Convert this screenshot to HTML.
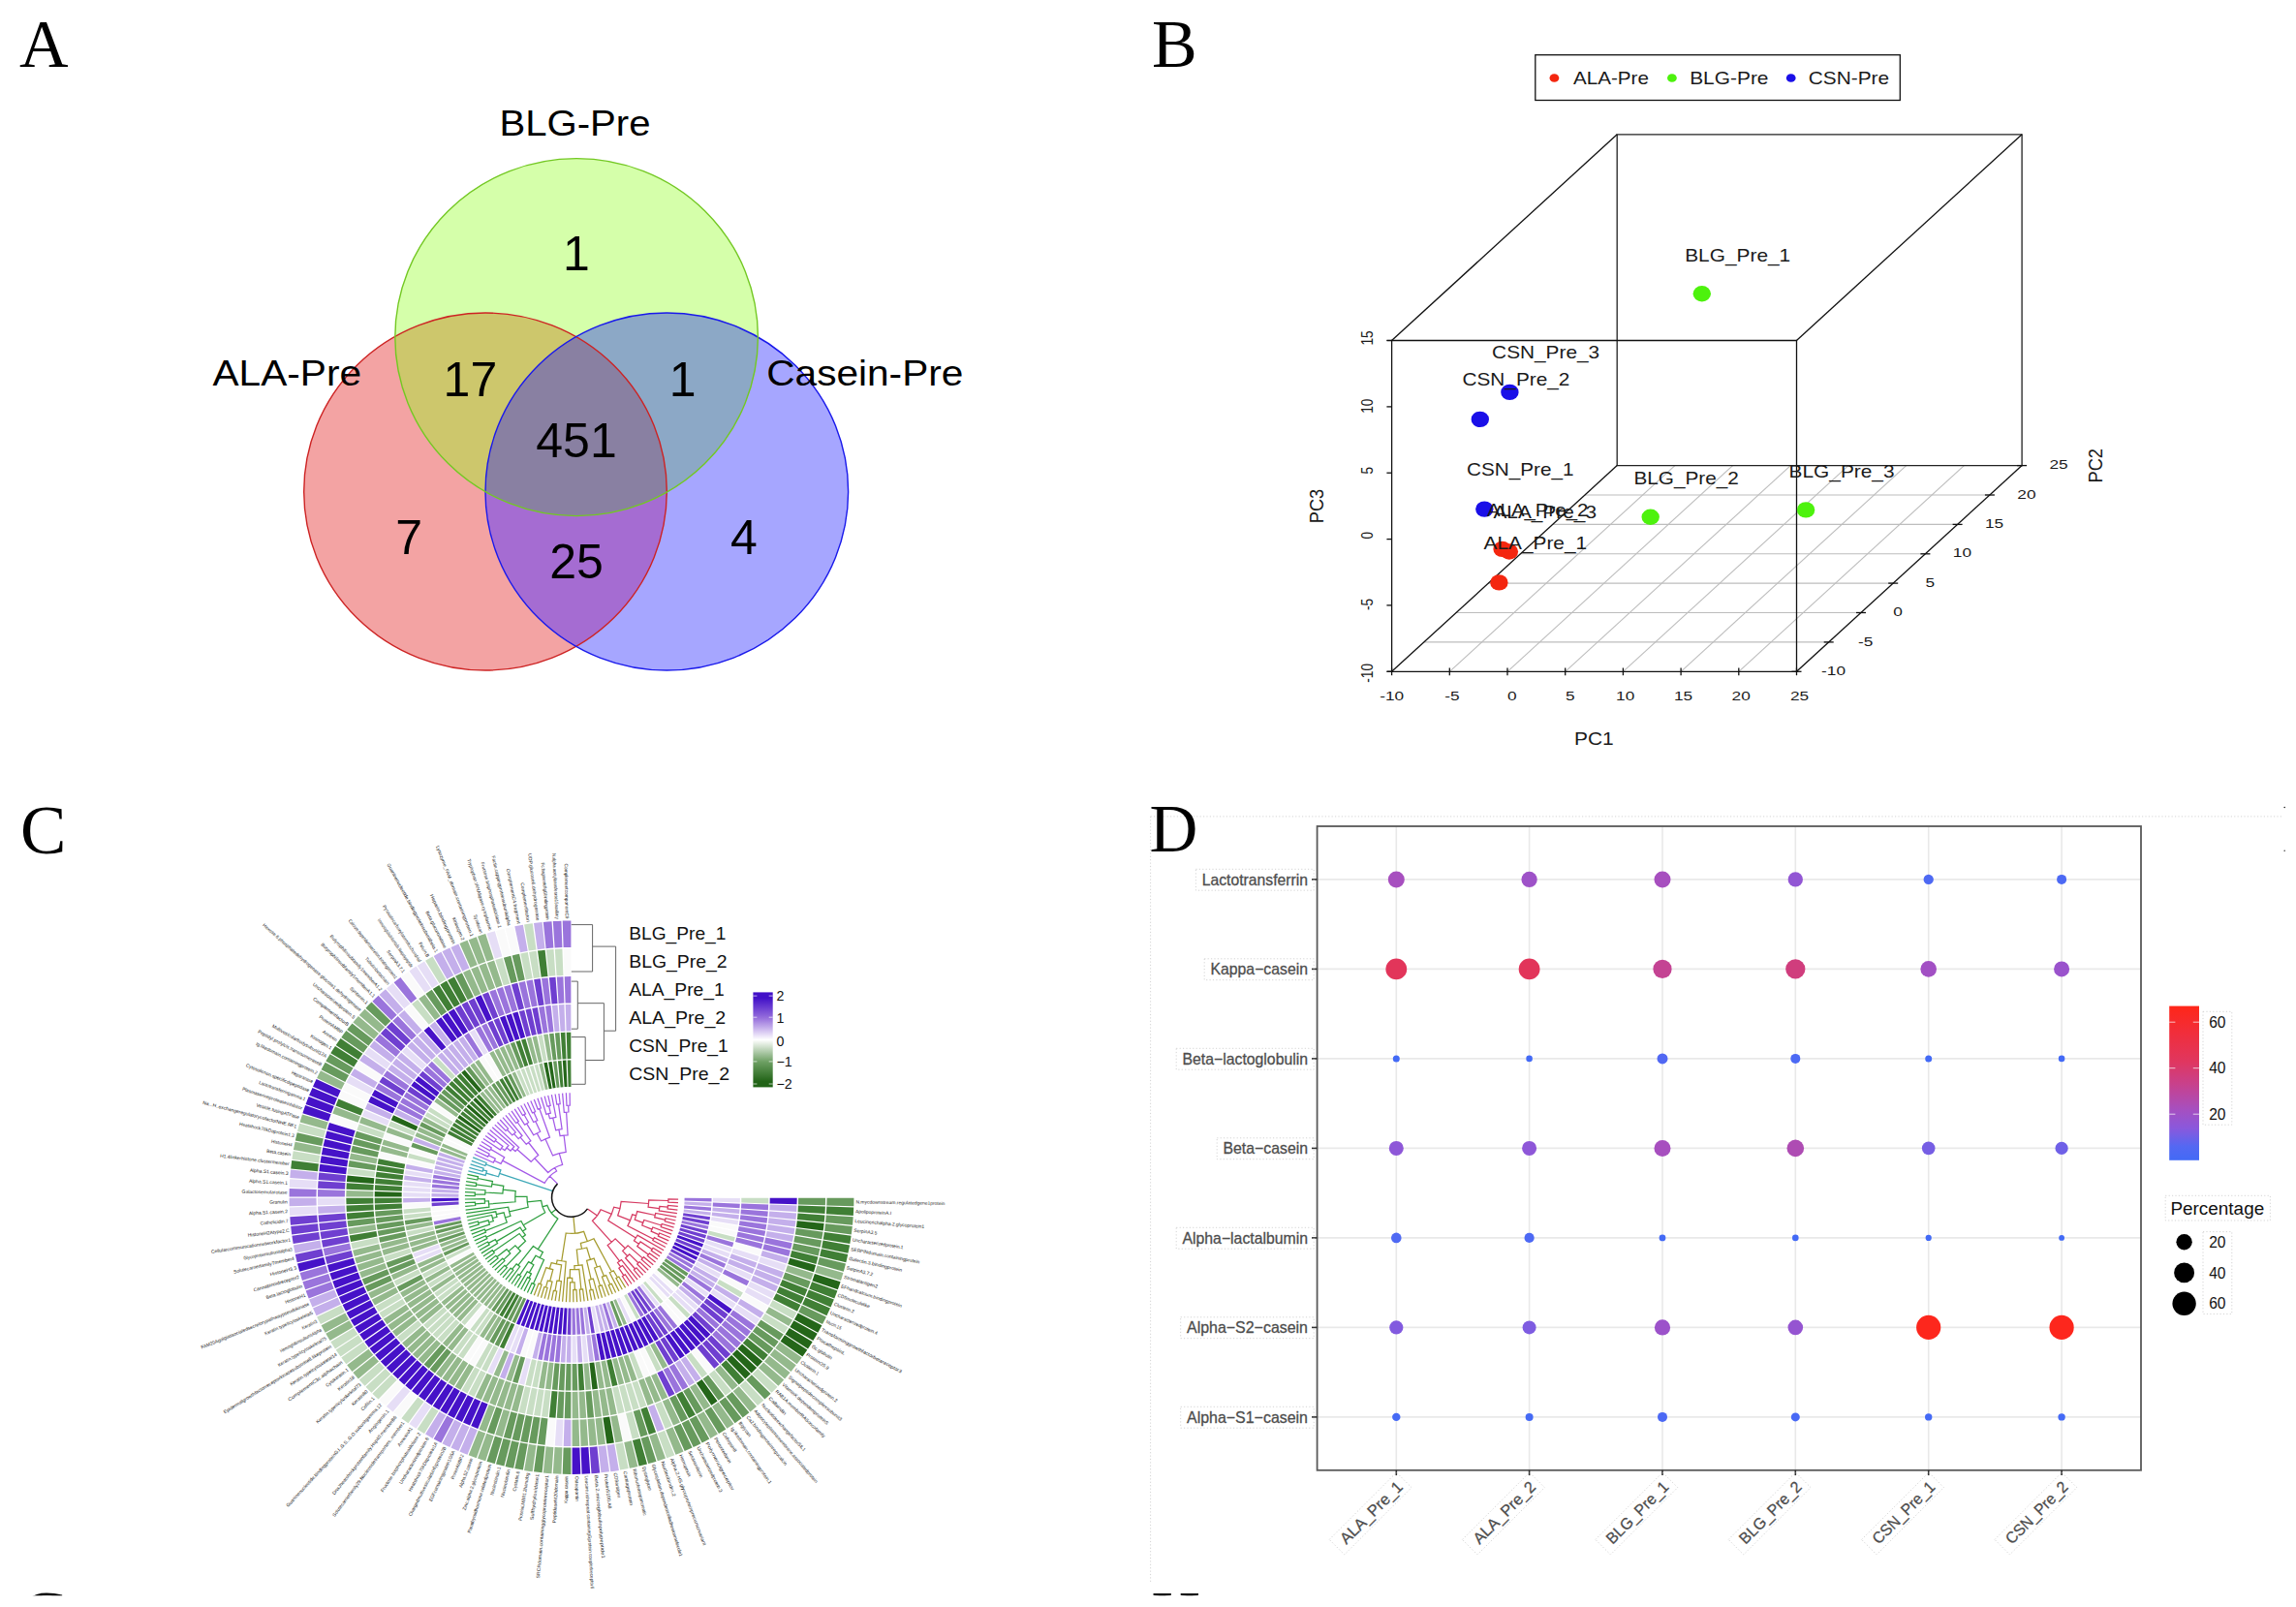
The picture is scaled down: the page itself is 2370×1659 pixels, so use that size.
<!DOCTYPE html>
<html><head><meta charset="utf-8"><title>Figure</title>
<style>html,body{margin:0;padding:0;background:#fff;}svg{display:block;}</style></head>
<body><svg width="2370" height="1659" viewBox="0 0 2370 1659">
<rect width="2370" height="1659" fill="#fff"/>
<g id="panelA">
<defs>
<clipPath id="cG"><ellipse cx="595.1" cy="348.1" rx="187.3" ry="184.5" /></clipPath>
<clipPath id="cR"><ellipse cx="501.0" cy="507.5" rx="187.3" ry="184.5" /></clipPath>
<clipPath id="cB"><ellipse cx="688.3" cy="507.5" rx="187.3" ry="184.5" /></clipPath>
</defs>
<ellipse cx="501.0" cy="507.5" rx="187.3" ry="184.5" fill="rgb(243,163,163)"/>
<ellipse cx="595.1" cy="348.1" rx="187.3" ry="184.5" fill="rgb(213,255,170)"/>
<ellipse cx="688.3" cy="507.5" rx="187.3" ry="184.5" fill="rgb(166,166,255)"/>
<g clip-path="url(#cG)"><ellipse cx="501.0" cy="507.5" rx="187.3" ry="184.5" fill="rgb(205,199,108)"/></g>
<g clip-path="url(#cG)"><ellipse cx="688.3" cy="507.5" rx="187.3" ry="184.5" fill="rgb(140,168,198)"/></g>
<g clip-path="url(#cR)"><ellipse cx="688.3" cy="507.5" rx="187.3" ry="184.5" fill="rgb(165,108,210)"/></g>
<g clip-path="url(#cG)"><g clip-path="url(#cR)"><ellipse cx="688.3" cy="507.5" rx="187.3" ry="184.5" fill="rgb(137,128,162)"/></g></g>
<ellipse cx="501.0" cy="507.5" rx="187.3" ry="184.5" fill="none" stroke="rgb(205,35,35)" stroke-width="1.4"/>
<ellipse cx="688.3" cy="507.5" rx="187.3" ry="184.5" fill="none" stroke="rgb(25,25,235)" stroke-width="1.4"/>
<ellipse cx="595.1" cy="348.1" rx="187.3" ry="184.5" fill="none" stroke="rgb(115,200,35)" stroke-width="1.4"/>
<text x="595.0" y="279.0" font-family='"Liberation Sans", sans-serif' font-size="50" text-anchor="middle" fill="#000">1</text>
<text x="485.4" y="408.9" font-family='"Liberation Sans", sans-serif' font-size="50" text-anchor="middle" fill="#000">17</text>
<text x="704.6" y="408.9" font-family='"Liberation Sans", sans-serif' font-size="50" text-anchor="middle" fill="#000">1</text>
<text x="595.0" y="471.6" font-family='"Liberation Sans", sans-serif' font-size="50" text-anchor="middle" fill="#000">451</text>
<text x="422.2" y="571.8" font-family='"Liberation Sans", sans-serif' font-size="50" text-anchor="middle" fill="#000">7</text>
<text x="767.8" y="571.8" font-family='"Liberation Sans", sans-serif' font-size="50" text-anchor="middle" fill="#000">4</text>
<text x="595.0" y="596.6" font-family='"Liberation Sans", sans-serif' font-size="50" text-anchor="middle" fill="#000">25</text>
<text x="515.5" y="139.5" font-family='"Liberation Sans", sans-serif' font-size="37.6" fill="#000" textLength="156.0" lengthAdjust="spacingAndGlyphs">BLG-Pre</text>
<text x="219.5" y="397.7" font-family='"Liberation Sans", sans-serif' font-size="37.6" fill="#000" textLength="153.5" lengthAdjust="spacingAndGlyphs">ALA-Pre</text>
<text x="791.3" y="397.7" font-family='"Liberation Sans", sans-serif' font-size="37.6" fill="#000" textLength="203.0" lengthAdjust="spacingAndGlyphs">Casein-Pre</text>
<text x="20.0" y="68.5" font-family='"Liberation Serif", serif' font-size="70" fill="#000">A</text>
</g>
<g id="panelB">
<line x1="1469.8" y1="662.9" x2="1887.7" y2="662.9" stroke="#bdbdbd" stroke-width="1.1"/>
<line x1="1503.1" y1="632.5" x2="1921.0" y2="632.5" stroke="#bdbdbd" stroke-width="1.1"/>
<line x1="1536.3" y1="602.1" x2="1954.2" y2="602.1" stroke="#bdbdbd" stroke-width="1.1"/>
<line x1="1569.5" y1="571.8" x2="1987.4" y2="571.8" stroke="#bdbdbd" stroke-width="1.1"/>
<line x1="1602.7" y1="541.4" x2="2020.6" y2="541.4" stroke="#bdbdbd" stroke-width="1.1"/>
<line x1="1636.0" y1="511.0" x2="2053.9" y2="511.0" stroke="#bdbdbd" stroke-width="1.1"/>
<line x1="1496.3" y1="693.3" x2="1728.9" y2="480.6" stroke="#bdbdbd" stroke-width="1.1"/>
<line x1="1556.0" y1="693.3" x2="1788.6" y2="480.6" stroke="#bdbdbd" stroke-width="1.1"/>
<line x1="1615.7" y1="693.3" x2="1848.3" y2="480.6" stroke="#bdbdbd" stroke-width="1.1"/>
<line x1="1675.4" y1="693.3" x2="1908.0" y2="480.6" stroke="#bdbdbd" stroke-width="1.1"/>
<line x1="1735.1" y1="693.3" x2="1967.7" y2="480.6" stroke="#bdbdbd" stroke-width="1.1"/>
<line x1="1794.8" y1="693.3" x2="2027.4" y2="480.6" stroke="#bdbdbd" stroke-width="1.1"/>
<path d="M1669.2 480.6 L1669.2 138.8 L2087.1 138.8 L2087.1 480.6 Z" fill="none" stroke="#222" stroke-width="1.3"/>
<line x1="1436.6" y1="351.5" x2="1669.2" y2="138.8" stroke="#111" stroke-width="1.3"/>
<line x1="1854.5" y1="351.5" x2="2087.1" y2="138.8" stroke="#111" stroke-width="1.3"/>
<line x1="1436.6" y1="693.3" x2="1669.2" y2="480.6" stroke="#111" stroke-width="1.3"/>
<line x1="1854.5" y1="693.3" x2="2087.1" y2="480.6" stroke="#111" stroke-width="1.3"/>
<path d="M1436.6 693.3 L1436.6 351.5 L1854.5 351.5 L1854.5 693.3 Z" fill="none" stroke="#111" stroke-width="1.3"/>
<line x1="1431.6" y1="693.3" x2="1436.6" y2="693.3" stroke="#111" stroke-width="1.3"/>
<line x1="1431.6" y1="351.5" x2="1436.6" y2="351.5" stroke="#111" stroke-width="1.3"/>
<line x1="1436.6" y1="689.5" x2="1436.6" y2="697.2" stroke="#111" stroke-width="1.3"/>
<text transform="translate(1436.6,722.7) scale(1.26,1)" font-family='"Liberation Sans", sans-serif' font-size="13.7" text-anchor="middle" fill="#1a1a1a">-10</text>
<line x1="1496.3" y1="689.5" x2="1496.3" y2="697.2" stroke="#111" stroke-width="1.3"/>
<text transform="translate(1498.9,722.7) scale(1.26,1)" font-family='"Liberation Sans", sans-serif' font-size="13.7" text-anchor="middle" fill="#1a1a1a">-5</text>
<line x1="1556.0" y1="689.5" x2="1556.0" y2="697.2" stroke="#111" stroke-width="1.3"/>
<text transform="translate(1560.7,722.7) scale(1.26,1)" font-family='"Liberation Sans", sans-serif' font-size="13.7" text-anchor="middle" fill="#1a1a1a">0</text>
<line x1="1615.7" y1="689.5" x2="1615.7" y2="697.2" stroke="#111" stroke-width="1.3"/>
<text transform="translate(1620.7,722.7) scale(1.26,1)" font-family='"Liberation Sans", sans-serif' font-size="13.7" text-anchor="middle" fill="#1a1a1a">5</text>
<line x1="1675.4" y1="689.5" x2="1675.4" y2="697.2" stroke="#111" stroke-width="1.3"/>
<text transform="translate(1677.7,722.7) scale(1.26,1)" font-family='"Liberation Sans", sans-serif' font-size="13.7" text-anchor="middle" fill="#1a1a1a">10</text>
<line x1="1735.1" y1="689.5" x2="1735.1" y2="697.2" stroke="#111" stroke-width="1.3"/>
<text transform="translate(1737.6,722.7) scale(1.26,1)" font-family='"Liberation Sans", sans-serif' font-size="13.7" text-anchor="middle" fill="#1a1a1a">15</text>
<line x1="1794.8" y1="689.5" x2="1794.8" y2="697.2" stroke="#111" stroke-width="1.3"/>
<text transform="translate(1797.2,722.7) scale(1.26,1)" font-family='"Liberation Sans", sans-serif' font-size="13.7" text-anchor="middle" fill="#1a1a1a">20</text>
<line x1="1854.5" y1="689.5" x2="1854.5" y2="697.2" stroke="#111" stroke-width="1.3"/>
<text transform="translate(1857.5,722.7) scale(1.26,1)" font-family='"Liberation Sans", sans-serif' font-size="13.7" text-anchor="middle" fill="#1a1a1a">25</text>
<line x1="1431.4" y1="693.3" x2="1436.6" y2="693.3" stroke="#111" stroke-width="1.3"/>
<text transform="translate(1417.0,694.8) scale(1.26,1) rotate(-90)" font-family='"Liberation Sans", sans-serif' font-size="13.7" text-anchor="middle" fill="#1a1a1a">-10</text>
<line x1="1431.4" y1="624.9" x2="1436.6" y2="624.9" stroke="#111" stroke-width="1.3"/>
<text transform="translate(1417.0,623.9) scale(1.26,1) rotate(-90)" font-family='"Liberation Sans", sans-serif' font-size="13.7" text-anchor="middle" fill="#1a1a1a">-5</text>
<line x1="1431.4" y1="556.6" x2="1436.6" y2="556.6" stroke="#111" stroke-width="1.3"/>
<text transform="translate(1417.0,552.6) scale(1.26,1) rotate(-90)" font-family='"Liberation Sans", sans-serif' font-size="13.7" text-anchor="middle" fill="#1a1a1a">0</text>
<line x1="1431.4" y1="488.2" x2="1436.6" y2="488.2" stroke="#111" stroke-width="1.3"/>
<text transform="translate(1417.0,485.7) scale(1.26,1) rotate(-90)" font-family='"Liberation Sans", sans-serif' font-size="13.7" text-anchor="middle" fill="#1a1a1a">5</text>
<line x1="1431.4" y1="419.9" x2="1436.6" y2="419.9" stroke="#111" stroke-width="1.3"/>
<text transform="translate(1417.0,419.2) scale(1.26,1) rotate(-90)" font-family='"Liberation Sans", sans-serif' font-size="13.7" text-anchor="middle" fill="#1a1a1a">10</text>
<line x1="1431.4" y1="351.5" x2="1436.6" y2="351.5" stroke="#111" stroke-width="1.3"/>
<text transform="translate(1417.0,349.0) scale(1.26,1) rotate(-90)" font-family='"Liberation Sans", sans-serif' font-size="13.7" text-anchor="middle" fill="#1a1a1a">15</text>
<line x1="1849.5" y1="693.3" x2="1859.5" y2="693.3" stroke="#111" stroke-width="1.3"/>
<text transform="translate(1892.5,696.9) scale(1.26,1)" font-family='"Liberation Sans", sans-serif' font-size="13.7" text-anchor="middle" fill="#1a1a1a">-10</text>
<line x1="1882.7" y1="662.9" x2="1892.7" y2="662.9" stroke="#111" stroke-width="1.3"/>
<text transform="translate(1925.7,666.5) scale(1.26,1)" font-family='"Liberation Sans", sans-serif' font-size="13.7" text-anchor="middle" fill="#1a1a1a">-5</text>
<line x1="1916.0" y1="632.5" x2="1926.0" y2="632.5" stroke="#111" stroke-width="1.3"/>
<text transform="translate(1959.0,636.1) scale(1.26,1)" font-family='"Liberation Sans", sans-serif' font-size="13.7" text-anchor="middle" fill="#1a1a1a">0</text>
<line x1="1949.2" y1="602.1" x2="1959.2" y2="602.1" stroke="#111" stroke-width="1.3"/>
<text transform="translate(1992.2,605.7) scale(1.26,1)" font-family='"Liberation Sans", sans-serif' font-size="13.7" text-anchor="middle" fill="#1a1a1a">5</text>
<line x1="1982.4" y1="571.8" x2="1992.4" y2="571.8" stroke="#111" stroke-width="1.3"/>
<text transform="translate(2025.4,575.4) scale(1.26,1)" font-family='"Liberation Sans", sans-serif' font-size="13.7" text-anchor="middle" fill="#1a1a1a">10</text>
<line x1="2015.6" y1="541.4" x2="2025.6" y2="541.4" stroke="#111" stroke-width="1.3"/>
<text transform="translate(2058.6,545.0) scale(1.26,1)" font-family='"Liberation Sans", sans-serif' font-size="13.7" text-anchor="middle" fill="#1a1a1a">15</text>
<line x1="2048.9" y1="511.0" x2="2058.9" y2="511.0" stroke="#111" stroke-width="1.3"/>
<text transform="translate(2091.9,514.6) scale(1.26,1)" font-family='"Liberation Sans", sans-serif' font-size="13.7" text-anchor="middle" fill="#1a1a1a">20</text>
<line x1="2082.1" y1="480.6" x2="2092.1" y2="480.6" stroke="#111" stroke-width="1.3"/>
<text transform="translate(2125.1,484.2) scale(1.26,1)" font-family='"Liberation Sans", sans-serif' font-size="13.7" text-anchor="middle" fill="#1a1a1a">25</text>
<text transform="translate(1645.3,769.1) scale(1.15,1)" font-family='"Liberation Sans", sans-serif' font-size="18.2" text-anchor="middle" fill="#1a1a1a">PC1</text>
<text transform="translate(2169.5,480.7) scale(1.15,1) rotate(-90)" font-family='"Liberation Sans", sans-serif' font-size="18.2" text-anchor="middle" fill="#1a1a1a">PC2</text>
<text transform="translate(1366.0,522.5) scale(1.15,1) rotate(-90)" font-family='"Liberation Sans", sans-serif' font-size="18.2" text-anchor="middle" fill="#1a1a1a">PC3</text>
<ellipse cx="1756.8" cy="303.2" rx="9.2" ry="8.2" fill="#4df20d"/>
<ellipse cx="1558.4" cy="404.9" rx="9.2" ry="8.2" fill="#1a0fe8"/>
<ellipse cx="1527.8" cy="432.9" rx="9.2" ry="8.2" fill="#1a0fe8"/>
<ellipse cx="1532.3" cy="525.6" rx="9.2" ry="8.2" fill="#1a0fe8"/>
<ellipse cx="1703.7" cy="533.7" rx="9.2" ry="8.2" fill="#4df20d"/>
<ellipse cx="1864.1" cy="526.4" rx="9.2" ry="8.2" fill="#4df20d"/>
<ellipse cx="1550.6" cy="566.9" rx="9.2" ry="8.2" fill="#f4260f"/>
<ellipse cx="1557.9" cy="569.5" rx="9.2" ry="8.2" fill="#f4260f"/>
<ellipse cx="1547.4" cy="601.4" rx="9.2" ry="8.2" fill="#f4260f"/>
<text x="1540.1" y="369.6" font-family='"Liberation Sans", sans-serif' font-size="18.2" fill="#1a1a1a" textLength="111.1" lengthAdjust="spacingAndGlyphs">CSN_Pre_3</text>
<text x="1509.5" y="397.9" font-family='"Liberation Sans", sans-serif' font-size="18.2" fill="#1a1a1a" textLength="110.8" lengthAdjust="spacingAndGlyphs">CSN_Pre_2</text>
<text x="1514.0" y="491.2" font-family='"Liberation Sans", sans-serif' font-size="18.2" fill="#1a1a1a" textLength="110.5" lengthAdjust="spacingAndGlyphs">CSN_Pre_1</text>
<text x="1534.9" y="533.0" font-family='"Liberation Sans", sans-serif' font-size="18.2" fill="#1a1a1a" textLength="104.5" lengthAdjust="spacingAndGlyphs">ALA_Pre_2</text>
<text x="1541.4" y="534.8" font-family='"Liberation Sans", sans-serif' font-size="18.2" fill="#1a1a1a" textLength="106.6" lengthAdjust="spacingAndGlyphs">ALA_Pre_3</text>
<text x="1531.5" y="566.9" font-family='"Liberation Sans", sans-serif' font-size="18.2" fill="#1a1a1a" textLength="106.6" lengthAdjust="spacingAndGlyphs">ALA_Pre_1</text>
<text x="1686.4" y="499.8" font-family='"Liberation Sans", sans-serif' font-size="18.2" fill="#1a1a1a" textLength="108.5" lengthAdjust="spacingAndGlyphs">BLG_Pre_2</text>
<text x="1846.6" y="492.5" font-family='"Liberation Sans", sans-serif' font-size="18.2" fill="#1a1a1a" textLength="108.9" lengthAdjust="spacingAndGlyphs">BLG_Pre_3</text>
<text x="1739.2" y="269.6" font-family='"Liberation Sans", sans-serif' font-size="18.2" fill="#1a1a1a" textLength="109.0" lengthAdjust="spacingAndGlyphs">BLG_Pre_1</text>
<rect x="1584.8" y="56.7" width="376.5" height="46.8" fill="none" stroke="#111" stroke-width="1.3"/>
<ellipse cx="1604.4" cy="80.5" rx="4.9" ry="4.3" fill="#f4260f"/>
<ellipse cx="1725.9" cy="80.5" rx="4.9" ry="4.3" fill="#4df20d"/>
<ellipse cx="1848.7" cy="80.5" rx="4.9" ry="4.3" fill="#1a0fe8"/>
<text x="1624.0" y="87.0" font-family='"Liberation Sans", sans-serif' font-size="18.2" fill="#1a1a1a" textLength="77.9" lengthAdjust="spacingAndGlyphs">ALA-Pre</text>
<text x="1744.2" y="87.0" font-family='"Liberation Sans", sans-serif' font-size="18.2" fill="#1a1a1a" textLength="81.3" lengthAdjust="spacingAndGlyphs">BLG-Pre</text>
<text x="1866.8" y="87.0" font-family='"Liberation Sans", sans-serif' font-size="18.2" fill="#1a1a1a" textLength="83.2" lengthAdjust="spacingAndGlyphs">CSN-Pre</text>
<text x="1189.0" y="68.5" font-family='"Liberation Serif", serif' font-size="70" fill="#000">B</text>
</g>
<g id="panelC">
<path fill="rgb(154, 116, 220)" d="M706.6 1236.7L734.5 1236.9A144.5 141.7 0 0 1 734.5 1240.4L706.5 1239.6A116.6 114.3 0 0 0 706.6 1236.7ZM706.3 1244.5L734.1 1246.5A144.5 141.7 0 0 1 733.8 1250.0L706.0 1247.4A116.6 114.3 0 0 0 706.3 1244.5ZM704.0 1260.0L731.4 1265.7A144.5 141.7 0 0 1 730.6 1269.1L703.4 1262.7A116.6 114.3 0 0 0 704.0 1260.0ZM691.4 1292.7L715.7 1306.2A144.5 141.7 0 0 1 713.8 1309.3L689.9 1295.1A116.6 114.3 0 0 0 691.4 1292.7ZM689.3 1296.0L713.1 1310.4A144.5 141.7 0 0 1 711.2 1313.4L687.8 1298.4A116.6 114.3 0 0 0 689.3 1296.0ZM660.0 1327.6L676.8 1349.5A144.5 141.7 0 0 1 673.9 1351.6L657.7 1329.3A116.6 114.3 0 0 0 660.0 1327.6ZM650.1 1334.1L664.5 1357.6A144.5 141.7 0 0 1 661.4 1359.4L647.6 1335.6A116.6 114.3 0 0 0 650.1 1334.1ZM624.7 1345.3L633.1 1371.5A144.5 141.7 0 0 1 629.6 1372.5L622.0 1346.1A116.6 114.3 0 0 0 624.7 1345.3ZM601.4 1350.0L604.1 1377.2A144.5 141.7 0 0 1 600.5 1377.5L598.5 1350.2A116.6 114.3 0 0 0 601.4 1350.0ZM597.4 1350.3L599.2 1377.6A144.5 141.7 0 0 1 595.6 1377.8L594.5 1350.4A116.6 114.3 0 0 0 597.4 1350.3ZM593.4 1350.5L594.3 1377.8A144.5 141.7 0 0 1 590.7 1377.9L590.5 1350.5A116.6 114.3 0 0 0 593.4 1350.5ZM475.7 1258.9L448.4 1264.4A144.5 141.7 0 0 1 447.7 1260.9L475.2 1256.1A116.6 114.3 0 0 0 475.7 1258.9ZM473.7 1227.9L445.9 1225.9A144.5 141.7 0 0 1 446.2 1222.4L474.0 1225.0A116.6 114.3 0 0 0 473.7 1227.9ZM474.1 1224.0L446.3 1221.0A144.5 141.7 0 0 1 446.7 1217.6L474.4 1221.2A116.6 114.3 0 0 0 474.1 1224.0ZM474.6 1220.1L446.9 1216.2A144.5 141.7 0 0 1 447.5 1212.8L475.0 1217.3A116.6 114.3 0 0 0 474.6 1220.1ZM735.9 1241.6L763.8 1242.7A173.9 170.5 0 0 1 763.5 1247.2L735.7 1245.4A146.0 143.1 0 0 0 735.9 1241.6ZM730.4 1275.3L757.3 1282.8A173.9 170.5 0 0 1 756.0 1287.2L729.3 1279.0A146.0 143.1 0 0 0 730.4 1275.3ZM723.7 1293.7L749.2 1304.7A173.9 170.5 0 0 1 747.3 1308.8L722.1 1297.2A146.0 143.1 0 0 0 723.7 1293.7ZM711.7 1315.1L735.1 1330.3A173.9 170.5 0 0 1 732.5 1334.0L709.6 1318.3A146.0 143.1 0 0 0 711.7 1315.1ZM706.0 1323.1L728.2 1339.7A173.9 170.5 0 0 1 725.3 1343.3L703.6 1326.1A146.0 143.1 0 0 0 706.0 1323.1ZM681.7 1347.5L699.2 1368.9A173.9 170.5 0 0 1 695.6 1371.7L678.6 1349.9A146.0 143.1 0 0 0 681.7 1347.5ZM677.7 1350.6L694.6 1372.4A173.9 170.5 0 0 1 690.8 1375.1L674.6 1352.8A146.0 143.1 0 0 0 677.7 1350.6ZM614.2 1377.3L618.9 1404.3A173.9 170.5 0 0 1 614.3 1405.0L610.4 1377.9A146.0 143.1 0 0 0 614.2 1377.3ZM579.5 1378.9L577.5 1406.3A173.9 170.5 0 0 1 572.9 1405.9L575.6 1378.6A146.0 143.1 0 0 0 579.5 1378.9ZM574.5 1378.5L571.6 1405.7A173.9 170.5 0 0 1 567.0 1405.2L570.7 1378.0A146.0 143.1 0 0 0 574.5 1378.5ZM569.6 1377.9L565.7 1405.0A173.9 170.5 0 0 1 561.1 1404.3L565.8 1377.3A146.0 143.1 0 0 0 569.6 1377.9ZM564.6 1377.1L559.8 1404.1A173.9 170.5 0 0 1 555.3 1403.3L560.9 1376.4A146.0 143.1 0 0 0 564.6 1377.1ZM765.2 1242.6L793.1 1243.6A203.3 199.3 0 0 1 792.9 1249.2L765.0 1247.4A175.3 171.9 0 0 0 765.2 1242.6ZM764.9 1248.5L792.8 1250.4A203.3 199.3 0 0 1 792.3 1255.9L764.5 1253.2A175.3 171.9 0 0 0 764.9 1248.5ZM764.4 1254.3L792.2 1257.2A203.3 199.3 0 0 1 791.5 1262.7L763.8 1259.1A175.3 171.9 0 0 0 764.4 1254.3ZM763.6 1260.2L791.3 1264.0A203.3 199.3 0 0 1 790.4 1269.4L762.9 1264.9A175.3 171.9 0 0 0 763.6 1260.2ZM762.7 1266.0L790.2 1270.7A203.3 199.3 0 0 1 789.2 1276.1L761.8 1270.6A175.3 171.9 0 0 0 762.7 1266.0ZM761.6 1271.7L788.9 1277.4A203.3 199.3 0 0 1 787.7 1282.8L760.5 1276.4A175.3 171.9 0 0 0 761.6 1271.7ZM760.2 1277.4L787.3 1284.0A203.3 199.3 0 0 1 785.9 1289.3L759.0 1282.0A175.3 171.9 0 0 0 760.2 1277.4ZM748.1 1310.5L773.3 1322.4A203.3 199.3 0 0 1 770.8 1327.3L745.9 1314.8A175.3 171.9 0 0 0 748.1 1310.5ZM721.8 1349.6L742.8 1367.7A203.3 199.3 0 0 1 739.0 1371.8L718.5 1353.1A175.3 171.9 0 0 0 721.8 1349.6ZM434.6 1156.6L409.8 1143.9A203.3 199.3 0 0 1 412.5 1139.1L436.9 1152.4A175.3 171.9 0 0 0 434.6 1156.6ZM437.4 1151.5L413.1 1138.0A203.3 199.3 0 0 1 416.0 1133.2L439.9 1147.4A175.3 171.9 0 0 0 437.4 1151.5ZM440.5 1146.4L416.7 1132.1A203.3 199.3 0 0 1 419.7 1127.4L443.1 1142.4A175.3 171.9 0 0 0 440.5 1146.4ZM458.2 1122.8L437.2 1104.7A203.3 199.3 0 0 1 441.0 1100.6L461.5 1119.3A175.3 171.9 0 0 0 458.2 1122.8ZM462.2 1118.5L441.9 1099.7A203.3 199.3 0 0 1 445.8 1095.7L465.6 1115.0A175.3 171.9 0 0 0 462.2 1118.5ZM494.3 1092.2L479.1 1069.2A203.3 199.3 0 0 1 483.8 1066.2L498.4 1089.6A175.3 171.9 0 0 0 494.3 1092.2ZM504.6 1086.1L490.9 1062.2A203.3 199.3 0 0 1 495.9 1059.5L508.8 1083.8A175.3 171.9 0 0 0 504.6 1086.1ZM509.8 1083.3L497.1 1058.9A203.3 199.3 0 0 1 502.1 1056.5L514.2 1081.2A175.3 171.9 0 0 0 509.8 1083.3ZM560.8 1066.7L556.1 1039.7A203.3 199.3 0 0 1 561.7 1038.8L565.6 1066.0A175.3 171.9 0 0 0 560.8 1066.7ZM566.7 1065.8L563.0 1038.7A203.3 199.3 0 0 1 568.6 1038.0L571.5 1065.3A175.3 171.9 0 0 0 566.7 1065.8ZM790.3 1277.6L817.7 1283.2A232.7 228.1 0 0 1 816.2 1289.6L789.0 1283.2A204.7 200.7 0 0 0 790.3 1277.6ZM788.8 1284.3L815.9 1290.8A232.7 228.1 0 0 1 814.2 1297.1L787.3 1289.8A204.7 200.7 0 0 0 788.8 1284.3ZM756.9 1352.4L779.7 1368.3A232.7 228.1 0 0 1 775.8 1373.5L753.5 1357.0A204.7 200.7 0 0 0 756.9 1352.4ZM752.8 1357.9L775.0 1374.5A232.7 228.1 0 0 1 770.9 1379.7L749.2 1362.4A204.7 200.7 0 0 0 752.8 1357.9ZM748.4 1363.3L770.1 1380.6A232.7 228.1 0 0 1 765.8 1385.6L744.7 1367.7A204.7 200.7 0 0 0 748.4 1363.3ZM743.9 1368.5L764.9 1386.6A232.7 228.1 0 0 1 760.5 1391.4L740.0 1372.8A204.7 200.7 0 0 0 743.9 1368.5ZM739.2 1373.6L759.6 1392.4A232.7 228.1 0 0 1 755.0 1397.0L735.2 1377.7A204.7 200.7 0 0 0 739.2 1373.6ZM695.9 1408.0L710.3 1431.4A232.7 228.1 0 0 1 704.6 1434.7L690.8 1410.9A204.7 200.7 0 0 0 695.9 1408.0ZM689.8 1411.4L703.5 1435.3A232.7 228.1 0 0 1 697.6 1438.4L684.7 1414.1A204.7 200.7 0 0 0 689.8 1411.4ZM411.8 1137.3L387.5 1123.8A232.7 228.1 0 0 1 390.9 1118.2L414.8 1132.4A204.7 200.7 0 0 0 411.8 1137.3ZM419.1 1125.7L395.8 1110.6A232.7 228.1 0 0 1 399.5 1105.2L422.4 1120.9A204.7 200.7 0 0 0 419.1 1125.7ZM515.4 1049.3L505.3 1023.8A232.7 228.1 0 0 1 511.5 1021.5L520.9 1047.3A204.7 200.7 0 0 0 515.4 1049.3ZM522.0 1046.9L512.7 1021.1A232.7 228.1 0 0 1 519.0 1019.0L527.5 1045.1A204.7 200.7 0 0 0 522.0 1046.9ZM528.6 1044.7L520.2 1018.6A232.7 228.1 0 0 1 526.6 1016.7L534.2 1043.1A204.7 200.7 0 0 0 528.6 1044.7ZM542.1 1041.1L535.5 1014.4A232.7 228.1 0 0 1 542.0 1013.0L547.8 1039.8A204.7 200.7 0 0 0 542.1 1041.1ZM548.9 1039.6L543.3 1012.7A232.7 228.1 0 0 1 549.8 1011.5L554.7 1038.5A204.7 200.7 0 0 0 548.9 1039.6ZM562.7 1037.3L559.0 1010.1A232.7 228.1 0 0 1 565.6 1009.4L568.5 1036.6A204.7 200.7 0 0 0 562.7 1037.3ZM576.6 1035.9L574.8 1008.6A232.7 228.1 0 0 1 581.4 1008.3L582.4 1035.6A204.7 200.7 0 0 0 576.6 1035.9ZM583.6 1035.6L582.7 1008.2A232.7 228.1 0 0 1 589.3 1008.1L589.4 1035.5A204.7 200.7 0 0 0 583.6 1035.6ZM362.4 1290.0L335.3 1296.4A262.0 256.9 0 0 1 333.6 1289.1L360.9 1283.4A234.1 229.5 0 0 0 362.4 1290.0ZM355.9 1235.6L328.0 1235.6A262.0 256.9 0 0 1 328.1 1228.1L356.0 1228.9A234.1 229.5 0 0 0 355.9 1235.6ZM408.8 1090.9L387.1 1073.6A262.0 256.9 0 0 1 392.1 1067.8L413.2 1085.8A234.1 229.5 0 0 0 408.8 1090.9ZM424.9 1073.5L405.2 1054.1A262.0 256.9 0 0 1 410.7 1048.9L429.8 1068.9A234.1 229.5 0 0 0 424.9 1073.5ZM468.3 1465.3L455.4 1489.6A291.4 285.7 0 0 1 447.7 1485.5L461.4 1461.6A263.5 258.3 0 0 0 468.3 1465.3ZM344.7 1330.4L318.7 1340.4A291.4 285.7 0 0 1 315.6 1332.5L341.9 1323.2A263.5 258.3 0 0 0 344.7 1330.4ZM341.6 1322.2L315.2 1331.3A291.4 285.7 0 0 1 312.4 1323.2L339.1 1314.9A263.5 258.3 0 0 0 341.6 1322.2ZM338.7 1313.8L312.0 1322.0A291.4 285.7 0 0 1 309.6 1313.9L336.5 1306.4A263.5 258.3 0 0 0 338.7 1313.8ZM326.5 1235.6L298.6 1235.6A291.4 285.7 0 0 1 298.7 1227.1L326.7 1228.0A263.5 258.3 0 0 0 326.5 1235.6ZM404.1 1053.2L384.4 1033.7A291.4 285.7 0 0 1 390.6 1027.8L409.7 1047.8A263.5 258.3 0 0 0 404.1 1053.2ZM424.2 1035.5L406.6 1014.2A291.4 285.7 0 0 1 413.4 1008.9L430.3 1030.7A263.5 258.3 0 0 0 424.2 1035.5ZM563.6 979.2L560.8 951.9A291.4 285.7 0 0 1 569.5 951.2L571.4 978.5A263.5 258.3 0 0 0 563.6 979.2ZM572.6 978.5L570.8 951.1A291.4 285.7 0 0 1 579.4 950.7L580.4 978.1A263.5 258.3 0 0 0 572.6 978.5ZM581.6 978.0L580.7 950.6A291.4 285.7 0 0 1 589.4 950.5L589.4 977.9A263.5 258.3 0 0 0 581.6 978.0Z"/>
<path fill="rgb(196, 175, 235)" d="M706.5 1240.6L734.4 1241.7A144.5 141.7 0 0 1 734.2 1245.2L706.4 1243.5A116.6 114.3 0 0 0 706.5 1240.6ZM705.9 1248.4L733.7 1251.4A144.5 141.7 0 0 1 733.3 1254.8L705.6 1251.2A116.6 114.3 0 0 0 705.9 1248.4ZM628.5 1344.1L637.8 1369.9A144.5 141.7 0 0 1 634.4 1371.1L625.8 1345.0A116.6 114.3 0 0 0 628.5 1344.1ZM620.9 1346.4L628.3 1372.8A144.5 141.7 0 0 1 624.9 1373.7L618.1 1347.1A116.6 114.3 0 0 0 620.9 1346.4ZM617.1 1347.4L623.6 1374.0A144.5 141.7 0 0 1 620.1 1374.8L614.3 1348.0A116.6 114.3 0 0 0 617.1 1347.4ZM605.3 1349.5L609.0 1376.7A144.5 141.7 0 0 1 605.5 1377.1L602.5 1349.8A116.6 114.3 0 0 0 605.3 1349.5ZM473.4 1235.7L445.5 1235.5A144.5 141.7 0 0 1 445.5 1232.0L473.5 1232.8A116.6 114.3 0 0 0 473.4 1235.7ZM473.5 1231.8L445.6 1230.7A144.5 141.7 0 0 1 445.8 1227.2L473.6 1228.9A116.6 114.3 0 0 0 473.5 1231.8ZM475.2 1216.3L447.7 1211.5A144.5 141.7 0 0 1 448.4 1208.0L475.7 1213.5A116.6 114.3 0 0 0 475.2 1216.3ZM476.0 1212.4L448.6 1206.7A144.5 141.7 0 0 1 449.4 1203.3L476.6 1209.7A116.6 114.3 0 0 0 476.0 1212.4ZM476.9 1208.6L449.7 1202.0A144.5 141.7 0 0 1 450.6 1198.6L477.6 1205.9A116.6 114.3 0 0 0 476.9 1208.6ZM477.9 1204.8L451.0 1197.3A144.5 141.7 0 0 1 452.0 1194.0L478.7 1202.1A116.6 114.3 0 0 0 477.9 1204.8ZM479.0 1201.1L452.4 1192.7A144.5 141.7 0 0 1 453.6 1189.4L480.0 1198.4A116.6 114.3 0 0 0 479.0 1201.1ZM735.6 1246.5L763.5 1248.5A173.9 170.5 0 0 1 763.1 1253.0L735.3 1250.3A146.0 143.1 0 0 0 735.6 1246.5ZM735.1 1251.4L762.9 1254.3A173.9 170.5 0 0 1 762.4 1258.8L734.7 1255.1A146.0 143.1 0 0 0 735.1 1251.4ZM725.6 1289.2L751.5 1299.4A173.9 170.5 0 0 1 749.8 1303.5L724.1 1292.7A146.0 143.1 0 0 0 725.6 1289.2ZM721.6 1298.2L746.8 1310.0A173.9 170.5 0 0 1 744.7 1314.1L719.9 1301.5A146.0 143.1 0 0 0 721.6 1298.2ZM717.0 1306.8L741.3 1320.3A173.9 170.5 0 0 1 738.9 1324.2L715.0 1310.1A146.0 143.1 0 0 0 717.0 1306.8ZM714.4 1311.0L738.2 1325.3A173.9 170.5 0 0 1 735.8 1329.2L712.4 1314.2A146.0 143.1 0 0 0 714.4 1311.0ZM702.9 1326.9L724.5 1344.3A173.9 170.5 0 0 1 721.5 1347.8L700.4 1329.8A146.0 143.1 0 0 0 702.9 1326.9ZM609.3 1378.0L613.0 1405.2A173.9 170.5 0 0 1 608.4 1405.7L605.5 1378.5A146.0 143.1 0 0 0 609.3 1378.0ZM599.4 1379.0L601.2 1406.3A173.9 170.5 0 0 1 596.6 1406.6L595.5 1379.2A146.0 143.1 0 0 0 599.4 1379.0ZM589.4 1379.3L589.3 1406.7A173.9 170.5 0 0 1 584.7 1406.6L585.6 1379.2A146.0 143.1 0 0 0 589.4 1379.3ZM584.5 1379.2L583.4 1406.6A173.9 170.5 0 0 1 578.8 1406.3L580.6 1379.0A146.0 143.1 0 0 0 584.5 1379.2ZM559.8 1376.2L554.0 1403.0A173.9 170.5 0 0 1 549.5 1402.0L556.0 1375.4A146.0 143.1 0 0 0 559.8 1376.2ZM545.3 1372.4L536.8 1398.5A173.9 170.5 0 0 1 532.4 1397.1L541.6 1371.2A146.0 143.1 0 0 0 545.3 1372.4ZM444.1 1240.5L416.2 1241.4A173.9 170.5 0 0 1 416.1 1236.9L444.0 1236.7A146.0 143.1 0 0 0 444.1 1240.5ZM444.9 1221.0L417.1 1218.1A173.9 170.5 0 0 1 417.6 1213.6L445.3 1217.3A146.0 143.1 0 0 0 444.9 1221.0ZM446.3 1211.3L418.7 1206.6A173.9 170.5 0 0 1 419.6 1202.1L447.0 1207.6A146.0 143.1 0 0 0 446.3 1211.3ZM452.7 1187.8L426.4 1178.5A173.9 170.5 0 0 1 428.0 1174.3L454.0 1184.2A146.0 143.1 0 0 0 452.7 1187.8ZM755.0 1294.3L781.3 1303.5A203.3 199.3 0 0 1 779.4 1308.7L753.3 1298.7A175.3 171.9 0 0 0 755.0 1294.3ZM752.9 1299.8L778.9 1309.9A203.3 199.3 0 0 1 776.7 1315.0L751.0 1304.2A175.3 171.9 0 0 0 752.9 1299.8ZM739.5 1326.0L763.3 1340.3A203.3 199.3 0 0 1 760.3 1345.0L736.9 1330.0A175.3 171.9 0 0 0 739.5 1326.0ZM530.7 1398.0L521.3 1423.8A203.3 199.3 0 0 1 516.0 1421.8L526.2 1396.3A175.3 171.9 0 0 0 530.7 1398.0ZM431.9 1161.9L406.7 1150.0A203.3 199.3 0 0 1 409.2 1145.1L434.1 1157.6A175.3 171.9 0 0 0 431.9 1161.9ZM470.7 1110.2L451.7 1090.1A203.3 199.3 0 0 1 455.9 1086.4L474.3 1107.0A175.3 171.9 0 0 0 470.7 1110.2ZM475.2 1106.3L456.9 1085.6A203.3 199.3 0 0 1 461.2 1082.0L478.9 1103.2A175.3 171.9 0 0 0 475.2 1106.3ZM479.8 1102.5L462.2 1081.2A203.3 199.3 0 0 1 466.6 1077.8L483.6 1099.6A175.3 171.9 0 0 0 479.8 1102.5ZM484.5 1098.9L467.7 1077.0A203.3 199.3 0 0 1 472.2 1073.8L488.4 1096.1A175.3 171.9 0 0 0 484.5 1098.9ZM489.3 1095.4L473.3 1073.0A203.3 199.3 0 0 1 478.0 1069.9L493.4 1092.8A175.3 171.9 0 0 0 489.3 1095.4ZM572.6 1065.1L569.9 1037.9A203.3 199.3 0 0 1 575.5 1037.4L577.5 1064.7A175.3 171.9 0 0 0 572.6 1065.1ZM578.6 1064.7L576.8 1037.3A203.3 199.3 0 0 1 582.4 1037.0L583.4 1064.4A175.3 171.9 0 0 0 578.6 1064.7ZM584.6 1064.4L583.7 1037.0A203.3 199.3 0 0 1 589.3 1036.9L589.4 1064.3A175.3 171.9 0 0 0 584.6 1064.4ZM794.6 1243.6L822.5 1244.6A232.7 228.1 0 0 1 822.2 1251.1L794.3 1249.3A204.7 200.7 0 0 0 794.6 1243.6ZM794.2 1250.5L822.1 1252.4A232.7 228.1 0 0 1 821.5 1258.9L793.7 1256.2A204.7 200.7 0 0 0 794.2 1250.5ZM793.6 1257.3L821.4 1260.2A232.7 228.1 0 0 1 820.6 1266.6L792.9 1263.0A204.7 200.7 0 0 0 793.6 1257.3ZM792.7 1264.1L820.4 1267.9A232.7 228.1 0 0 1 819.4 1274.3L791.8 1269.7A204.7 200.7 0 0 0 792.7 1264.1ZM791.6 1270.9L819.2 1275.6A232.7 228.1 0 0 1 817.9 1282.0L790.5 1276.5A204.7 200.7 0 0 0 791.6 1270.9ZM787.0 1290.9L813.9 1298.4A232.7 228.1 0 0 1 812.0 1304.6L785.3 1296.4A204.7 200.7 0 0 0 787.0 1290.9ZM782.7 1303.9L809.0 1313.2A232.7 228.1 0 0 1 806.7 1319.3L780.7 1309.3A204.7 200.7 0 0 0 782.7 1303.9ZM780.2 1310.3L806.2 1320.5A232.7 228.1 0 0 1 803.7 1326.5L778.0 1315.6A204.7 200.7 0 0 0 780.2 1310.3ZM777.5 1316.7L803.1 1327.7A232.7 228.1 0 0 1 800.4 1333.6L775.1 1321.9A204.7 200.7 0 0 0 777.5 1316.7ZM764.6 1341.0L788.5 1355.3A232.7 228.1 0 0 1 784.9 1360.8L761.5 1345.8A204.7 200.7 0 0 0 764.6 1341.0ZM707.6 1400.5L723.6 1422.9A232.7 228.1 0 0 1 718.1 1426.6L702.8 1403.7A204.7 200.7 0 0 0 707.6 1400.5ZM701.8 1404.3L717.1 1427.3A232.7 228.1 0 0 1 711.4 1430.8L696.9 1407.4A204.7 200.7 0 0 0 701.8 1404.3ZM402.5 1155.7L376.9 1144.7A232.7 228.1 0 0 1 379.6 1138.8L404.9 1150.5A204.7 200.7 0 0 0 402.5 1155.7ZM423.1 1120.0L400.3 1104.1A232.7 228.1 0 0 1 404.2 1098.9L426.5 1115.4A204.7 200.7 0 0 0 423.1 1120.0ZM427.2 1114.5L405.0 1097.9A232.7 228.1 0 0 1 409.1 1092.7L430.8 1110.0A204.7 200.7 0 0 0 427.2 1114.5ZM431.6 1109.1L409.9 1091.8A232.7 228.1 0 0 1 414.2 1086.8L435.3 1104.7A204.7 200.7 0 0 0 431.6 1109.1ZM440.8 1098.8L420.4 1080.0A232.7 228.1 0 0 1 425.0 1075.4L444.8 1094.7A204.7 200.7 0 0 0 440.8 1098.8ZM445.7 1093.9L425.9 1074.5A232.7 228.1 0 0 1 430.7 1069.9L449.9 1089.9A204.7 200.7 0 0 0 445.7 1093.9ZM450.7 1089.1L431.7 1069.1A232.7 228.1 0 0 1 436.6 1064.7L455.0 1085.3A204.7 200.7 0 0 0 450.7 1089.1ZM461.3 1080.2L443.7 1058.9A232.7 228.1 0 0 1 448.9 1054.8L465.8 1076.6A204.7 200.7 0 0 0 461.3 1080.2ZM675.3 1449.9L685.5 1475.4A262.0 256.9 0 0 1 678.4 1478.1L668.9 1452.3A234.1 229.5 0 0 0 675.3 1449.9ZM589.4 1465.7L589.4 1493.1A262.0 256.9 0 0 1 581.7 1493.0L582.6 1465.6A234.1 229.5 0 0 0 589.4 1465.7ZM356.4 1251.3L328.5 1253.1A262.0 256.9 0 0 1 328.1 1245.6L356.1 1244.6A234.1 229.5 0 0 0 356.4 1251.3ZM386.2 1123.2L361.9 1109.7A262.0 256.9 0 0 1 365.8 1103.3L389.7 1117.4A234.1 229.5 0 0 0 386.2 1123.2ZM394.6 1109.9L371.2 1094.8A262.0 256.9 0 0 1 375.6 1088.6L398.4 1104.3A234.1 229.5 0 0 0 394.6 1109.9ZM403.8 1097.1L381.6 1080.5A262.0 256.9 0 0 1 386.3 1074.6L408.0 1091.8A234.1 229.5 0 0 0 403.8 1097.1ZM430.6 1068.1L411.6 1048.0A262.0 256.9 0 0 1 417.3 1043.0L435.7 1063.6A234.1 229.5 0 0 0 430.6 1068.1ZM634.2 1490.8L638.9 1517.9A291.4 285.7 0 0 1 630.3 1519.2L626.5 1492.0A263.5 258.3 0 0 0 634.2 1490.8ZM625.3 1492.2L629.0 1519.3A291.4 285.7 0 0 1 620.4 1520.3L617.5 1493.1A263.5 258.3 0 0 0 625.3 1492.2ZM492.8 1476.3L482.5 1501.7A291.4 285.7 0 0 1 474.5 1498.5L485.6 1473.3A263.5 258.3 0 0 0 492.8 1476.3ZM484.5 1472.9L473.3 1498.0A291.4 285.7 0 0 1 465.4 1494.5L477.4 1469.7A263.5 258.3 0 0 0 484.5 1472.9ZM476.3 1469.2L464.3 1493.9A291.4 285.7 0 0 1 456.5 1490.2L469.3 1465.8A263.5 258.3 0 0 0 476.3 1469.2ZM460.4 1461.1L446.6 1484.9A291.4 285.7 0 0 1 439.1 1480.6L453.6 1457.2A263.5 258.3 0 0 0 460.4 1461.1ZM351.8 1346.6L326.6 1358.3A291.4 285.7 0 0 1 323.0 1350.6L348.6 1339.6A263.5 258.3 0 0 0 351.8 1346.6ZM348.1 1338.6L322.5 1349.4A291.4 285.7 0 0 1 319.1 1341.6L345.1 1331.5A263.5 258.3 0 0 0 348.1 1338.6ZM331.9 1288.2L304.6 1293.7A291.4 285.7 0 0 1 302.9 1285.4L330.5 1280.6A263.5 258.3 0 0 0 331.9 1288.2ZM326.7 1244.4L298.7 1245.3A291.4 285.7 0 0 1 298.6 1236.8L326.5 1236.8A263.5 258.3 0 0 0 326.7 1244.4ZM327.2 1218.0L299.3 1216.1A291.4 285.7 0 0 1 300.0 1207.6L327.9 1210.4A263.5 258.3 0 0 0 327.2 1218.0ZM410.6 1047.0L391.6 1027.0A291.4 285.7 0 0 1 398.0 1021.3L416.4 1041.9A263.5 258.3 0 0 0 410.6 1047.0ZM461.4 1010.8L447.7 986.9A291.4 285.7 0 0 1 455.4 982.8L468.3 1007.1A263.5 258.3 0 0 0 461.4 1010.8ZM469.3 1006.6L456.5 982.2A291.4 285.7 0 0 1 464.3 978.5L476.3 1003.2A263.5 258.3 0 0 0 469.3 1006.6ZM477.4 1002.7L465.4 977.9A291.4 285.7 0 0 1 473.3 974.4L484.5 999.5A263.5 258.3 0 0 0 477.4 1002.7ZM537.0 983.2L531.3 956.3A291.4 285.7 0 0 1 539.9 954.8L544.7 981.8A263.5 258.3 0 0 0 537.0 983.2ZM554.7 980.2L551.0 953.1A291.4 285.7 0 0 1 559.6 952.1L562.5 979.3A263.5 258.3 0 0 0 554.7 980.2Z"/>
<path fill="rgb(111, 63, 208)" d="M705.4 1252.3L733.1 1256.2A144.5 141.7 0 0 1 732.5 1259.6L705.0 1255.1A116.6 114.3 0 0 0 705.4 1252.3ZM704.8 1256.1L732.3 1260.9A144.5 141.7 0 0 1 731.6 1264.4L704.3 1258.9A116.6 114.3 0 0 0 704.8 1256.1ZM703.1 1263.8L730.3 1270.4A144.5 141.7 0 0 1 729.4 1273.8L702.4 1266.5A116.6 114.3 0 0 0 703.1 1263.8ZM702.1 1267.6L729.0 1275.1A144.5 141.7 0 0 1 728.0 1278.4L701.3 1270.3A116.6 114.3 0 0 0 702.1 1267.6ZM701.0 1271.3L727.6 1279.7A144.5 141.7 0 0 1 726.4 1283.0L700.0 1274.0A116.6 114.3 0 0 0 701.0 1271.3ZM698.3 1278.6L724.2 1288.8A144.5 141.7 0 0 1 722.8 1292.0L697.2 1281.2A116.6 114.3 0 0 0 698.3 1278.6ZM693.3 1289.3L718.0 1302.0A144.5 141.7 0 0 1 716.3 1305.1L691.9 1291.8A116.6 114.3 0 0 0 693.3 1289.3ZM656.8 1329.9L672.8 1352.3A144.5 141.7 0 0 1 669.8 1354.3L654.4 1331.5A116.6 114.3 0 0 0 656.8 1329.9ZM653.5 1332.1L668.7 1355.0A144.5 141.7 0 0 1 665.7 1356.9L651.0 1333.6A116.6 114.3 0 0 0 653.5 1332.1ZM609.3 1348.9L613.9 1376.0A144.5 141.7 0 0 1 610.4 1376.5L606.4 1349.4A116.6 114.3 0 0 0 609.3 1348.9ZM589.5 1350.5L589.3 1377.9A144.5 141.7 0 0 1 585.7 1377.8L586.6 1350.5A116.6 114.3 0 0 0 589.5 1350.5ZM473.6 1243.5L445.8 1245.2A144.5 141.7 0 0 1 445.6 1241.7L473.5 1240.6A116.6 114.3 0 0 0 473.6 1243.5ZM673.7 1353.4L689.7 1375.9A173.9 170.5 0 0 1 685.9 1378.4L670.5 1355.6A146.0 143.1 0 0 0 673.7 1353.4ZM669.6 1356.2L684.8 1379.1A173.9 170.5 0 0 1 680.9 1381.5L666.3 1358.2A146.0 143.1 0 0 0 669.6 1356.2ZM729.4 1340.5L751.6 1357.1A203.3 199.3 0 0 1 748.1 1361.5L726.4 1344.3A175.3 171.9 0 0 0 729.4 1340.5ZM725.7 1345.1L747.3 1362.5A203.3 199.3 0 0 1 743.7 1366.7L722.5 1348.8A175.3 171.9 0 0 0 725.7 1345.1ZM717.8 1353.9L738.1 1372.7A203.3 199.3 0 0 1 734.2 1376.7L714.4 1357.4A175.3 171.9 0 0 0 717.8 1353.9ZM685.7 1380.2L700.9 1403.2A203.3 199.3 0 0 1 696.2 1406.2L681.6 1382.8A175.3 171.9 0 0 0 685.7 1380.2ZM680.6 1383.4L695.1 1406.8A203.3 199.3 0 0 1 690.2 1409.6L676.4 1385.8A175.3 171.9 0 0 0 680.6 1383.4ZM443.7 1141.5L420.4 1126.4A203.3 199.3 0 0 1 423.5 1121.8L446.4 1137.5A175.3 171.9 0 0 0 443.7 1141.5ZM454.3 1127.3L432.7 1109.9A203.3 199.3 0 0 1 436.3 1105.7L457.5 1123.6A175.3 171.9 0 0 0 454.3 1127.3ZM515.2 1080.7L503.3 1055.9A203.3 199.3 0 0 1 508.4 1053.7L519.6 1078.8A175.3 171.9 0 0 0 515.2 1080.7ZM520.7 1078.3L509.6 1053.1A203.3 199.3 0 0 1 514.8 1051.0L525.1 1076.5A175.3 171.9 0 0 0 520.7 1078.3ZM543.2 1070.5L535.8 1044.1A203.3 199.3 0 0 1 541.2 1042.7L547.9 1069.3A175.3 171.9 0 0 0 543.2 1070.5ZM549.0 1069.1L542.5 1042.4A203.3 199.3 0 0 1 548.0 1041.2L553.8 1068.0A175.3 171.9 0 0 0 549.0 1069.1ZM554.9 1067.8L549.3 1040.9A203.3 199.3 0 0 1 554.8 1039.9L559.6 1066.9A175.3 171.9 0 0 0 554.9 1067.8ZM734.3 1378.5L754.1 1397.9A232.7 228.1 0 0 1 749.3 1402.5L730.1 1382.5A204.7 200.7 0 0 0 734.3 1378.5ZM729.3 1383.3L748.3 1403.3A232.7 228.1 0 0 1 743.4 1407.7L725.0 1387.1A204.7 200.7 0 0 0 729.3 1383.3ZM724.1 1387.8L742.4 1408.5A232.7 228.1 0 0 1 737.3 1412.7L719.6 1391.5A204.7 200.7 0 0 0 724.1 1387.8ZM683.7 1414.7L696.5 1439.0A232.7 228.1 0 0 1 690.5 1441.9L678.4 1417.2A204.7 200.7 0 0 0 683.7 1414.7ZM415.4 1131.4L391.5 1117.1A232.7 228.1 0 0 1 395.1 1111.6L418.5 1126.6A204.7 200.7 0 0 0 415.4 1131.4ZM484.1 1064.4L469.7 1041.0A232.7 228.1 0 0 1 475.4 1037.7L489.2 1061.5A204.7 200.7 0 0 0 484.1 1064.4ZM490.2 1061.0L476.5 1037.1A232.7 228.1 0 0 1 482.4 1034.0L495.3 1058.3A204.7 200.7 0 0 0 490.2 1061.0ZM496.3 1057.7L483.5 1033.4A232.7 228.1 0 0 1 489.5 1030.5L501.6 1055.2A204.7 200.7 0 0 0 496.3 1057.7ZM509.0 1051.9L497.9 1026.7A232.7 228.1 0 0 1 504.0 1024.2L514.4 1049.7A204.7 200.7 0 0 0 509.0 1051.9ZM535.3 1042.8L527.9 1016.4A232.7 228.1 0 0 1 534.3 1014.7L541.0 1041.3A204.7 200.7 0 0 0 535.3 1042.8ZM555.8 1038.3L551.1 1011.3A232.7 228.1 0 0 1 557.7 1010.3L561.6 1037.4A204.7 200.7 0 0 0 555.8 1038.3ZM569.6 1036.5L566.9 1009.2A232.7 228.1 0 0 1 573.5 1008.7L575.5 1036.0A204.7 200.7 0 0 0 569.6 1036.5ZM364.4 1297.6L337.5 1304.9A262.0 256.9 0 0 1 335.6 1297.6L362.7 1291.1A234.1 229.5 0 0 0 364.4 1297.6ZM360.7 1282.3L333.3 1287.8A262.0 256.9 0 0 1 331.9 1280.5L359.4 1275.8A234.1 229.5 0 0 0 360.7 1282.3ZM359.2 1274.6L331.7 1279.2A262.0 256.9 0 0 1 330.5 1271.8L358.2 1268.0A234.1 229.5 0 0 0 359.2 1274.6ZM358.0 1266.9L330.3 1270.6A262.0 256.9 0 0 1 329.4 1263.1L357.2 1260.2A234.1 229.5 0 0 0 358.0 1266.9ZM357.1 1259.1L329.3 1261.8A262.0 256.9 0 0 1 328.6 1254.4L356.5 1252.4A234.1 229.5 0 0 0 357.1 1259.1ZM356.1 1227.8L328.1 1226.8A262.0 256.9 0 0 1 328.5 1219.3L356.4 1221.1A234.1 229.5 0 0 0 356.1 1227.8ZM356.5 1220.0L328.6 1218.0A262.0 256.9 0 0 1 329.3 1210.6L357.1 1213.3A234.1 229.5 0 0 0 356.5 1220.0ZM413.9 1084.9L392.9 1066.9A262.0 256.9 0 0 1 398.1 1061.3L418.5 1080.0A234.1 229.5 0 0 0 413.9 1084.9ZM419.3 1079.1L398.9 1060.4A262.0 256.9 0 0 1 404.3 1055.0L424.1 1074.3A234.1 229.5 0 0 0 419.3 1079.1ZM616.4 1493.2L619.2 1520.5A291.4 285.7 0 0 1 610.5 1521.2L608.6 1493.9A263.5 258.3 0 0 0 616.4 1493.2ZM333.9 1296.8L306.7 1303.2A291.4 285.7 0 0 1 304.8 1294.9L332.2 1289.3A263.5 258.3 0 0 0 333.9 1296.8ZM330.3 1279.5L302.7 1284.1A291.4 285.7 0 0 1 301.4 1275.7L329.1 1271.9A263.5 258.3 0 0 0 330.3 1279.5ZM328.9 1270.8L301.2 1274.5A291.4 285.7 0 0 1 300.2 1266.0L328.0 1263.2A263.5 258.3 0 0 0 328.9 1270.8ZM327.9 1262.0L300.0 1264.8A291.4 285.7 0 0 1 299.3 1256.3L327.2 1254.4A263.5 258.3 0 0 0 327.9 1262.0Z"/>
<path fill="rgb(70, 18, 200)" d="M699.7 1275.0L726.0 1284.3A144.5 141.7 0 0 1 724.7 1287.6L698.7 1277.6A116.6 114.3 0 0 0 699.7 1275.0ZM696.7 1282.2L722.3 1293.3A144.5 141.7 0 0 1 720.8 1296.5L695.5 1284.8A116.6 114.3 0 0 0 696.7 1282.2ZM695.1 1285.8L720.2 1297.7A144.5 141.7 0 0 1 718.6 1300.8L693.8 1288.3A116.6 114.3 0 0 0 695.1 1285.8ZM585.5 1350.4L584.4 1377.8A144.5 141.7 0 0 1 580.8 1377.6L582.6 1350.3A116.6 114.3 0 0 0 585.5 1350.4ZM581.5 1350.2L579.5 1377.5A144.5 141.7 0 0 1 575.9 1377.2L578.6 1350.0A116.6 114.3 0 0 0 581.5 1350.2ZM577.5 1349.8L574.5 1377.1A144.5 141.7 0 0 1 571.0 1376.7L574.7 1349.5A116.6 114.3 0 0 0 577.5 1349.8ZM573.6 1349.4L569.6 1376.5A144.5 141.7 0 0 1 566.1 1376.0L570.7 1348.9A116.6 114.3 0 0 0 573.6 1349.4ZM569.7 1348.7L564.8 1375.7A144.5 141.7 0 0 1 561.3 1375.1L566.8 1348.2A116.6 114.3 0 0 0 569.7 1348.7ZM565.7 1348.0L559.9 1374.8A144.5 141.7 0 0 1 556.4 1374.0L562.9 1347.4A116.6 114.3 0 0 0 565.7 1348.0ZM561.9 1347.1L555.1 1373.7A144.5 141.7 0 0 1 551.7 1372.8L559.1 1346.4A116.6 114.3 0 0 0 561.9 1347.1ZM558.0 1346.1L550.4 1372.5A144.5 141.7 0 0 1 546.9 1371.5L555.3 1345.3A116.6 114.3 0 0 0 558.0 1346.1ZM554.2 1345.0L545.6 1371.1A144.5 141.7 0 0 1 542.2 1369.9L551.5 1344.1A116.6 114.3 0 0 0 554.2 1345.0ZM550.4 1343.7L541.0 1369.5A144.5 141.7 0 0 1 537.6 1368.3L547.7 1342.7A116.6 114.3 0 0 0 550.4 1343.7ZM546.7 1342.3L536.3 1367.8A144.5 141.7 0 0 1 533.0 1366.4L544.1 1341.2A116.6 114.3 0 0 0 546.7 1342.3ZM473.5 1239.6L445.5 1240.4A144.5 141.7 0 0 1 445.5 1236.9L473.4 1236.7A116.6 114.3 0 0 0 473.5 1239.6ZM665.4 1358.8L679.8 1382.2A173.9 170.5 0 0 1 675.8 1384.5L662.0 1360.7A146.0 143.1 0 0 0 665.4 1358.8ZM661.1 1361.2L674.7 1385.1A173.9 170.5 0 0 1 670.6 1387.3L657.6 1363.0A146.0 143.1 0 0 0 661.1 1361.2ZM656.7 1363.5L669.4 1387.9A173.9 170.5 0 0 1 665.3 1389.9L653.2 1365.2A146.0 143.1 0 0 0 656.7 1363.5ZM652.2 1365.7L664.1 1390.5A173.9 170.5 0 0 1 659.9 1392.3L648.7 1367.2A146.0 143.1 0 0 0 652.2 1365.7ZM647.6 1367.7L658.7 1392.8A173.9 170.5 0 0 1 654.4 1394.6L644.1 1369.1A146.0 143.1 0 0 0 647.6 1367.7ZM643.0 1369.5L653.2 1395.1A173.9 170.5 0 0 1 648.9 1396.6L639.4 1370.9A146.0 143.1 0 0 0 643.0 1369.5ZM638.4 1371.2L647.6 1397.1A173.9 170.5 0 0 1 643.2 1398.5L634.7 1372.4A146.0 143.1 0 0 0 638.4 1371.2ZM633.6 1372.8L642.0 1398.9A173.9 170.5 0 0 1 637.6 1400.2L629.9 1373.8A146.0 143.1 0 0 0 633.6 1372.8ZM628.8 1374.1L636.3 1400.6A173.9 170.5 0 0 1 631.8 1401.7L625.1 1375.1A146.0 143.1 0 0 0 628.8 1374.1ZM624.0 1375.4L630.5 1402.0A173.9 170.5 0 0 1 626.0 1403.0L620.2 1376.2A146.0 143.1 0 0 0 624.0 1375.4ZM619.1 1376.4L624.7 1403.3A173.9 170.5 0 0 1 620.2 1404.1L615.4 1377.1A146.0 143.1 0 0 0 619.1 1376.4ZM732.9 1335.8L755.7 1351.7A203.3 199.3 0 0 1 752.4 1356.1L730.1 1339.6A175.3 171.9 0 0 0 732.9 1335.8ZM713.6 1358.1L733.3 1377.6A203.3 199.3 0 0 1 729.2 1381.4L710.1 1361.5A175.3 171.9 0 0 0 713.6 1358.1ZM709.3 1362.2L728.3 1382.3A203.3 199.3 0 0 1 724.1 1386.0L705.7 1365.4A175.3 171.9 0 0 0 709.3 1362.2ZM704.8 1366.1L723.1 1386.8A203.3 199.3 0 0 1 718.8 1390.4L701.1 1369.2A175.3 171.9 0 0 0 704.8 1366.1ZM700.2 1369.9L717.8 1391.2A203.3 199.3 0 0 1 713.4 1394.6L696.4 1372.8A175.3 171.9 0 0 0 700.2 1369.9ZM695.5 1373.5L712.3 1395.4A203.3 199.3 0 0 1 707.8 1398.6L691.6 1376.3A175.3 171.9 0 0 0 695.5 1373.5ZM690.7 1377.0L706.7 1399.4A203.3 199.3 0 0 1 702.0 1402.5L686.6 1379.6A175.3 171.9 0 0 0 690.7 1377.0ZM447.1 1136.6L424.3 1120.7A203.3 199.3 0 0 1 427.6 1116.3L449.9 1132.8A175.3 171.9 0 0 0 447.1 1136.6ZM450.6 1131.9L428.4 1115.3A203.3 199.3 0 0 1 431.9 1110.9L453.6 1128.1A175.3 171.9 0 0 0 450.6 1131.9ZM526.2 1076.1L516.0 1050.6A203.3 199.3 0 0 1 521.3 1048.6L530.7 1074.4A175.3 171.9 0 0 0 526.2 1076.1ZM531.8 1074.0L522.5 1048.2A203.3 199.3 0 0 1 527.9 1046.4L536.4 1072.5A175.3 171.9 0 0 0 531.8 1074.0ZM537.5 1072.2L529.1 1046.0A203.3 199.3 0 0 1 534.5 1044.5L542.1 1070.8A175.3 171.9 0 0 0 537.5 1072.2ZM794.7 1236.8L822.7 1236.8A232.7 228.1 0 0 1 822.5 1243.3L794.6 1242.5A204.7 200.7 0 0 0 794.7 1236.8ZM405.4 1149.5L380.2 1137.7A232.7 228.1 0 0 1 383.1 1131.8L408.0 1144.4A204.7 200.7 0 0 0 405.4 1149.5ZM408.5 1143.4L383.7 1130.7A232.7 228.1 0 0 1 386.9 1125.0L411.3 1138.3A204.7 200.7 0 0 0 408.5 1143.4ZM455.9 1084.6L437.6 1063.9A232.7 228.1 0 0 1 442.7 1059.7L460.4 1080.9A204.7 200.7 0 0 0 455.9 1084.6ZM466.8 1075.9L449.9 1054.1A232.7 228.1 0 0 1 455.3 1050.2L471.5 1072.6A204.7 200.7 0 0 0 466.8 1075.9ZM472.4 1071.9L456.4 1049.5A232.7 228.1 0 0 1 461.9 1045.8L477.2 1068.7A204.7 200.7 0 0 0 472.4 1071.9ZM478.2 1068.1L462.9 1045.1A232.7 228.1 0 0 1 468.6 1041.6L483.1 1065.0A204.7 200.7 0 0 0 478.2 1068.1ZM502.6 1054.7L490.7 1029.9A232.7 228.1 0 0 1 496.7 1027.2L507.9 1052.3A204.7 200.7 0 0 0 502.6 1054.7ZM503.6 1449.5L493.3 1475.0A262.0 256.9 0 0 1 486.2 1472.1L497.3 1446.9A234.1 229.5 0 0 0 503.6 1449.5ZM496.2 1446.5L485.0 1471.6A262.0 256.9 0 0 1 478.0 1468.5L490.0 1443.7A234.1 229.5 0 0 0 496.2 1446.5ZM488.9 1443.2L476.9 1467.9A262.0 256.9 0 0 1 470.0 1464.6L482.8 1440.2A234.1 229.5 0 0 0 488.9 1443.2ZM481.8 1439.7L468.9 1464.0A262.0 256.9 0 0 1 462.1 1460.4L475.8 1436.5A234.1 229.5 0 0 0 481.8 1439.7ZM474.8 1436.0L461.0 1459.8A262.0 256.9 0 0 1 454.4 1456.0L468.9 1432.6A234.1 229.5 0 0 0 474.8 1436.0ZM467.9 1432.0L453.3 1455.4A262.0 256.9 0 0 1 446.8 1451.4L462.1 1428.4A234.1 229.5 0 0 0 467.9 1432.0ZM461.1 1427.8L445.7 1450.7A262.0 256.9 0 0 1 439.4 1446.4L455.5 1424.0A234.1 229.5 0 0 0 461.1 1427.8ZM454.5 1423.4L438.4 1445.7A262.0 256.9 0 0 1 432.2 1441.3L449.0 1419.4A234.1 229.5 0 0 0 454.5 1423.4ZM448.1 1418.7L431.2 1440.5A262.0 256.9 0 0 1 425.1 1435.9L442.7 1414.6A234.1 229.5 0 0 0 448.1 1418.7ZM441.8 1413.9L424.1 1435.1A262.0 256.9 0 0 1 418.3 1430.2L436.6 1409.5A234.1 229.5 0 0 0 441.8 1413.9ZM435.7 1408.8L417.3 1429.4A262.0 256.9 0 0 1 411.6 1424.4L430.6 1404.3A234.1 229.5 0 0 0 435.7 1408.8ZM429.8 1403.5L410.7 1423.5A262.0 256.9 0 0 1 405.2 1418.3L424.9 1398.9A234.1 229.5 0 0 0 429.8 1403.5ZM424.1 1398.1L404.3 1417.4A262.0 256.9 0 0 1 398.9 1412.0L419.3 1393.3A234.1 229.5 0 0 0 424.1 1398.1ZM418.5 1392.4L398.1 1411.1A262.0 256.9 0 0 1 392.9 1405.5L413.9 1387.5A234.1 229.5 0 0 0 418.5 1392.4ZM413.2 1386.6L392.1 1404.6A262.0 256.9 0 0 1 387.1 1398.8L408.8 1381.5A234.1 229.5 0 0 0 413.2 1386.6ZM408.0 1380.6L386.3 1397.8A262.0 256.9 0 0 1 381.6 1391.9L403.8 1375.3A234.1 229.5 0 0 0 408.0 1380.6ZM403.1 1374.4L380.8 1390.9A262.0 256.9 0 0 1 376.3 1384.9L399.1 1369.0A234.1 229.5 0 0 0 403.1 1374.4ZM398.4 1368.1L375.6 1383.8A262.0 256.9 0 0 1 371.2 1377.6L394.6 1362.5A234.1 229.5 0 0 0 398.4 1368.1ZM393.9 1361.6L370.5 1376.6A262.0 256.9 0 0 1 366.4 1370.2L390.3 1355.9A234.1 229.5 0 0 0 393.9 1361.6ZM389.7 1355.0L365.8 1369.1A262.0 256.9 0 0 1 361.9 1362.7L386.2 1349.2A234.1 229.5 0 0 0 389.7 1355.0ZM385.7 1348.2L361.3 1361.6A262.0 256.9 0 0 1 357.6 1355.0L382.4 1342.3A234.1 229.5 0 0 0 385.7 1348.2ZM381.9 1341.3L357.0 1353.8A262.0 256.9 0 0 1 353.6 1347.1L378.8 1335.3A234.1 229.5 0 0 0 381.9 1341.3ZM378.4 1334.3L353.1 1346.0A262.0 256.9 0 0 1 349.9 1339.1L375.5 1328.2A234.1 229.5 0 0 0 378.4 1334.3ZM375.1 1327.1L349.4 1338.0A262.0 256.9 0 0 1 346.5 1331.0L372.4 1320.9A234.1 229.5 0 0 0 375.1 1327.1ZM372.0 1319.9L346.0 1329.9A262.0 256.9 0 0 1 343.3 1322.8L369.6 1313.6A234.1 229.5 0 0 0 372.0 1319.9ZM369.2 1312.5L342.9 1321.6A262.0 256.9 0 0 1 340.4 1314.5L367.1 1306.2A234.1 229.5 0 0 0 369.2 1312.5ZM366.7 1305.1L340.0 1313.3A262.0 256.9 0 0 1 337.9 1306.1L364.7 1298.7A234.1 229.5 0 0 0 366.7 1305.1ZM357.2 1212.2L329.4 1209.3A262.0 256.9 0 0 1 330.3 1201.8L358.0 1205.5A234.1 229.5 0 0 0 357.2 1212.2ZM358.2 1204.4L330.5 1200.6A262.0 256.9 0 0 1 331.7 1193.2L359.2 1197.8A234.1 229.5 0 0 0 358.2 1204.4ZM359.4 1196.6L331.9 1191.9A262.0 256.9 0 0 1 333.3 1184.6L360.7 1190.1A234.1 229.5 0 0 0 359.4 1196.6ZM360.9 1189.0L333.6 1183.3A262.0 256.9 0 0 1 335.3 1176.0L362.4 1182.4A234.1 229.5 0 0 0 360.9 1189.0ZM362.7 1181.3L335.6 1174.8A262.0 256.9 0 0 1 337.5 1167.5L364.4 1174.8A234.1 229.5 0 0 0 362.7 1181.3ZM364.7 1173.7L337.9 1166.3A262.0 256.9 0 0 1 340.0 1159.1L366.7 1167.3A234.1 229.5 0 0 0 364.7 1173.7ZM607.4 1493.9L609.2 1521.3A291.4 285.7 0 0 1 600.6 1521.7L599.6 1494.3A263.5 258.3 0 0 0 607.4 1493.9ZM598.4 1494.4L599.3 1521.8A291.4 285.7 0 0 1 590.6 1521.9L590.6 1494.5A263.5 258.3 0 0 0 598.4 1494.4ZM336.1 1305.3L309.2 1312.7A291.4 285.7 0 0 1 307.0 1304.5L334.2 1297.9A263.5 258.3 0 0 0 336.1 1305.3ZM339.1 1157.5L312.4 1149.2A291.4 285.7 0 0 1 315.2 1141.1L341.6 1150.2A263.5 258.3 0 0 0 339.1 1157.5ZM341.9 1149.2L315.6 1139.9A291.4 285.7 0 0 1 318.7 1132.0L344.7 1142.0A263.5 258.3 0 0 0 341.9 1149.2ZM345.1 1140.9L319.1 1130.8A291.4 285.7 0 0 1 322.5 1123.0L348.1 1133.8A263.5 258.3 0 0 0 345.1 1140.9ZM348.6 1132.8L323.0 1121.8A291.4 285.7 0 0 1 326.6 1114.1L351.8 1125.8A263.5 258.3 0 0 0 348.6 1132.8Z"/>
<path fill="rgb(103, 154, 93)" d="M687.2 1299.3L710.5 1314.5A144.5 141.7 0 0 1 708.5 1317.4L685.6 1301.7A116.6 114.3 0 0 0 687.2 1299.3ZM684.9 1302.6L707.7 1318.5A144.5 141.7 0 0 1 705.6 1321.3L683.2 1304.8A116.6 114.3 0 0 0 684.9 1302.6ZM682.6 1305.7L704.8 1322.3A144.5 141.7 0 0 1 702.5 1325.1L680.8 1307.9A116.6 114.3 0 0 0 682.6 1305.7ZM632.3 1342.7L642.4 1368.3A144.5 141.7 0 0 1 639.0 1369.5L629.6 1343.7A116.6 114.3 0 0 0 632.3 1342.7ZM543.1 1340.8L531.8 1365.9A144.5 141.7 0 0 1 528.5 1364.4L540.4 1339.7A116.6 114.3 0 0 0 543.1 1340.8ZM539.4 1339.2L527.3 1363.9A144.5 141.7 0 0 1 524.1 1362.3L536.8 1337.9A116.6 114.3 0 0 0 539.4 1339.2ZM529.0 1333.6L514.3 1356.9A144.5 141.7 0 0 1 511.3 1355.0L526.5 1332.1A116.6 114.3 0 0 0 529.0 1333.6ZM525.6 1331.5L510.2 1354.3A144.5 141.7 0 0 1 507.2 1352.3L523.2 1329.9A116.6 114.3 0 0 0 525.6 1331.5ZM484.5 1284.8L459.2 1296.5A144.5 141.7 0 0 1 457.7 1293.3L483.3 1282.2A116.6 114.3 0 0 0 484.5 1284.8ZM480.0 1274.0L453.6 1283.0A144.5 141.7 0 0 1 452.4 1279.7L479.0 1271.3A116.6 114.3 0 0 0 480.0 1274.0ZM477.6 1266.5L450.6 1273.8A144.5 141.7 0 0 1 449.7 1270.4L476.9 1263.8A116.6 114.3 0 0 0 477.6 1266.5ZM476.6 1262.7L449.4 1269.1A144.5 141.7 0 0 1 448.6 1265.7L476.0 1260.0A116.6 114.3 0 0 0 476.6 1262.7ZM523.2 1142.5L507.2 1120.1A144.5 141.7 0 0 1 510.2 1118.1L525.6 1140.9A116.6 114.3 0 0 0 523.2 1142.5ZM526.5 1140.3L511.3 1117.4A144.5 141.7 0 0 1 514.3 1115.5L529.0 1138.8A116.6 114.3 0 0 0 526.5 1140.3ZM536.8 1134.5L524.1 1110.1A144.5 141.7 0 0 1 527.3 1108.5L539.4 1133.2A116.6 114.3 0 0 0 536.8 1134.5ZM574.7 1122.9L571.0 1095.7A144.5 141.7 0 0 1 574.5 1095.3L577.5 1122.6A116.6 114.3 0 0 0 574.7 1122.9ZM526.8 1365.2L514.7 1389.9A173.9 170.5 0 0 1 510.6 1387.9L523.3 1363.5A146.0 143.1 0 0 0 526.8 1365.2ZM522.4 1363.0L509.4 1387.3A173.9 170.5 0 0 1 505.3 1385.1L518.9 1361.2A146.0 143.1 0 0 0 522.4 1363.0ZM446.1 1260.0L418.5 1264.5A173.9 170.5 0 0 1 417.8 1260.1L445.5 1256.2A146.0 143.1 0 0 0 446.1 1260.0ZM451.0 1192.4L424.4 1184.0A173.9 170.5 0 0 1 425.9 1179.7L452.3 1188.8A146.0 143.1 0 0 0 451.0 1192.4ZM458.4 1174.2L433.2 1162.4A173.9 170.5 0 0 1 435.3 1158.3L460.1 1170.9A146.0 143.1 0 0 0 458.4 1174.2ZM474.0 1149.3L451.8 1132.7A173.9 170.5 0 0 1 454.7 1129.1L476.4 1146.3A146.0 143.1 0 0 0 474.0 1149.3ZM477.1 1145.5L455.5 1128.1A173.9 170.5 0 0 1 458.5 1124.6L479.6 1142.6A146.0 143.1 0 0 0 477.1 1145.5ZM498.3 1124.9L480.8 1103.5A173.9 170.5 0 0 1 484.4 1100.7L501.4 1122.5A146.0 143.1 0 0 0 498.3 1124.9ZM537.0 1102.9L526.8 1077.3A173.9 170.5 0 0 1 531.1 1075.8L540.6 1101.5A146.0 143.1 0 0 0 537.0 1102.9ZM570.7 1094.4L567.0 1067.2A173.9 170.5 0 0 1 571.6 1066.7L574.5 1093.9A146.0 143.1 0 0 0 570.7 1094.4ZM575.6 1093.8L572.9 1066.5A173.9 170.5 0 0 1 577.5 1066.1L579.5 1093.5A146.0 143.1 0 0 0 575.6 1093.8ZM595.4 1408.0L596.3 1435.4A203.3 199.3 0 0 1 590.7 1435.5L590.6 1408.1A175.3 171.9 0 0 0 595.4 1408.0ZM589.4 1408.1L589.3 1435.5A203.3 199.3 0 0 1 583.7 1435.4L584.6 1408.0A175.3 171.9 0 0 0 589.4 1408.1ZM583.4 1408.0L582.4 1435.4A203.3 199.3 0 0 1 576.8 1435.1L578.6 1407.7A175.3 171.9 0 0 0 583.4 1408.0ZM577.5 1407.7L575.5 1435.0A203.3 199.3 0 0 1 569.9 1434.5L572.6 1407.3A175.3 171.9 0 0 0 577.5 1407.7ZM542.1 1401.6L534.5 1427.9A203.3 199.3 0 0 1 529.1 1426.4L537.5 1400.2A175.3 171.9 0 0 0 542.1 1401.6ZM436.9 1320.0L412.5 1333.3A203.3 199.3 0 0 1 409.8 1328.5L434.6 1315.8A175.3 171.9 0 0 0 436.9 1320.0ZM429.0 1304.2L403.3 1315.0A203.3 199.3 0 0 1 401.1 1309.9L427.1 1299.8A175.3 171.9 0 0 0 429.0 1304.2ZM426.7 1298.7L400.6 1308.7A203.3 199.3 0 0 1 398.7 1303.5L425.0 1294.3A175.3 171.9 0 0 0 426.7 1298.7ZM419.5 1276.4L392.3 1282.8A203.3 199.3 0 0 1 391.1 1277.4L418.4 1271.7A175.3 171.9 0 0 0 419.5 1276.4ZM418.2 1270.6L390.8 1276.1A203.3 199.3 0 0 1 389.8 1270.7L417.3 1266.0A175.3 171.9 0 0 0 418.2 1270.6ZM417.1 1264.9L389.6 1269.4A203.3 199.3 0 0 1 388.7 1264.0L416.4 1260.2A175.3 171.9 0 0 0 417.1 1264.9ZM416.2 1259.1L388.5 1262.7A203.3 199.3 0 0 1 387.8 1257.2L415.6 1254.3A175.3 171.9 0 0 0 416.2 1259.1ZM415.5 1253.2L387.7 1255.9A203.3 199.3 0 0 1 387.2 1250.4L415.1 1248.5A175.3 171.9 0 0 0 415.5 1253.2ZM610.4 1435.9L613.1 1463.2A232.7 228.1 0 0 1 606.5 1463.7L604.5 1436.4A204.7 200.7 0 0 0 610.4 1435.9ZM589.4 1436.9L589.3 1464.3A232.7 228.1 0 0 1 582.7 1464.2L583.6 1436.8A204.7 200.7 0 0 0 589.4 1436.9ZM582.4 1436.8L581.4 1464.1A232.7 228.1 0 0 1 574.8 1463.8L576.6 1436.5A204.7 200.7 0 0 0 582.4 1436.8ZM465.8 1395.8L448.9 1417.6A232.7 228.1 0 0 1 443.7 1413.5L461.3 1392.2A204.7 200.7 0 0 0 465.8 1395.8ZM460.4 1391.5L442.7 1412.7A232.7 228.1 0 0 1 437.6 1408.5L455.9 1387.8A204.7 200.7 0 0 0 460.4 1391.5ZM404.9 1321.9L379.6 1333.6A232.7 228.1 0 0 1 376.9 1327.7L402.5 1316.7A204.7 200.7 0 0 0 404.9 1321.9ZM402.0 1315.6L376.3 1326.5A232.7 228.1 0 0 1 373.8 1320.5L399.8 1310.3A204.7 200.7 0 0 0 402.0 1315.6ZM387.1 1263.0L359.4 1266.6A232.7 228.1 0 0 1 358.6 1260.2L386.4 1257.3A204.7 200.7 0 0 0 387.1 1263.0ZM387.3 1208.3L359.6 1204.5A232.7 228.1 0 0 1 360.6 1198.1L388.2 1202.7A204.7 200.7 0 0 0 387.3 1208.3ZM389.7 1194.8L362.3 1189.2A232.7 228.1 0 0 1 363.8 1182.8L391.0 1189.2A204.7 200.7 0 0 0 389.7 1194.8ZM391.2 1188.1L364.1 1181.6A232.7 228.1 0 0 1 365.8 1175.3L392.7 1182.6A204.7 200.7 0 0 0 391.2 1188.1ZM393.0 1181.5L366.1 1174.0A232.7 228.1 0 0 1 368.0 1167.8L394.7 1176.0A204.7 200.7 0 0 0 393.0 1181.5ZM824.1 1236.8L852.0 1236.8A262.0 256.9 0 0 1 851.9 1244.3L824.0 1243.5A234.1 229.5 0 0 0 824.1 1236.8ZM821.8 1268.0L849.5 1271.8A262.0 256.9 0 0 1 848.3 1279.2L820.8 1274.6A234.1 229.5 0 0 0 821.8 1268.0ZM820.6 1275.8L848.1 1280.5A262.0 256.9 0 0 1 846.7 1287.8L819.3 1282.3A234.1 229.5 0 0 0 820.6 1275.8ZM819.1 1283.4L846.4 1289.1A262.0 256.9 0 0 1 844.7 1296.4L817.6 1290.0A234.1 229.5 0 0 0 819.1 1283.4ZM810.4 1313.6L836.7 1322.8A262.0 256.9 0 0 1 834.0 1329.9L808.0 1319.9A234.1 229.5 0 0 0 810.4 1313.6ZM785.4 1362.5L808.8 1377.6A262.0 256.9 0 0 1 804.4 1383.8L781.6 1368.1A234.1 229.5 0 0 0 785.4 1362.5ZM780.9 1369.0L803.7 1384.9A262.0 256.9 0 0 1 799.2 1390.9L776.9 1374.4A234.1 229.5 0 0 0 780.9 1369.0ZM776.2 1375.3L798.4 1391.9A262.0 256.9 0 0 1 793.7 1397.8L772.0 1380.6A234.1 229.5 0 0 0 776.2 1375.3ZM731.0 1419.4L747.8 1441.3A262.0 256.9 0 0 1 741.6 1445.7L725.5 1423.4A234.1 229.5 0 0 0 731.0 1419.4ZM711.1 1432.6L725.6 1456.0A262.0 256.9 0 0 1 719.0 1459.8L705.2 1436.0A234.1 229.5 0 0 0 711.1 1432.6ZM697.2 1440.2L710.0 1464.6A262.0 256.9 0 0 1 703.1 1467.9L691.1 1443.2A234.1 229.5 0 0 0 697.2 1440.2ZM660.3 1455.1L668.7 1481.3A262.0 256.9 0 0 1 661.3 1483.4L653.7 1457.0A234.1 229.5 0 0 0 660.3 1455.1ZM565.5 1464.4L562.6 1491.7A262.0 256.9 0 0 1 555.0 1490.8L558.7 1463.6A234.1 229.5 0 0 0 565.5 1464.4ZM557.6 1463.5L553.7 1490.6A262.0 256.9 0 0 1 546.1 1489.5L550.8 1462.5A234.1 229.5 0 0 0 557.6 1463.5ZM549.7 1462.3L544.8 1489.3A262.0 256.9 0 0 1 537.3 1487.9L542.9 1461.0A234.1 229.5 0 0 0 549.7 1462.3ZM541.8 1460.8L536.1 1487.6A262.0 256.9 0 0 1 528.6 1485.9L535.1 1459.3A234.1 229.5 0 0 0 541.8 1460.8ZM534.0 1459.0L527.3 1485.6A262.0 256.9 0 0 1 519.9 1483.7L527.4 1457.3A234.1 229.5 0 0 0 534.0 1459.0ZM518.6 1454.8L510.1 1480.9A262.0 256.9 0 0 1 502.9 1478.5L512.2 1452.6A234.1 229.5 0 0 0 518.6 1454.8ZM455.5 1048.4L439.4 1026.0A262.0 256.9 0 0 1 445.7 1021.7L461.1 1044.6A234.1 229.5 0 0 0 455.5 1048.4ZM482.8 1032.2L470.0 1007.8A262.0 256.9 0 0 1 476.9 1004.5L488.9 1029.2A234.1 229.5 0 0 0 482.8 1032.2ZM527.4 1015.1L519.9 988.7A262.0 256.9 0 0 1 527.3 986.8L534.0 1013.4A234.1 229.5 0 0 0 527.4 1015.1ZM535.1 1013.1L528.6 986.5A262.0 256.9 0 0 1 536.1 984.8L541.8 1011.6A234.1 229.5 0 0 0 535.1 1013.1ZM853.5 1236.8L881.4 1236.8A291.4 285.7 0 0 1 881.3 1245.3L853.3 1244.4A263.5 258.3 0 0 0 853.5 1236.8ZM852.8 1254.4L880.7 1256.3A291.4 285.7 0 0 1 880.0 1264.8L852.1 1262.0A263.5 258.3 0 0 0 852.8 1254.4ZM852.0 1263.2L879.8 1266.0A291.4 285.7 0 0 1 878.8 1274.5L851.1 1270.8A263.5 258.3 0 0 0 852.0 1263.2ZM845.8 1297.9L873.0 1304.5A291.4 285.7 0 0 1 870.8 1312.7L843.9 1305.3A263.5 258.3 0 0 0 845.8 1297.9ZM827.7 1347.6L852.9 1359.5A291.4 285.7 0 0 1 849.0 1367.1L824.2 1354.5A263.5 258.3 0 0 0 827.7 1347.6ZM775.9 1419.2L795.6 1438.7A291.4 285.7 0 0 1 789.4 1444.6L770.3 1424.6A263.5 258.3 0 0 0 775.9 1419.2ZM755.8 1436.9L773.4 1458.2A291.4 285.7 0 0 1 766.6 1463.5L749.7 1441.7A263.5 258.3 0 0 0 755.8 1436.9ZM748.7 1442.4L765.6 1464.2A291.4 285.7 0 0 1 758.6 1469.2L742.4 1446.9A263.5 258.3 0 0 0 748.7 1442.4ZM734.0 1452.5L749.3 1475.4A291.4 285.7 0 0 1 742.0 1480.0L727.4 1456.6A263.5 258.3 0 0 0 734.0 1452.5ZM718.6 1461.6L732.3 1485.5A291.4 285.7 0 0 1 724.6 1489.6L711.7 1465.3A263.5 258.3 0 0 0 718.6 1461.6ZM710.7 1465.8L723.5 1490.2A291.4 285.7 0 0 1 715.7 1493.9L703.7 1469.2A263.5 258.3 0 0 0 710.7 1465.8ZM702.6 1469.7L714.6 1494.5A291.4 285.7 0 0 1 706.7 1498.0L695.5 1472.9A263.5 258.3 0 0 0 702.6 1469.7ZM669.1 1482.6L677.5 1508.7A291.4 285.7 0 0 1 669.2 1511.1L661.6 1484.8A263.5 258.3 0 0 0 669.1 1482.6ZM589.4 1494.5L589.4 1521.9A291.4 285.7 0 0 1 580.7 1521.8L581.6 1494.4A263.5 258.3 0 0 0 589.4 1494.5ZM562.5 1493.1L559.6 1520.3A291.4 285.7 0 0 1 551.0 1519.3L554.7 1492.2A263.5 258.3 0 0 0 562.5 1493.1ZM544.7 1490.6L539.9 1517.6A291.4 285.7 0 0 1 531.3 1516.1L537.0 1489.2A263.5 258.3 0 0 0 544.7 1490.6ZM535.8 1489.0L530.1 1515.8A291.4 285.7 0 0 1 521.6 1513.9L528.2 1487.3A263.5 258.3 0 0 0 535.8 1489.0ZM527.1 1487.0L520.4 1513.6A291.4 285.7 0 0 1 512.0 1511.5L519.5 1485.1A263.5 258.3 0 0 0 527.1 1487.0ZM518.4 1484.8L510.8 1511.1A291.4 285.7 0 0 1 502.5 1508.7L510.9 1482.6A263.5 258.3 0 0 0 518.4 1484.8ZM332.2 1183.1L304.8 1177.5A291.4 285.7 0 0 1 306.7 1169.2L333.9 1175.6A263.5 258.3 0 0 0 332.2 1183.1ZM356.3 1116.9L331.6 1104.2A291.4 285.7 0 0 1 335.7 1096.7L360.1 1110.1A263.5 258.3 0 0 0 356.3 1116.9ZM360.6 1109.1L336.3 1095.6A291.4 285.7 0 0 1 340.7 1088.3L364.6 1102.5A263.5 258.3 0 0 0 360.6 1109.1ZM375.1 1086.8L352.3 1070.9A291.4 285.7 0 0 1 357.4 1064.1L379.7 1080.6A263.5 258.3 0 0 0 375.1 1086.8ZM380.4 1079.7L358.2 1063.1A291.4 285.7 0 0 1 363.5 1056.4L385.3 1073.6A263.5 258.3 0 0 0 380.4 1079.7ZM397.8 1059.5L377.5 1040.7A291.4 285.7 0 0 1 383.5 1034.6L403.3 1054.0A263.5 258.3 0 0 0 397.8 1059.5Z"/>
<path fill="rgb(148, 185, 140)" d="M680.1 1308.7L701.7 1326.1A144.5 141.7 0 0 1 699.4 1328.8L678.2 1310.9A116.6 114.3 0 0 0 680.1 1308.7ZM635.9 1341.2L647.0 1366.4A144.5 141.7 0 0 1 643.7 1367.8L633.3 1342.3A116.6 114.3 0 0 0 635.9 1341.2ZM522.3 1329.3L506.1 1351.6A144.5 141.7 0 0 1 503.2 1349.5L520.0 1327.6A116.6 114.3 0 0 0 522.3 1329.3ZM519.1 1327.0L502.1 1348.7A144.5 141.7 0 0 1 499.3 1346.5L516.8 1325.2A116.6 114.3 0 0 0 519.1 1327.0ZM516.0 1324.5L498.3 1345.7A144.5 141.7 0 0 1 495.5 1343.4L513.8 1322.7A116.6 114.3 0 0 0 516.0 1324.5ZM513.0 1322.0L494.5 1342.6A144.5 141.7 0 0 1 491.8 1340.2L510.8 1320.1A116.6 114.3 0 0 0 513.0 1322.0ZM510.0 1319.4L490.9 1339.3A144.5 141.7 0 0 1 488.3 1336.9L507.9 1317.4A116.6 114.3 0 0 0 510.0 1319.4ZM507.2 1316.6L487.3 1335.9A144.5 141.7 0 0 1 484.8 1333.4L505.2 1314.6A116.6 114.3 0 0 0 507.2 1316.6ZM504.4 1313.8L483.9 1332.4A144.5 141.7 0 0 1 481.5 1329.8L502.5 1311.7A116.6 114.3 0 0 0 504.4 1313.8ZM501.8 1310.9L480.6 1328.8A144.5 141.7 0 0 1 478.3 1326.1L499.9 1308.7A116.6 114.3 0 0 0 501.8 1310.9ZM499.2 1307.9L477.5 1325.1A144.5 141.7 0 0 1 475.2 1322.3L497.4 1305.7A116.6 114.3 0 0 0 499.2 1307.9ZM496.8 1304.8L474.4 1321.3A144.5 141.7 0 0 1 472.3 1318.5L495.1 1302.6A116.6 114.3 0 0 0 496.8 1304.8ZM494.4 1301.7L471.5 1317.4A144.5 141.7 0 0 1 469.5 1314.5L492.8 1299.3A116.6 114.3 0 0 0 494.4 1301.7ZM492.2 1298.4L468.8 1313.4A144.5 141.7 0 0 1 466.9 1310.4L490.7 1296.0A116.6 114.3 0 0 0 492.2 1298.4ZM490.1 1295.1L466.2 1309.3A144.5 141.7 0 0 1 464.3 1306.2L488.6 1292.7A116.6 114.3 0 0 0 490.1 1295.1ZM482.8 1281.2L457.2 1292.0A144.5 141.7 0 0 1 455.8 1288.8L481.7 1278.6A116.6 114.3 0 0 0 482.8 1281.2ZM481.3 1277.6L455.3 1287.6A144.5 141.7 0 0 1 454.0 1284.3L480.3 1275.0A116.6 114.3 0 0 0 481.3 1277.6ZM478.7 1270.3L452.0 1278.4A144.5 141.7 0 0 1 451.0 1275.1L477.9 1267.6A116.6 114.3 0 0 0 478.7 1270.3ZM480.3 1197.4L454.0 1188.1A144.5 141.7 0 0 1 455.3 1184.8L481.3 1194.8A116.6 114.3 0 0 0 480.3 1197.4ZM481.7 1193.8L455.8 1183.6A144.5 141.7 0 0 1 457.2 1180.4L482.8 1191.2A116.6 114.3 0 0 0 481.7 1193.8ZM513.8 1149.7L495.5 1129.0A144.5 141.7 0 0 1 498.3 1126.7L516.0 1147.9A116.6 114.3 0 0 0 513.8 1149.7ZM516.8 1147.2L499.3 1125.9A144.5 141.7 0 0 1 502.1 1123.7L519.1 1145.4A116.6 114.3 0 0 0 516.8 1147.2ZM520.0 1144.8L503.2 1122.9A144.5 141.7 0 0 1 506.1 1120.8L522.3 1143.1A116.6 114.3 0 0 0 520.0 1144.8ZM540.4 1132.7L528.5 1108.0A144.5 141.7 0 0 1 531.8 1106.5L543.1 1131.6A116.6 114.3 0 0 0 540.4 1132.7ZM562.9 1125.0L556.4 1098.4A144.5 141.7 0 0 1 559.9 1097.6L565.7 1124.4A116.6 114.3 0 0 0 562.9 1125.0ZM518.0 1360.7L504.2 1384.5A173.9 170.5 0 0 1 500.2 1382.2L514.6 1358.8A146.0 143.1 0 0 0 518.0 1360.7ZM513.7 1358.2L499.1 1381.5A173.9 170.5 0 0 1 495.2 1379.1L510.4 1356.2A146.0 143.1 0 0 0 513.7 1358.2ZM493.7 1343.7L475.2 1364.3A173.9 170.5 0 0 1 471.8 1361.3L490.8 1341.2A146.0 143.1 0 0 0 493.7 1343.7ZM490.0 1340.4L470.8 1360.4A173.9 170.5 0 0 1 467.5 1357.2L487.2 1337.8A146.0 143.1 0 0 0 490.0 1340.4ZM486.4 1337.0L466.6 1356.3A173.9 170.5 0 0 1 463.4 1353.1L483.7 1334.3A146.0 143.1 0 0 0 486.4 1337.0ZM482.9 1333.5L462.4 1352.1A173.9 170.5 0 0 1 459.4 1348.7L480.4 1330.7A146.0 143.1 0 0 0 482.9 1333.5ZM479.6 1329.8L458.5 1347.8A173.9 170.5 0 0 1 455.5 1344.3L477.1 1326.9A146.0 143.1 0 0 0 479.6 1329.8ZM470.4 1318.3L447.5 1334.0A173.9 170.5 0 0 1 444.9 1330.3L468.3 1315.1A146.0 143.1 0 0 0 470.4 1318.3ZM465.0 1310.1L441.1 1324.2A173.9 170.5 0 0 1 438.7 1320.3L463.0 1306.8A146.0 143.1 0 0 0 465.0 1310.1ZM460.1 1301.5L435.3 1314.1A173.9 170.5 0 0 1 433.2 1310.0L458.4 1298.2A146.0 143.1 0 0 0 460.1 1301.5ZM457.9 1297.2L432.7 1308.8A173.9 170.5 0 0 1 430.8 1304.7L456.3 1293.7A146.0 143.1 0 0 0 457.9 1297.2ZM452.3 1283.6L425.9 1292.7A173.9 170.5 0 0 1 424.4 1288.4L451.0 1280.0A146.0 143.1 0 0 0 452.3 1283.6ZM450.7 1279.0L424.0 1287.2A173.9 170.5 0 0 1 422.7 1282.8L449.6 1275.3A146.0 143.1 0 0 0 450.7 1279.0ZM449.3 1274.3L422.4 1281.6A173.9 170.5 0 0 1 421.2 1277.2L448.3 1270.6A146.0 143.1 0 0 0 449.3 1274.3ZM447.0 1264.8L419.6 1270.3A173.9 170.5 0 0 1 418.7 1265.8L446.3 1261.1A146.0 143.1 0 0 0 447.0 1264.8ZM454.4 1183.2L428.5 1173.0A173.9 170.5 0 0 1 430.2 1168.9L455.9 1179.7A146.0 143.1 0 0 0 454.4 1183.2ZM456.3 1178.7L430.8 1167.7A173.9 170.5 0 0 1 432.7 1163.6L457.9 1175.2A146.0 143.1 0 0 0 456.3 1178.7ZM460.7 1169.9L435.9 1157.2A173.9 170.5 0 0 1 438.1 1153.2L462.5 1166.5A146.0 143.1 0 0 0 460.7 1169.9ZM471.1 1153.2L448.3 1137.3A173.9 170.5 0 0 1 451.0 1133.7L473.4 1150.2A146.0 143.1 0 0 0 471.1 1153.2ZM502.3 1121.8L485.4 1100.0A173.9 170.5 0 0 1 489.2 1097.3L505.4 1119.6A146.0 143.1 0 0 0 502.3 1121.8ZM506.3 1119.0L490.3 1096.5A173.9 170.5 0 0 1 494.1 1094.0L509.5 1116.8A146.0 143.1 0 0 0 506.3 1119.0ZM518.9 1111.2L505.3 1087.3A173.9 170.5 0 0 1 509.4 1085.1L522.4 1109.4A146.0 143.1 0 0 0 518.9 1111.2ZM523.3 1108.9L510.6 1084.5A173.9 170.5 0 0 1 514.7 1082.5L526.8 1107.2A146.0 143.1 0 0 0 523.3 1108.9ZM527.8 1106.7L515.9 1081.9A173.9 170.5 0 0 1 520.1 1080.1L531.3 1105.2A146.0 143.1 0 0 0 527.8 1106.7ZM532.4 1104.7L521.3 1079.6A173.9 170.5 0 0 1 525.6 1077.8L535.9 1103.3A146.0 143.1 0 0 0 532.4 1104.7ZM551.2 1098.3L543.7 1071.8A173.9 170.5 0 0 1 548.2 1070.7L554.9 1097.3A146.0 143.1 0 0 0 551.2 1098.3ZM556.0 1097.0L549.5 1070.4A173.9 170.5 0 0 1 554.0 1069.4L559.8 1096.2A146.0 143.1 0 0 0 556.0 1097.0ZM565.8 1095.1L561.1 1068.1A173.9 170.5 0 0 1 565.7 1067.4L569.6 1094.5A146.0 143.1 0 0 0 565.8 1095.1ZM675.4 1386.3L689.1 1410.2A203.3 199.3 0 0 1 684.1 1412.9L671.2 1388.6A175.3 171.9 0 0 0 675.4 1386.3ZM648.2 1398.4L657.5 1424.2A203.3 199.3 0 0 1 652.1 1426.0L643.6 1399.9A175.3 171.9 0 0 0 648.2 1398.4ZM642.5 1400.2L650.9 1426.4A203.3 199.3 0 0 1 645.5 1427.9L637.9 1401.6A175.3 171.9 0 0 0 642.5 1400.2ZM636.8 1401.9L644.2 1428.3A203.3 199.3 0 0 1 638.8 1429.7L632.1 1403.1A175.3 171.9 0 0 0 636.8 1401.9ZM625.1 1404.6L630.7 1431.5A203.3 199.3 0 0 1 625.2 1432.5L620.4 1405.5A175.3 171.9 0 0 0 625.1 1404.6ZM619.2 1405.7L623.9 1432.7A203.3 199.3 0 0 1 618.3 1433.6L614.4 1406.4A175.3 171.9 0 0 0 619.2 1405.7ZM607.4 1407.3L610.1 1434.5A203.3 199.3 0 0 1 604.5 1435.0L602.5 1407.7A175.3 171.9 0 0 0 607.4 1407.3ZM571.5 1407.1L568.6 1434.4A203.3 199.3 0 0 1 563.0 1433.7L566.7 1406.6A175.3 171.9 0 0 0 571.5 1407.1ZM565.6 1406.4L561.7 1433.6A203.3 199.3 0 0 1 556.1 1432.7L560.8 1405.7A175.3 171.9 0 0 0 565.6 1406.4ZM536.4 1399.9L527.9 1426.0A203.3 199.3 0 0 1 522.5 1424.2L531.8 1398.4A175.3 171.9 0 0 0 536.4 1399.9ZM525.1 1395.9L514.8 1421.4A203.3 199.3 0 0 1 509.6 1419.3L520.7 1394.1A175.3 171.9 0 0 0 525.1 1395.9ZM483.6 1372.8L466.6 1394.6A203.3 199.3 0 0 1 462.2 1391.2L479.8 1369.9A175.3 171.9 0 0 0 483.6 1372.8ZM478.9 1369.2L461.2 1390.4A203.3 199.3 0 0 1 456.9 1386.8L475.2 1366.1A175.3 171.9 0 0 0 478.9 1369.2ZM457.5 1348.8L436.3 1366.7A203.3 199.3 0 0 1 432.7 1362.5L454.3 1345.1A175.3 171.9 0 0 0 457.5 1348.8ZM453.6 1344.3L431.9 1361.5A203.3 199.3 0 0 1 428.4 1357.1L450.6 1340.5A175.3 171.9 0 0 0 453.6 1344.3ZM449.9 1339.6L427.6 1356.1A203.3 199.3 0 0 1 424.3 1351.7L447.1 1335.8A175.3 171.9 0 0 0 449.9 1339.6ZM446.4 1334.9L423.5 1350.6A203.3 199.3 0 0 1 420.4 1346.0L443.7 1330.9A175.3 171.9 0 0 0 446.4 1334.9ZM443.1 1330.0L419.7 1345.0A203.3 199.3 0 0 1 416.7 1340.3L440.5 1326.0A175.3 171.9 0 0 0 443.1 1330.0ZM439.9 1325.0L416.0 1339.2A203.3 199.3 0 0 1 413.1 1334.4L437.4 1320.9A175.3 171.9 0 0 0 439.9 1325.0ZM431.4 1309.5L406.1 1321.2A203.3 199.3 0 0 1 403.8 1316.2L429.4 1305.2A175.3 171.9 0 0 0 431.4 1309.5ZM422.7 1287.7L396.0 1295.9A203.3 199.3 0 0 1 394.4 1290.6L421.3 1283.1A175.3 171.9 0 0 0 422.7 1287.7ZM421.0 1282.0L394.1 1289.3A203.3 199.3 0 0 1 392.7 1284.0L419.8 1277.4A175.3 171.9 0 0 0 421.0 1282.0ZM419.8 1195.0L392.7 1188.4A203.3 199.3 0 0 1 394.1 1183.1L421.0 1190.4A175.3 171.9 0 0 0 419.8 1195.0ZM421.3 1189.3L394.4 1181.8A203.3 199.3 0 0 1 396.0 1176.5L422.7 1184.7A175.3 171.9 0 0 0 421.3 1189.3ZM425.0 1178.1L398.7 1168.9A203.3 199.3 0 0 1 400.6 1163.7L426.7 1173.7A175.3 171.9 0 0 0 425.0 1178.1ZM677.4 1417.7L689.3 1442.5A232.7 228.1 0 0 1 683.3 1445.2L672.1 1420.1A204.7 200.7 0 0 0 677.4 1417.7ZM671.0 1420.5L682.1 1445.7A232.7 228.1 0 0 1 676.0 1448.2L665.6 1422.7A204.7 200.7 0 0 0 671.0 1420.5ZM664.6 1423.1L674.7 1448.6A232.7 228.1 0 0 1 668.5 1450.9L659.1 1425.1A204.7 200.7 0 0 0 664.6 1423.1ZM631.1 1432.8L636.7 1459.7A232.7 228.1 0 0 1 630.2 1460.9L625.3 1433.9A204.7 200.7 0 0 0 631.1 1432.8ZM624.2 1434.1L628.9 1461.1A232.7 228.1 0 0 1 622.3 1462.1L618.4 1435.0A204.7 200.7 0 0 0 624.2 1434.1ZM617.3 1435.1L621.0 1462.3A232.7 228.1 0 0 1 614.4 1463.0L611.5 1435.8A204.7 200.7 0 0 0 617.3 1435.1ZM603.4 1436.5L605.2 1463.8A232.7 228.1 0 0 1 598.6 1464.1L597.6 1436.8A204.7 200.7 0 0 0 603.4 1436.5ZM596.4 1436.8L597.3 1464.2A232.7 228.1 0 0 1 590.7 1464.3L590.6 1436.9A204.7 200.7 0 0 0 596.4 1436.8ZM541.0 1431.1L534.3 1457.7A232.7 228.1 0 0 1 527.9 1456.0L535.3 1429.6A204.7 200.7 0 0 0 541.0 1431.1ZM534.2 1429.3L526.6 1455.7A232.7 228.1 0 0 1 520.2 1453.8L528.6 1427.7A204.7 200.7 0 0 0 534.2 1429.3ZM527.5 1427.3L519.0 1453.4A232.7 228.1 0 0 1 512.7 1451.3L522.0 1425.5A204.7 200.7 0 0 0 527.5 1427.3ZM520.9 1425.1L511.5 1450.9A232.7 228.1 0 0 1 505.3 1448.6L515.4 1423.1A204.7 200.7 0 0 0 520.9 1425.1ZM514.4 1422.7L504.0 1448.2A232.7 228.1 0 0 1 497.9 1445.7L509.0 1420.5A204.7 200.7 0 0 0 514.4 1422.7ZM507.9 1420.1L496.7 1445.2A232.7 228.1 0 0 1 490.7 1442.5L502.6 1417.7A204.7 200.7 0 0 0 507.9 1420.1ZM489.2 1410.9L475.4 1434.7A232.7 228.1 0 0 1 469.7 1431.4L484.1 1408.0A204.7 200.7 0 0 0 489.2 1410.9ZM483.1 1407.4L468.6 1430.8A232.7 228.1 0 0 1 462.9 1427.3L478.2 1404.3A204.7 200.7 0 0 0 483.1 1407.4ZM477.2 1403.7L461.9 1426.6A232.7 228.1 0 0 1 456.4 1422.9L472.4 1400.5A204.7 200.7 0 0 0 477.2 1403.7ZM471.5 1399.8L455.3 1422.2A232.7 228.1 0 0 1 449.9 1418.3L466.8 1396.5A204.7 200.7 0 0 0 471.5 1399.8ZM455.0 1387.1L436.6 1407.7A232.7 228.1 0 0 1 431.7 1403.3L450.7 1383.3A204.7 200.7 0 0 0 455.0 1387.1ZM449.9 1382.5L430.7 1402.5A232.7 228.1 0 0 1 425.9 1397.9L445.7 1378.5A204.7 200.7 0 0 0 449.9 1382.5ZM444.8 1377.7L425.0 1397.0A232.7 228.1 0 0 1 420.4 1392.4L440.8 1373.6A204.7 200.7 0 0 0 444.8 1377.7ZM440.0 1372.8L419.5 1391.4A232.7 228.1 0 0 1 415.1 1386.6L436.1 1368.5A204.7 200.7 0 0 0 440.0 1372.8ZM430.8 1362.4L409.1 1379.7A232.7 228.1 0 0 1 405.0 1374.5L427.2 1357.9A204.7 200.7 0 0 0 430.8 1362.4ZM426.5 1357.0L404.2 1373.5A232.7 228.1 0 0 1 400.3 1368.3L423.1 1352.4A204.7 200.7 0 0 0 426.5 1357.0ZM422.4 1351.5L399.5 1367.2A232.7 228.1 0 0 1 395.8 1361.8L419.1 1346.7A204.7 200.7 0 0 0 422.4 1351.5ZM411.3 1334.1L386.9 1347.4A232.7 228.1 0 0 1 383.7 1341.7L408.5 1329.0A204.7 200.7 0 0 0 411.3 1334.1ZM408.0 1328.0L383.1 1340.6A232.7 228.1 0 0 1 380.2 1334.7L405.4 1322.9A204.7 200.7 0 0 0 408.0 1328.0ZM399.3 1309.3L373.3 1319.3A232.7 228.1 0 0 1 371.0 1313.2L397.3 1303.9A204.7 200.7 0 0 0 399.3 1309.3ZM396.9 1302.9L370.6 1312.0A232.7 228.1 0 0 1 368.4 1305.8L395.1 1297.4A204.7 200.7 0 0 0 396.9 1302.9ZM394.7 1296.4L368.0 1304.6A232.7 228.1 0 0 1 366.1 1298.4L393.0 1290.9A204.7 200.7 0 0 0 394.7 1296.4ZM392.7 1289.8L365.8 1297.1A232.7 228.1 0 0 1 364.1 1290.8L391.2 1284.3A204.7 200.7 0 0 0 392.7 1289.8ZM388.2 1269.7L360.6 1274.3A232.7 228.1 0 0 1 359.6 1267.9L387.3 1264.1A204.7 200.7 0 0 0 388.2 1269.7ZM385.3 1235.6L357.3 1235.6A232.7 228.1 0 0 1 357.5 1229.1L385.4 1229.9A204.7 200.7 0 0 0 385.3 1235.6ZM388.4 1201.5L360.8 1196.8A232.7 228.1 0 0 1 362.1 1190.4L389.5 1195.9A204.7 200.7 0 0 0 388.4 1201.5ZM397.3 1168.5L371.0 1159.2A232.7 228.1 0 0 1 373.3 1153.1L399.3 1163.1A204.7 200.7 0 0 0 397.3 1168.5ZM812.9 1306.2L839.6 1314.5A262.0 256.9 0 0 1 837.1 1321.6L810.8 1312.5A234.1 229.5 0 0 0 812.9 1306.2ZM793.8 1349.2L818.1 1362.7A262.0 256.9 0 0 1 814.2 1369.1L790.3 1355.0A234.1 229.5 0 0 0 793.8 1349.2ZM743.4 1409.5L761.7 1430.2A262.0 256.9 0 0 1 755.9 1435.1L738.2 1413.9A234.1 229.5 0 0 0 743.4 1409.5ZM717.9 1428.4L733.2 1451.4A262.0 256.9 0 0 1 726.7 1455.4L712.1 1432.0A234.1 229.5 0 0 0 717.9 1428.4ZM690.0 1443.7L702.0 1468.5A262.0 256.9 0 0 1 695.0 1471.6L683.8 1446.5A234.1 229.5 0 0 0 690.0 1443.7ZM637.1 1461.0L642.7 1487.9A262.0 256.9 0 0 1 635.2 1489.3L630.3 1462.3A234.1 229.5 0 0 0 637.1 1461.0ZM621.3 1463.6L625.0 1490.8A262.0 256.9 0 0 1 617.4 1491.7L614.5 1464.4A234.1 229.5 0 0 0 621.3 1463.6ZM613.4 1464.6L616.2 1491.8A262.0 256.9 0 0 1 608.5 1492.5L606.6 1465.1A234.1 229.5 0 0 0 613.4 1464.6ZM605.4 1465.2L607.2 1492.5A262.0 256.9 0 0 1 599.6 1492.9L598.6 1465.5A234.1 229.5 0 0 0 605.4 1465.2ZM597.4 1465.6L598.3 1493.0A262.0 256.9 0 0 1 590.6 1493.1L590.6 1465.7A234.1 229.5 0 0 0 597.4 1465.6ZM526.3 1457.0L518.7 1483.4A262.0 256.9 0 0 1 511.3 1481.3L519.7 1455.1A234.1 229.5 0 0 0 526.3 1457.0ZM511.1 1452.3L501.6 1478.1A262.0 256.9 0 0 1 494.5 1475.4L504.7 1449.9A234.1 229.5 0 0 0 511.1 1452.3ZM369.6 1158.8L343.3 1149.6A262.0 256.9 0 0 1 346.0 1142.5L372.0 1152.5A234.1 229.5 0 0 0 369.6 1158.8ZM449.0 1053.0L432.2 1031.1A262.0 256.9 0 0 1 438.4 1026.7L454.5 1049.0A234.1 229.5 0 0 0 449.0 1053.0ZM490.0 1028.7L478.0 1003.9A262.0 256.9 0 0 1 485.0 1000.8L496.2 1025.9A234.1 229.5 0 0 0 490.0 1028.7ZM497.3 1025.5L486.2 1000.3A262.0 256.9 0 0 1 493.3 997.4L503.6 1022.9A234.1 229.5 0 0 0 497.3 1025.5ZM504.7 1022.5L494.5 997.0A262.0 256.9 0 0 1 501.6 994.3L511.1 1020.1A234.1 229.5 0 0 0 504.7 1022.5ZM512.2 1019.8L502.9 993.9A262.0 256.9 0 0 1 510.1 991.5L518.6 1017.6A234.1 229.5 0 0 0 512.2 1019.8ZM843.5 1306.4L870.4 1313.9A291.4 285.7 0 0 1 868.0 1322.0L841.3 1313.8A263.5 258.3 0 0 0 843.5 1306.4ZM804.9 1385.6L827.7 1401.5A291.4 285.7 0 0 1 822.6 1408.3L800.3 1391.8A263.5 258.3 0 0 0 804.9 1385.6ZM799.6 1392.7L821.8 1409.3A291.4 285.7 0 0 1 816.5 1416.0L794.7 1398.8A263.5 258.3 0 0 0 799.6 1392.7ZM794.0 1399.7L815.6 1417.0A291.4 285.7 0 0 1 810.1 1423.5L789.0 1405.5A263.5 258.3 0 0 0 794.0 1399.7ZM788.2 1406.4L809.2 1424.4A291.4 285.7 0 0 1 803.4 1430.7L782.9 1412.1A263.5 258.3 0 0 0 788.2 1406.4ZM762.7 1431.3L781.0 1451.9A291.4 285.7 0 0 1 774.4 1457.4L756.7 1436.2A263.5 258.3 0 0 0 762.7 1431.3ZM741.5 1447.6L757.5 1470.0A291.4 285.7 0 0 1 750.4 1474.8L735.0 1451.9A263.5 258.3 0 0 0 741.5 1447.6ZM726.4 1457.2L740.9 1480.6A291.4 285.7 0 0 1 733.4 1484.9L719.6 1461.1A263.5 258.3 0 0 0 726.4 1457.2ZM694.4 1473.3L705.5 1498.5A291.4 285.7 0 0 1 697.5 1501.7L687.2 1476.3A263.5 258.3 0 0 0 694.4 1473.3ZM677.7 1479.8L687.0 1505.6A291.4 285.7 0 0 1 678.8 1508.3L670.3 1482.2A263.5 258.3 0 0 0 677.7 1479.8ZM651.8 1487.3L658.4 1513.9A291.4 285.7 0 0 1 649.9 1515.8L644.2 1489.0A263.5 258.3 0 0 0 651.8 1487.3ZM580.4 1494.3L579.4 1521.7A291.4 285.7 0 0 1 570.8 1521.3L572.6 1493.9A263.5 258.3 0 0 0 580.4 1494.3ZM571.4 1493.9L569.5 1521.2A291.4 285.7 0 0 1 560.8 1520.5L563.6 1493.2A263.5 258.3 0 0 0 571.4 1493.9ZM553.5 1492.0L549.7 1519.2A291.4 285.7 0 0 1 541.1 1517.9L545.8 1490.8A263.5 258.3 0 0 0 553.5 1492.0ZM509.7 1482.2L501.2 1508.3A291.4 285.7 0 0 1 493.0 1505.6L502.3 1479.8A263.5 258.3 0 0 0 509.7 1482.2ZM501.2 1479.4L491.8 1505.2A291.4 285.7 0 0 1 483.7 1502.2L493.9 1476.7A263.5 258.3 0 0 0 501.2 1479.4ZM391.0 1405.5L369.9 1423.5A291.4 285.7 0 0 1 364.4 1417.0L386.0 1399.7A263.5 258.3 0 0 0 391.0 1405.5ZM385.3 1398.8L363.5 1416.0A291.4 285.7 0 0 1 358.2 1409.3L380.4 1392.7A263.5 258.3 0 0 0 385.3 1398.8ZM364.6 1369.9L340.7 1384.1A291.4 285.7 0 0 1 336.3 1376.8L360.6 1363.3A263.5 258.3 0 0 0 364.6 1369.9ZM360.1 1362.3L335.7 1375.7A291.4 285.7 0 0 1 331.6 1368.2L356.3 1355.5A263.5 258.3 0 0 0 360.1 1362.3ZM330.5 1191.8L302.9 1187.0A291.4 285.7 0 0 1 304.6 1178.7L331.9 1184.2A263.5 258.3 0 0 0 330.5 1191.8ZM336.5 1166.0L309.6 1158.5A291.4 285.7 0 0 1 312.0 1150.4L338.7 1158.6A263.5 258.3 0 0 0 336.5 1166.0ZM352.3 1124.8L327.1 1112.9A291.4 285.7 0 0 1 331.0 1105.3L355.8 1117.9A263.5 258.3 0 0 0 352.3 1124.8ZM386.0 1072.7L364.4 1055.4A291.4 285.7 0 0 1 369.9 1048.9L391.0 1066.9A263.5 258.3 0 0 0 386.0 1072.7ZM391.8 1066.0L370.8 1048.0A291.4 285.7 0 0 1 376.6 1041.7L397.1 1060.3A263.5 258.3 0 0 0 391.8 1066.0ZM485.6 999.1L474.5 973.9A291.4 285.7 0 0 1 482.5 970.7L492.8 996.1A263.5 258.3 0 0 0 485.6 999.1ZM493.9 995.7L483.7 970.2A291.4 285.7 0 0 1 491.8 967.2L501.2 993.0A263.5 258.3 0 0 0 493.9 995.7ZM502.3 992.6L493.0 966.8A291.4 285.7 0 0 1 501.2 964.1L509.7 990.2A263.5 258.3 0 0 0 502.3 992.6Z"/>
<path fill="rgb(250, 250, 250)" d="M677.5 1311.7L698.5 1329.8A144.5 141.7 0 0 1 696.1 1332.4L675.6 1313.8A116.6 114.3 0 0 0 677.5 1311.7ZM669.2 1320.1L688.2 1340.2A144.5 141.7 0 0 1 685.5 1342.6L667.0 1322.0A116.6 114.3 0 0 0 669.2 1320.1ZM643.2 1337.9L655.9 1362.3A144.5 141.7 0 0 1 652.7 1363.9L640.6 1339.2A116.6 114.3 0 0 0 643.2 1337.9ZM488.1 1291.8L463.7 1305.1A144.5 141.7 0 0 1 462.0 1302.0L486.7 1289.3A116.6 114.3 0 0 0 488.1 1291.8ZM475.0 1255.1L447.5 1259.6A144.5 141.7 0 0 1 446.9 1256.2L474.6 1252.3A116.6 114.3 0 0 0 475.0 1255.1ZM474.4 1251.2L446.7 1254.8A144.5 141.7 0 0 1 446.3 1251.4L474.1 1248.4A116.6 114.3 0 0 0 474.4 1251.2ZM474.0 1247.4L446.2 1250.0A144.5 141.7 0 0 1 445.9 1246.5L473.7 1244.5A116.6 114.3 0 0 0 474.0 1247.4ZM483.3 1190.2L457.7 1179.1A144.5 141.7 0 0 1 459.2 1175.9L484.5 1187.6A116.6 114.3 0 0 0 483.3 1190.2ZM484.9 1186.6L459.8 1174.7A144.5 141.7 0 0 1 461.4 1171.6L486.2 1184.1A116.6 114.3 0 0 0 484.9 1186.6ZM733.7 1261.1L761.3 1265.8A173.9 170.5 0 0 1 760.4 1270.3L733.0 1264.8A146.0 143.1 0 0 0 733.7 1261.1ZM732.8 1265.9L760.1 1271.5A173.9 170.5 0 0 1 759.1 1275.9L731.9 1269.5A146.0 143.1 0 0 0 732.8 1265.9ZM689.2 1341.2L708.2 1361.3A173.9 170.5 0 0 1 704.8 1364.3L686.3 1343.7A146.0 143.1 0 0 0 689.2 1341.2ZM685.5 1344.4L703.8 1365.1A173.9 170.5 0 0 1 700.3 1368.0L682.5 1346.9A146.0 143.1 0 0 0 685.5 1344.4ZM554.9 1375.1L548.2 1401.7A173.9 170.5 0 0 1 543.7 1400.6L551.2 1374.1A146.0 143.1 0 0 0 554.9 1375.1ZM550.1 1373.8L542.4 1400.2A173.9 170.5 0 0 1 538.0 1398.9L546.4 1372.8A146.0 143.1 0 0 0 550.1 1373.8ZM501.4 1349.9L484.4 1371.7A173.9 170.5 0 0 1 480.8 1368.9L498.3 1347.5A146.0 143.1 0 0 0 501.4 1349.9ZM444.3 1245.4L416.5 1247.2A173.9 170.5 0 0 1 416.2 1242.7L444.1 1241.6A146.0 143.1 0 0 0 444.3 1245.4ZM447.2 1206.5L419.9 1200.9A173.9 170.5 0 0 1 420.9 1196.5L448.1 1202.9A146.0 143.1 0 0 0 447.2 1206.5ZM449.6 1197.1L422.7 1189.6A173.9 170.5 0 0 1 424.0 1185.2L450.7 1193.4A146.0 143.1 0 0 0 449.6 1197.1ZM468.3 1157.3L444.9 1142.1A173.9 170.5 0 0 1 447.5 1138.4L470.4 1154.1A146.0 143.1 0 0 0 468.3 1157.3ZM510.4 1116.2L495.2 1093.3A173.9 170.5 0 0 1 499.1 1090.9L513.7 1114.2A146.0 143.1 0 0 0 510.4 1116.2ZM514.6 1113.6L500.2 1090.2A173.9 170.5 0 0 1 504.2 1087.9L518.0 1111.7A146.0 143.1 0 0 0 514.6 1113.6ZM758.7 1283.1L785.6 1290.6A203.3 199.3 0 0 1 784.0 1295.9L757.3 1287.7A175.3 171.9 0 0 0 758.7 1283.1ZM745.4 1315.8L770.2 1328.5A203.3 199.3 0 0 1 767.5 1333.3L743.1 1320.0A175.3 171.9 0 0 0 745.4 1315.8ZM664.8 1391.7L676.7 1416.5A203.3 199.3 0 0 1 671.6 1418.7L660.4 1393.6A175.3 171.9 0 0 0 664.8 1391.7ZM659.3 1394.1L670.4 1419.3A203.3 199.3 0 0 1 665.2 1421.4L654.9 1395.9A175.3 171.9 0 0 0 659.3 1394.1ZM503.6 1385.8L489.8 1409.6A203.3 199.3 0 0 1 484.9 1406.8L499.4 1383.4A175.3 171.9 0 0 0 503.6 1385.8ZM498.4 1382.8L483.8 1406.2A203.3 199.3 0 0 1 479.1 1403.2L494.3 1380.2A175.3 171.9 0 0 0 498.4 1382.8ZM418.4 1200.7L391.1 1195.0A203.3 199.3 0 0 1 392.3 1189.6L419.5 1196.0A175.3 171.9 0 0 0 418.4 1200.7ZM423.0 1183.7L396.4 1175.3A203.3 199.3 0 0 1 398.2 1170.1L424.6 1179.2A175.3 171.9 0 0 0 423.0 1183.7ZM768.2 1335.1L792.5 1348.6A232.7 228.1 0 0 1 789.1 1354.2L765.2 1340.0A204.7 200.7 0 0 0 768.2 1335.1ZM718.7 1392.2L736.3 1413.5A232.7 228.1 0 0 1 731.1 1417.6L714.2 1395.8A204.7 200.7 0 0 0 718.7 1392.2ZM644.9 1459.3L651.4 1485.9A262.0 256.9 0 0 1 643.9 1487.6L638.2 1460.8A234.1 229.5 0 0 0 644.9 1459.3ZM573.4 1465.1L571.5 1492.5A262.0 256.9 0 0 1 563.8 1491.8L566.6 1464.6A234.1 229.5 0 0 0 573.4 1465.1ZM367.1 1166.2L340.4 1157.9A262.0 256.9 0 0 1 342.9 1150.8L369.2 1159.9A234.1 229.5 0 0 0 367.1 1166.2ZM375.5 1144.2L349.9 1133.3A262.0 256.9 0 0 1 353.1 1126.4L378.4 1138.1A234.1 229.5 0 0 0 375.5 1144.2ZM378.8 1137.1L353.6 1125.3A262.0 256.9 0 0 1 357.0 1118.6L381.9 1131.1A234.1 229.5 0 0 0 378.8 1137.1ZM390.3 1116.5L366.4 1102.2A262.0 256.9 0 0 1 370.5 1095.8L393.9 1110.8A234.1 229.5 0 0 0 390.3 1116.5ZM436.6 1062.9L418.3 1042.2A262.0 256.9 0 0 1 424.1 1037.3L441.8 1058.5A234.1 229.5 0 0 0 436.6 1062.9ZM582.6 1006.8L581.7 979.4A262.0 256.9 0 0 1 589.4 979.3L589.4 1006.7A234.1 229.5 0 0 0 582.6 1006.8ZM430.3 1441.7L413.4 1463.5A291.4 285.7 0 0 1 406.6 1458.2L424.2 1436.9A263.5 258.3 0 0 0 430.3 1441.7ZM416.4 1430.5L398.0 1451.1A291.4 285.7 0 0 1 391.6 1445.4L410.6 1425.4A263.5 258.3 0 0 0 416.4 1430.5ZM431.3 1030.0L414.4 1008.2A291.4 285.7 0 0 1 421.4 1003.2L437.6 1025.5A263.5 258.3 0 0 0 431.3 1030.0ZM519.5 987.3L512.0 960.9A291.4 285.7 0 0 1 520.4 958.8L527.1 985.4A263.5 258.3 0 0 0 519.5 987.3ZM528.2 985.1L521.6 958.5A291.4 285.7 0 0 1 530.1 956.6L535.8 983.4A263.5 258.3 0 0 0 528.2 985.1Z"/>
<path fill="rgb(230, 222, 246)" d="M674.8 1314.6L695.2 1333.4A144.5 141.7 0 0 1 692.7 1335.9L672.8 1316.6A116.6 114.3 0 0 0 674.8 1314.6ZM672.1 1317.4L691.7 1336.9A144.5 141.7 0 0 1 689.1 1339.3L670.0 1319.4A116.6 114.3 0 0 0 672.1 1317.4ZM663.2 1325.2L680.7 1346.5A144.5 141.7 0 0 1 677.9 1348.7L660.9 1327.0A116.6 114.3 0 0 0 663.2 1325.2ZM639.6 1339.7L651.5 1364.4A144.5 141.7 0 0 1 648.2 1365.9L636.9 1340.8A116.6 114.3 0 0 0 639.6 1339.7ZM613.2 1348.2L618.7 1375.1A144.5 141.7 0 0 1 615.2 1375.7L610.3 1348.7A116.6 114.3 0 0 0 613.2 1348.2ZM736.0 1236.7L763.9 1236.9A173.9 170.5 0 0 1 763.8 1241.4L735.9 1240.5A146.0 143.1 0 0 0 736.0 1236.7ZM734.5 1256.2L762.2 1260.1A173.9 170.5 0 0 1 761.5 1264.5L733.9 1260.0A146.0 143.1 0 0 0 734.5 1256.2ZM729.0 1280.0L755.6 1288.4A173.9 170.5 0 0 1 754.1 1292.7L727.7 1283.6A146.0 143.1 0 0 0 729.0 1280.0ZM727.3 1284.6L753.6 1293.9A173.9 170.5 0 0 1 752.0 1298.1L726.0 1288.2A146.0 143.1 0 0 0 727.3 1284.6ZM719.3 1302.5L744.1 1315.2A173.9 170.5 0 0 1 741.9 1319.2L717.5 1305.9A146.0 143.1 0 0 0 719.3 1302.5ZM708.9 1319.2L731.7 1335.1A173.9 170.5 0 0 1 729.0 1338.7L706.6 1322.2A146.0 143.1 0 0 0 708.9 1319.2ZM699.6 1330.7L720.6 1348.7A173.9 170.5 0 0 1 717.6 1352.1L697.1 1333.5A146.0 143.1 0 0 0 699.6 1330.7ZM696.3 1334.3L716.6 1353.1A173.9 170.5 0 0 1 713.4 1356.3L693.6 1337.0A146.0 143.1 0 0 0 696.3 1334.3ZM604.4 1378.6L607.1 1405.9A173.9 170.5 0 0 1 602.5 1406.3L600.5 1378.9A146.0 143.1 0 0 0 604.4 1378.6ZM594.4 1379.2L595.3 1406.6A173.9 170.5 0 0 1 590.7 1406.7L590.6 1379.3A146.0 143.1 0 0 0 594.4 1379.2ZM540.6 1370.9L531.1 1396.6A173.9 170.5 0 0 1 526.8 1395.1L537.0 1369.5A146.0 143.1 0 0 0 540.6 1370.9ZM535.9 1369.1L525.6 1394.6A173.9 170.5 0 0 1 521.3 1392.8L532.4 1367.7A146.0 143.1 0 0 0 535.9 1369.1ZM455.9 1292.7L430.2 1303.5A173.9 170.5 0 0 1 428.5 1299.4L454.4 1289.2A146.0 143.1 0 0 0 455.9 1292.7ZM454.0 1288.2L428.0 1298.1A173.9 170.5 0 0 1 426.4 1293.9L452.7 1284.6A146.0 143.1 0 0 0 454.0 1288.2ZM444.0 1235.7L416.1 1235.5A173.9 170.5 0 0 1 416.2 1231.0L444.1 1231.9A146.0 143.1 0 0 0 444.0 1235.7ZM444.1 1230.8L416.2 1229.7A173.9 170.5 0 0 1 416.5 1225.2L444.3 1227.0A146.0 143.1 0 0 0 444.1 1230.8ZM444.4 1225.9L416.5 1223.9A173.9 170.5 0 0 1 416.9 1219.4L444.7 1222.1A146.0 143.1 0 0 0 444.4 1225.9ZM445.5 1216.2L417.8 1212.3A173.9 170.5 0 0 1 418.5 1207.9L446.1 1212.4A146.0 143.1 0 0 0 445.5 1216.2ZM757.0 1288.7L783.6 1297.1A203.3 199.3 0 0 1 781.8 1302.3L755.4 1293.2A175.3 171.9 0 0 0 757.0 1288.7ZM750.6 1305.2L776.2 1316.2A203.3 199.3 0 0 1 773.9 1321.2L748.6 1309.5A175.3 171.9 0 0 0 750.6 1305.2ZM736.3 1330.9L759.6 1346.0A203.3 199.3 0 0 1 756.5 1350.6L733.6 1334.9A175.3 171.9 0 0 0 736.3 1330.9ZM547.9 1403.1L541.2 1429.7A203.3 199.3 0 0 1 535.8 1428.3L543.2 1401.9A175.3 171.9 0 0 0 547.9 1403.1ZM519.6 1393.6L508.4 1418.7A203.3 199.3 0 0 1 503.3 1416.5L515.2 1391.7A175.3 171.9 0 0 0 519.6 1393.6ZM499.4 1089.0L484.9 1065.6A203.3 199.3 0 0 1 489.8 1062.8L503.6 1086.6A175.3 171.9 0 0 0 499.4 1089.0ZM784.9 1297.4L811.6 1305.8A232.7 228.1 0 0 1 809.4 1312.0L783.1 1302.9A204.7 200.7 0 0 0 784.9 1297.4ZM774.6 1322.9L799.8 1334.7A232.7 228.1 0 0 1 796.9 1340.6L772.0 1328.0A204.7 200.7 0 0 0 774.6 1322.9ZM771.5 1329.0L796.3 1341.7A232.7 228.1 0 0 1 793.1 1347.4L768.7 1334.1A204.7 200.7 0 0 0 771.5 1329.0ZM760.9 1346.7L784.2 1361.8A232.7 228.1 0 0 1 780.5 1367.2L757.6 1351.5A204.7 200.7 0 0 0 760.9 1346.7ZM399.8 1162.1L373.8 1151.9A232.7 228.1 0 0 1 376.3 1145.9L402.0 1156.8A204.7 200.7 0 0 0 399.8 1162.1ZM436.1 1103.9L415.1 1085.8A232.7 228.1 0 0 1 419.5 1081.0L440.0 1099.6A204.7 200.7 0 0 0 436.1 1103.9ZM581.4 1465.5L580.4 1492.9A262.0 256.9 0 0 1 572.8 1492.5L574.6 1465.2A234.1 229.5 0 0 0 581.4 1465.5ZM356.0 1243.5L328.1 1244.3A262.0 256.9 0 0 1 328.0 1236.8L355.9 1236.8A234.1 229.5 0 0 0 356.0 1243.5ZM382.4 1130.1L357.6 1117.4A262.0 256.9 0 0 1 361.3 1110.8L385.7 1124.2A234.1 229.5 0 0 0 382.4 1130.1ZM399.1 1103.4L376.3 1087.5A262.0 256.9 0 0 1 380.8 1081.5L403.1 1098.0A234.1 229.5 0 0 0 399.1 1103.4ZM445.0 1451.9L429.6 1474.8A291.4 285.7 0 0 1 422.5 1470.0L438.5 1447.6A263.5 258.3 0 0 0 445.0 1451.9ZM423.3 1436.2L405.6 1457.4A291.4 285.7 0 0 1 399.0 1451.9L417.3 1431.3A263.5 258.3 0 0 0 423.3 1436.2ZM327.1 1253.3L299.2 1255.1A291.4 285.7 0 0 1 298.8 1246.6L326.7 1245.6A263.5 258.3 0 0 0 327.1 1253.3ZM326.7 1226.8L298.8 1225.8A291.4 285.7 0 0 1 299.2 1217.3L327.1 1219.1A263.5 258.3 0 0 0 326.7 1226.8ZM417.3 1041.1L399.0 1020.5A291.4 285.7 0 0 1 405.6 1015.0L423.3 1036.2A263.5 258.3 0 0 0 417.3 1041.1ZM438.5 1024.8L422.5 1002.4A291.4 285.7 0 0 1 429.6 997.6L445.0 1020.5A263.5 258.3 0 0 0 438.5 1024.8ZM446.0 1019.9L430.7 997.0A291.4 285.7 0 0 1 438.0 992.4L452.6 1015.8A263.5 258.3 0 0 0 446.0 1019.9ZM510.9 989.8L502.5 963.7A291.4 285.7 0 0 1 510.8 961.3L518.4 987.6A263.5 258.3 0 0 0 510.9 989.8Z"/>
<path fill="rgb(200, 222, 196)" d="M666.2 1322.7L684.5 1343.4A144.5 141.7 0 0 1 681.7 1345.7L664.0 1324.5A116.6 114.3 0 0 0 666.2 1322.7ZM646.7 1336.1L660.2 1360.0A144.5 141.7 0 0 1 657.1 1361.7L644.1 1337.4A116.6 114.3 0 0 0 646.7 1336.1ZM486.2 1288.3L461.4 1300.8A144.5 141.7 0 0 1 459.8 1297.7L484.9 1285.8A116.6 114.3 0 0 0 486.2 1288.3ZM544.1 1131.2L533.0 1106.0A144.5 141.7 0 0 1 536.3 1104.6L546.7 1130.1A116.6 114.3 0 0 0 544.1 1131.2ZM547.7 1129.7L537.6 1104.1A144.5 141.7 0 0 1 541.0 1102.9L550.4 1128.7A116.6 114.3 0 0 0 547.7 1129.7ZM551.5 1128.3L542.2 1102.5A144.5 141.7 0 0 1 545.6 1101.3L554.2 1127.4A116.6 114.3 0 0 0 551.5 1128.3ZM555.3 1127.1L546.9 1100.9A144.5 141.7 0 0 1 550.4 1099.9L558.0 1126.3A116.6 114.3 0 0 0 555.3 1127.1ZM559.1 1126.0L551.7 1099.6A144.5 141.7 0 0 1 555.1 1098.7L561.9 1125.3A116.6 114.3 0 0 0 559.1 1126.0ZM731.7 1270.6L758.8 1277.2A173.9 170.5 0 0 1 757.6 1281.6L730.7 1274.3A146.0 143.1 0 0 0 731.7 1270.6ZM692.8 1337.8L712.5 1357.2A173.9 170.5 0 0 1 709.2 1360.4L690.0 1340.4A146.0 143.1 0 0 0 692.8 1337.8ZM509.5 1355.6L494.1 1378.4A173.9 170.5 0 0 1 490.3 1375.9L506.3 1353.4A146.0 143.1 0 0 0 509.5 1355.6ZM505.4 1352.8L489.2 1375.1A173.9 170.5 0 0 1 485.4 1372.4L502.3 1350.6A146.0 143.1 0 0 0 505.4 1352.8ZM497.5 1346.9L479.7 1368.0A173.9 170.5 0 0 1 476.2 1365.1L494.5 1344.4A146.0 143.1 0 0 0 497.5 1346.9ZM476.4 1326.1L454.7 1343.3A173.9 170.5 0 0 1 451.8 1339.7L474.0 1323.1A146.0 143.1 0 0 0 476.4 1326.1ZM473.4 1322.2L451.0 1338.7A173.9 170.5 0 0 1 448.3 1335.1L471.1 1319.2A146.0 143.1 0 0 0 473.4 1322.2ZM467.6 1314.2L444.2 1329.2A173.9 170.5 0 0 1 441.8 1325.3L465.6 1311.0A146.0 143.1 0 0 0 467.6 1314.2ZM462.5 1305.9L438.1 1319.2A173.9 170.5 0 0 1 435.9 1315.2L460.7 1302.5A146.0 143.1 0 0 0 462.5 1305.9ZM448.1 1269.5L420.9 1275.9A173.9 170.5 0 0 1 419.9 1271.5L447.2 1265.9A146.0 143.1 0 0 0 448.1 1269.5ZM445.3 1255.1L417.6 1258.8A173.9 170.5 0 0 1 417.1 1254.3L444.9 1251.4A146.0 143.1 0 0 0 445.3 1255.1ZM444.7 1250.3L416.9 1253.0A173.9 170.5 0 0 1 416.5 1248.5L444.4 1246.5A146.0 143.1 0 0 0 444.7 1250.3ZM448.3 1201.8L421.2 1195.2A173.9 170.5 0 0 1 422.4 1190.8L449.3 1198.1A146.0 143.1 0 0 0 448.3 1201.8ZM463.0 1165.6L438.7 1152.1A173.9 170.5 0 0 1 441.1 1148.2L465.0 1162.3A146.0 143.1 0 0 0 463.0 1165.6ZM465.6 1161.4L441.8 1147.1A173.9 170.5 0 0 1 444.2 1143.2L467.6 1158.2A146.0 143.1 0 0 0 465.6 1161.4ZM560.9 1096.0L555.3 1069.1A173.9 170.5 0 0 1 559.8 1068.3L564.6 1095.3A146.0 143.1 0 0 0 560.9 1096.0ZM765.3 1236.8L793.3 1236.8A203.3 199.3 0 0 1 793.2 1242.4L765.3 1241.5A175.3 171.9 0 0 0 765.3 1236.8ZM742.6 1320.9L766.9 1334.4A203.3 199.3 0 0 1 764.0 1339.2L740.1 1325.0A175.3 171.9 0 0 0 742.6 1320.9ZM670.2 1389.1L682.9 1413.5A203.3 199.3 0 0 1 677.9 1415.9L665.8 1391.2A175.3 171.9 0 0 0 670.2 1389.1ZM653.8 1396.3L664.0 1421.8A203.3 199.3 0 0 1 658.7 1423.8L649.3 1398.0A175.3 171.9 0 0 0 653.8 1396.3ZM559.6 1405.5L554.8 1432.5A203.3 199.3 0 0 1 549.3 1431.5L554.9 1404.6A175.3 171.9 0 0 0 559.6 1405.5ZM553.8 1404.4L548.0 1431.2A203.3 199.3 0 0 1 542.5 1430.0L549.0 1403.3A175.3 171.9 0 0 0 553.8 1404.4ZM514.2 1391.2L502.1 1415.9A203.3 199.3 0 0 1 497.1 1413.5L509.8 1389.1A175.3 171.9 0 0 0 514.2 1391.2ZM508.8 1388.6L495.9 1412.9A203.3 199.3 0 0 1 490.9 1410.2L504.6 1386.3A175.3 171.9 0 0 0 508.8 1388.6ZM493.4 1379.6L478.0 1402.5A203.3 199.3 0 0 1 473.3 1399.4L489.3 1377.0A175.3 171.9 0 0 0 493.4 1379.6ZM488.4 1376.3L472.2 1398.6A203.3 199.3 0 0 1 467.7 1395.4L484.5 1373.5A175.3 171.9 0 0 0 488.4 1376.3ZM474.3 1365.4L455.9 1386.0A203.3 199.3 0 0 1 451.7 1382.3L470.7 1362.2A175.3 171.9 0 0 0 474.3 1365.4ZM469.9 1361.5L450.8 1381.4A203.3 199.3 0 0 1 446.7 1377.6L466.4 1358.1A175.3 171.9 0 0 0 469.9 1361.5ZM465.6 1357.4L445.8 1376.7A203.3 199.3 0 0 1 441.9 1372.7L462.2 1353.9A175.3 171.9 0 0 0 465.6 1357.4ZM461.5 1353.1L441.0 1371.8A203.3 199.3 0 0 1 437.2 1367.7L458.2 1349.6A175.3 171.9 0 0 0 461.5 1353.1ZM434.1 1314.8L409.2 1327.3A203.3 199.3 0 0 1 406.7 1322.4L431.9 1310.5A175.3 171.9 0 0 0 434.1 1314.8ZM424.6 1293.2L398.2 1302.3A203.3 199.3 0 0 1 396.4 1297.1L423.0 1288.7A175.3 171.9 0 0 0 424.6 1293.2ZM427.1 1172.6L401.1 1162.5A203.3 199.3 0 0 1 403.3 1157.4L429.0 1168.2A175.3 171.9 0 0 0 427.1 1172.6ZM466.4 1114.3L446.7 1094.8A203.3 199.3 0 0 1 450.8 1091.0L469.9 1110.9A175.3 171.9 0 0 0 466.4 1114.3ZM713.2 1396.5L730.1 1418.3A232.7 228.1 0 0 1 724.7 1422.2L708.5 1399.8A204.7 200.7 0 0 0 713.2 1396.5ZM658.0 1425.5L667.3 1451.3A232.7 228.1 0 0 1 661.0 1453.4L652.5 1427.3A204.7 200.7 0 0 0 658.0 1425.5ZM651.4 1427.7L659.8 1453.8A232.7 228.1 0 0 1 653.4 1455.7L645.8 1429.3A204.7 200.7 0 0 0 651.4 1427.7ZM644.7 1429.6L652.1 1456.0A232.7 228.1 0 0 1 645.7 1457.7L639.0 1431.1A204.7 200.7 0 0 0 644.7 1429.6ZM637.9 1431.3L644.5 1458.0A232.7 228.1 0 0 1 638.0 1459.4L632.2 1432.6A204.7 200.7 0 0 0 637.9 1431.3ZM568.5 1435.8L565.6 1463.0A232.7 228.1 0 0 1 559.0 1462.3L562.7 1435.1A204.7 200.7 0 0 0 568.5 1435.8ZM561.6 1435.0L557.7 1462.1A232.7 228.1 0 0 1 551.1 1461.1L555.8 1434.1A204.7 200.7 0 0 0 561.6 1435.0ZM554.7 1433.9L549.8 1460.9A232.7 228.1 0 0 1 543.3 1459.7L548.9 1432.8A204.7 200.7 0 0 0 554.7 1433.9ZM547.8 1432.6L542.0 1459.4A232.7 228.1 0 0 1 535.5 1458.0L542.1 1431.3A204.7 200.7 0 0 0 547.8 1432.6ZM501.6 1417.2L489.5 1441.9A232.7 228.1 0 0 1 483.5 1439.0L496.3 1414.7A204.7 200.7 0 0 0 501.6 1417.2ZM495.3 1414.1L482.4 1438.4A232.7 228.1 0 0 1 476.5 1435.3L490.2 1411.4A204.7 200.7 0 0 0 495.3 1414.1ZM435.3 1367.7L414.2 1385.6A232.7 228.1 0 0 1 409.9 1380.6L431.6 1363.3A204.7 200.7 0 0 0 435.3 1367.7ZM418.5 1345.8L395.1 1360.8A232.7 228.1 0 0 1 391.5 1355.3L415.4 1341.0A204.7 200.7 0 0 0 418.5 1345.8ZM414.8 1340.0L390.9 1354.2A232.7 228.1 0 0 1 387.5 1348.6L411.8 1335.1A204.7 200.7 0 0 0 414.8 1340.0ZM391.0 1283.2L363.8 1289.6A232.7 228.1 0 0 1 362.3 1283.2L389.7 1277.6A204.7 200.7 0 0 0 391.0 1283.2ZM386.4 1215.1L358.6 1212.2A232.7 228.1 0 0 1 359.4 1205.8L387.1 1209.4A204.7 200.7 0 0 0 386.4 1215.1ZM395.1 1175.0L368.4 1166.6A232.7 228.1 0 0 1 370.6 1160.4L396.9 1169.5A204.7 200.7 0 0 0 395.1 1175.0ZM797.6 1342.3L822.4 1355.0A262.0 256.9 0 0 1 818.7 1361.6L794.3 1348.2A234.1 229.5 0 0 0 797.6 1342.3ZM789.7 1355.9L813.6 1370.2A262.0 256.9 0 0 1 809.5 1376.6L786.1 1361.6A234.1 229.5 0 0 0 789.7 1355.9ZM737.3 1414.6L754.9 1435.9A262.0 256.9 0 0 1 748.8 1440.5L731.9 1418.7A234.1 229.5 0 0 0 737.3 1414.6ZM682.7 1446.9L693.8 1472.1A262.0 256.9 0 0 1 686.7 1475.0L676.4 1449.5A234.1 229.5 0 0 0 682.7 1446.9ZM652.6 1457.3L660.1 1483.7A262.0 256.9 0 0 1 652.7 1485.6L646.0 1459.0A234.1 229.5 0 0 0 652.6 1457.3ZM442.7 1057.8L425.1 1036.5A262.0 256.9 0 0 1 431.2 1031.9L448.1 1053.7A234.1 229.5 0 0 0 442.7 1057.8ZM519.7 1017.3L511.3 991.1A262.0 256.9 0 0 1 518.7 989.0L526.3 1015.4A234.1 229.5 0 0 0 519.7 1017.3ZM542.9 1011.4L537.3 984.5A262.0 256.9 0 0 1 544.8 983.1L549.7 1010.1A234.1 229.5 0 0 0 542.9 1011.4ZM550.8 1009.9L546.1 982.9A262.0 256.9 0 0 1 553.7 981.8L557.6 1008.9A234.1 229.5 0 0 0 550.8 1009.9ZM566.6 1007.8L563.8 980.6A262.0 256.9 0 0 1 571.5 979.9L573.4 1007.3A234.1 229.5 0 0 0 566.6 1007.8ZM574.6 1007.2L572.8 979.9A262.0 256.9 0 0 1 580.4 979.5L581.4 1006.9A234.1 229.5 0 0 0 574.6 1007.2ZM782.2 1412.9L802.5 1431.7A291.4 285.7 0 0 1 796.5 1437.8L776.7 1418.4A263.5 258.3 0 0 0 782.2 1412.9ZM769.4 1425.4L788.4 1445.4A291.4 285.7 0 0 1 782.0 1451.1L763.6 1430.5A263.5 258.3 0 0 0 769.4 1425.4ZM686.1 1476.7L696.3 1502.2A291.4 285.7 0 0 1 688.2 1505.2L678.8 1479.4A263.5 258.3 0 0 0 686.1 1476.7ZM643.0 1489.2L648.7 1516.1A291.4 285.7 0 0 1 640.1 1517.6L635.3 1490.6A263.5 258.3 0 0 0 643.0 1489.2ZM452.6 1456.6L438.0 1480.0A291.4 285.7 0 0 1 430.7 1475.4L446.0 1452.5A263.5 258.3 0 0 0 452.6 1456.6ZM437.6 1446.9L421.4 1469.2A291.4 285.7 0 0 1 414.4 1464.2L431.3 1442.4A263.5 258.3 0 0 0 437.6 1446.9ZM409.7 1424.6L390.6 1444.6A291.4 285.7 0 0 1 384.4 1438.7L404.1 1419.2A263.5 258.3 0 0 0 409.7 1424.6ZM403.3 1418.4L383.5 1437.8A291.4 285.7 0 0 1 377.5 1431.7L397.8 1412.9A263.5 258.3 0 0 0 403.3 1418.4ZM397.1 1412.1L376.6 1430.7A291.4 285.7 0 0 1 370.8 1424.4L391.8 1406.4A263.5 258.3 0 0 0 397.1 1412.1ZM379.7 1391.8L357.4 1408.3A291.4 285.7 0 0 1 352.3 1401.5L375.1 1385.6A263.5 258.3 0 0 0 379.7 1391.8ZM374.4 1384.7L351.6 1400.4A291.4 285.7 0 0 1 346.7 1393.4L370.0 1378.3A263.5 258.3 0 0 0 374.4 1384.7ZM369.4 1377.4L346.0 1392.4A291.4 285.7 0 0 1 341.3 1385.2L365.2 1370.9A263.5 258.3 0 0 0 369.4 1377.4ZM355.8 1354.5L331.0 1367.1A291.4 285.7 0 0 1 327.1 1359.5L352.3 1347.6A263.5 258.3 0 0 0 355.8 1354.5ZM329.1 1200.5L301.4 1196.7A291.4 285.7 0 0 1 302.7 1188.3L330.3 1192.9A263.5 258.3 0 0 0 329.1 1200.5ZM334.2 1174.5L307.0 1167.9A291.4 285.7 0 0 1 309.2 1159.7L336.1 1167.1A263.5 258.3 0 0 0 334.2 1174.5ZM453.6 1015.2L439.1 991.8A291.4 285.7 0 0 1 446.6 987.5L460.4 1011.3A263.5 258.3 0 0 0 453.6 1015.2ZM545.8 981.6L541.1 954.5A291.4 285.7 0 0 1 549.7 953.2L553.5 980.4A263.5 258.3 0 0 0 545.8 981.6Z"/>
<path fill="rgb(64, 127, 53)" d="M535.9 1337.4L522.9 1361.7A144.5 141.7 0 0 1 519.8 1360.0L533.3 1336.1A116.6 114.3 0 0 0 535.9 1337.4ZM532.4 1335.6L518.6 1359.4A144.5 141.7 0 0 1 515.5 1357.6L529.9 1334.1A116.6 114.3 0 0 0 532.4 1335.6ZM486.7 1183.1L462.0 1170.4A144.5 141.7 0 0 1 463.7 1167.3L488.1 1180.6A116.6 114.3 0 0 0 486.7 1183.1ZM488.6 1179.7L464.3 1166.2A144.5 141.7 0 0 1 466.2 1163.1L490.1 1177.3A116.6 114.3 0 0 0 488.6 1179.7ZM490.7 1176.4L466.9 1162.0A144.5 141.7 0 0 1 468.8 1159.0L492.2 1174.0A116.6 114.3 0 0 0 490.7 1176.4ZM492.8 1173.1L469.5 1157.9A144.5 141.7 0 0 1 471.5 1155.0L494.4 1170.7A116.6 114.3 0 0 0 492.8 1173.1ZM497.4 1166.7L475.2 1150.1A144.5 141.7 0 0 1 477.5 1147.3L499.2 1164.5A116.6 114.3 0 0 0 497.4 1166.7ZM499.9 1163.7L478.3 1146.3A144.5 141.7 0 0 1 480.6 1143.6L501.8 1161.5A116.6 114.3 0 0 0 499.9 1163.7ZM505.2 1157.8L484.8 1139.0A144.5 141.7 0 0 1 487.3 1136.5L507.2 1155.8A116.6 114.3 0 0 0 505.2 1157.8ZM510.8 1152.3L491.8 1132.2A144.5 141.7 0 0 1 494.5 1129.8L513.0 1150.4A116.6 114.3 0 0 0 510.8 1152.3ZM529.9 1138.3L515.5 1114.8A144.5 141.7 0 0 1 518.6 1113.0L532.4 1136.8A116.6 114.3 0 0 0 529.9 1138.3ZM533.3 1136.3L519.8 1112.4A144.5 141.7 0 0 1 522.9 1110.7L535.9 1135.0A116.6 114.3 0 0 0 533.3 1136.3ZM578.6 1122.4L575.9 1095.2A144.5 141.7 0 0 1 579.5 1094.9L581.5 1122.2A116.6 114.3 0 0 0 578.6 1122.4ZM586.6 1121.9L585.7 1094.6A144.5 141.7 0 0 1 589.3 1094.5L589.5 1121.9A116.6 114.3 0 0 0 586.6 1121.9ZM531.3 1367.2L520.1 1392.3A173.9 170.5 0 0 1 515.9 1390.5L527.8 1365.7A146.0 143.1 0 0 0 531.3 1367.2ZM480.4 1141.7L459.4 1123.7A173.9 170.5 0 0 1 462.4 1120.3L482.9 1138.9A146.0 143.1 0 0 0 480.4 1141.7ZM483.7 1138.1L463.4 1119.3A173.9 170.5 0 0 1 466.6 1116.1L486.4 1135.4A146.0 143.1 0 0 0 483.7 1138.1ZM487.2 1134.6L467.5 1115.2A173.9 170.5 0 0 1 470.8 1112.0L490.0 1132.0A146.0 143.1 0 0 0 487.2 1134.6ZM490.8 1131.2L471.8 1111.1A173.9 170.5 0 0 1 475.2 1108.1L493.7 1128.7A146.0 143.1 0 0 0 490.8 1131.2ZM541.6 1101.2L532.4 1075.3A173.9 170.5 0 0 1 536.8 1073.9L545.3 1100.0A146.0 143.1 0 0 0 541.6 1101.2ZM546.4 1099.6L538.0 1073.5A173.9 170.5 0 0 1 542.4 1072.2L550.1 1098.6A146.0 143.1 0 0 0 546.4 1099.6ZM580.6 1093.4L578.8 1066.1A173.9 170.5 0 0 1 583.4 1065.8L584.5 1093.2A146.0 143.1 0 0 0 580.6 1093.4ZM585.6 1093.2L584.7 1065.8A173.9 170.5 0 0 1 589.3 1065.7L589.4 1093.1A146.0 143.1 0 0 0 585.6 1093.2ZM631.0 1403.3L637.5 1430.0A203.3 199.3 0 0 1 632.0 1431.2L626.2 1404.4A175.3 171.9 0 0 0 631.0 1403.3ZM601.4 1407.7L603.2 1435.1A203.3 199.3 0 0 1 597.6 1435.4L596.6 1408.0A175.3 171.9 0 0 0 601.4 1407.7ZM415.0 1247.4L387.1 1249.2A203.3 199.3 0 0 1 386.9 1243.6L414.8 1242.6A175.3 171.9 0 0 0 415.0 1247.4ZM414.7 1241.5L386.8 1242.4A203.3 199.3 0 0 1 386.7 1236.8L414.7 1236.8A175.3 171.9 0 0 0 414.7 1241.5ZM414.8 1229.8L386.9 1228.8A203.3 199.3 0 0 1 387.1 1223.2L415.0 1225.0A175.3 171.9 0 0 0 414.8 1229.8ZM415.1 1223.9L387.2 1222.0A203.3 199.3 0 0 1 387.7 1216.5L415.5 1219.2A175.3 171.9 0 0 0 415.1 1223.9ZM415.6 1218.1L387.8 1215.2A203.3 199.3 0 0 1 388.5 1209.7L416.2 1213.3A175.3 171.9 0 0 0 415.6 1218.1ZM416.4 1212.2L388.7 1208.4A203.3 199.3 0 0 1 389.6 1203.0L417.1 1207.5A175.3 171.9 0 0 0 416.4 1212.2ZM417.3 1206.4L389.8 1201.7A203.3 199.3 0 0 1 390.8 1196.3L418.2 1201.8A175.3 171.9 0 0 0 417.3 1206.4ZM575.5 1436.4L573.5 1463.7A232.7 228.1 0 0 1 566.9 1463.2L569.6 1435.9A204.7 200.7 0 0 0 575.5 1436.4ZM389.5 1276.5L362.1 1282.0A232.7 228.1 0 0 1 360.8 1275.6L388.4 1270.9A204.7 200.7 0 0 0 389.5 1276.5ZM386.3 1256.2L358.5 1258.9A232.7 228.1 0 0 1 357.9 1252.4L385.8 1250.5A204.7 200.7 0 0 0 386.3 1256.2ZM385.7 1249.3L357.8 1251.1A232.7 228.1 0 0 1 357.5 1244.6L385.4 1243.6A204.7 200.7 0 0 0 385.7 1249.3ZM385.4 1242.5L357.5 1243.3A232.7 228.1 0 0 1 357.3 1236.8L385.3 1236.8A204.7 200.7 0 0 0 385.4 1242.5ZM385.4 1228.8L357.5 1227.8A232.7 228.1 0 0 1 357.8 1221.3L385.7 1223.1A204.7 200.7 0 0 0 385.4 1228.8ZM823.9 1244.6L851.9 1245.6A262.0 256.9 0 0 1 851.5 1253.1L823.6 1251.3A234.1 229.5 0 0 0 823.9 1244.6ZM823.5 1252.4L851.4 1254.4A262.0 256.9 0 0 1 850.7 1261.8L822.9 1259.1A234.1 229.5 0 0 0 823.5 1252.4ZM817.3 1291.1L844.4 1297.6A262.0 256.9 0 0 1 842.5 1304.9L815.6 1297.6A234.1 229.5 0 0 0 817.3 1291.1ZM807.6 1320.9L833.5 1331.0A262.0 256.9 0 0 1 830.6 1338.0L804.9 1327.1A234.1 229.5 0 0 0 807.6 1320.9ZM804.5 1328.2L830.1 1339.1A262.0 256.9 0 0 1 826.9 1346.0L801.6 1334.3A234.1 229.5 0 0 0 804.5 1328.2ZM801.2 1335.3L826.4 1347.1A262.0 256.9 0 0 1 823.0 1353.8L798.1 1341.3A234.1 229.5 0 0 0 801.2 1335.3ZM771.2 1381.5L792.9 1398.8A262.0 256.9 0 0 1 787.9 1404.6L766.8 1386.6A234.1 229.5 0 0 0 771.2 1381.5ZM749.4 1404.3L768.4 1424.4A262.0 256.9 0 0 1 762.7 1429.4L744.3 1408.8A234.1 229.5 0 0 0 749.4 1404.3ZM704.2 1436.5L717.9 1460.4A262.0 256.9 0 0 1 711.1 1464.0L698.2 1439.7A234.1 229.5 0 0 0 704.2 1436.5ZM667.8 1452.6L677.1 1478.5A262.0 256.9 0 0 1 669.9 1480.9L661.4 1454.8A234.1 229.5 0 0 0 667.8 1452.6ZM372.4 1151.5L346.5 1141.4A262.0 256.9 0 0 1 349.4 1134.4L375.1 1145.3A234.1 229.5 0 0 0 372.4 1151.5ZM462.1 1044.0L446.8 1021.0A262.0 256.9 0 0 1 453.3 1017.0L467.9 1040.4A234.1 229.5 0 0 0 462.1 1044.0ZM468.9 1039.8L454.4 1016.4A262.0 256.9 0 0 1 461.0 1012.6L474.8 1036.4A234.1 229.5 0 0 0 468.9 1039.8ZM475.8 1035.9L462.1 1012.0A262.0 256.9 0 0 1 468.9 1008.4L481.8 1032.7A234.1 229.5 0 0 0 475.8 1035.9ZM558.7 1008.8L555.0 981.6A262.0 256.9 0 0 1 562.6 980.7L565.5 1008.0A234.1 229.5 0 0 0 558.7 1008.8ZM853.3 1245.6L881.2 1246.6A291.4 285.7 0 0 1 880.8 1255.1L852.9 1253.3A263.5 258.3 0 0 0 853.3 1245.6ZM850.9 1271.9L878.6 1275.7A291.4 285.7 0 0 1 877.3 1284.1L849.7 1279.5A263.5 258.3 0 0 0 850.9 1271.9ZM849.5 1280.6L877.1 1285.4A291.4 285.7 0 0 1 875.4 1293.7L848.1 1288.2A263.5 258.3 0 0 0 849.5 1280.6ZM847.8 1289.3L875.2 1294.9A291.4 285.7 0 0 1 873.3 1303.2L846.1 1296.8A263.5 258.3 0 0 0 847.8 1289.3ZM838.1 1323.2L864.4 1332.5A291.4 285.7 0 0 1 861.3 1340.4L835.3 1330.4A263.5 258.3 0 0 0 838.1 1323.2ZM834.9 1331.5L860.9 1341.6A291.4 285.7 0 0 1 857.5 1349.4L831.9 1338.6A263.5 258.3 0 0 0 834.9 1331.5ZM831.4 1339.6L857.0 1350.6A291.4 285.7 0 0 1 853.4 1358.3L828.2 1346.6A263.5 258.3 0 0 0 831.4 1339.6ZM660.5 1485.1L668.0 1511.5A291.4 285.7 0 0 1 659.6 1513.6L652.9 1487.0A263.5 258.3 0 0 0 660.5 1485.1ZM328.0 1209.2L300.2 1206.4A291.4 285.7 0 0 1 301.2 1197.9L328.9 1201.6A263.5 258.3 0 0 0 328.0 1209.2ZM365.2 1101.5L341.3 1087.2A291.4 285.7 0 0 1 346.0 1080.0L369.4 1095.0A263.5 258.3 0 0 0 365.2 1101.5ZM370.0 1094.1L346.7 1079.0A291.4 285.7 0 0 1 351.6 1072.0L374.4 1087.7A263.5 258.3 0 0 0 370.0 1094.1Z"/>
<path fill="rgb(36, 102, 25)" d="M495.1 1169.8L472.3 1153.9A144.5 141.7 0 0 1 474.4 1151.1L496.8 1167.6A116.6 114.3 0 0 0 495.1 1169.8ZM502.5 1160.7L481.5 1142.6A144.5 141.7 0 0 1 483.9 1140.0L504.4 1158.6A116.6 114.3 0 0 0 502.5 1160.7ZM507.9 1155.0L488.3 1135.5A144.5 141.7 0 0 1 490.9 1133.1L510.0 1153.0A116.6 114.3 0 0 0 507.9 1155.0ZM566.8 1124.2L561.3 1097.3A144.5 141.7 0 0 1 564.8 1096.7L569.7 1123.7A116.6 114.3 0 0 0 566.8 1124.2ZM570.7 1123.5L566.1 1096.4A144.5 141.7 0 0 1 569.6 1095.9L573.6 1123.0A116.6 114.3 0 0 0 570.7 1123.5ZM582.6 1122.1L580.8 1094.8A144.5 141.7 0 0 1 584.4 1094.6L585.5 1122.0A116.6 114.3 0 0 0 582.6 1122.1ZM494.5 1128.0L476.2 1107.3A173.9 170.5 0 0 1 479.7 1104.4L497.5 1125.5A146.0 143.1 0 0 0 494.5 1128.0ZM613.3 1406.6L617.0 1433.7A203.3 199.3 0 0 1 611.4 1434.4L608.5 1407.1A175.3 171.9 0 0 0 613.3 1406.6ZM414.7 1235.6L386.7 1235.6A203.3 199.3 0 0 1 386.8 1230.0L414.7 1230.9A175.3 171.9 0 0 0 414.7 1235.6ZM429.4 1167.2L403.8 1156.2A203.3 199.3 0 0 1 406.1 1151.2L431.4 1162.9A175.3 171.9 0 0 0 429.4 1167.2ZM385.8 1221.9L357.9 1220.0A232.7 228.1 0 0 1 358.5 1213.5L386.3 1216.2A204.7 200.7 0 0 0 385.8 1221.9ZM822.8 1260.2L850.6 1263.1A262.0 256.9 0 0 1 849.7 1270.6L822.0 1266.9A234.1 229.5 0 0 0 822.8 1260.2ZM815.3 1298.7L842.1 1306.1A262.0 256.9 0 0 1 840.0 1313.3L813.3 1305.1A234.1 229.5 0 0 0 815.3 1298.7ZM766.1 1387.5L787.1 1405.5A262.0 256.9 0 0 1 781.9 1411.1L761.5 1392.4A234.1 229.5 0 0 0 766.1 1387.5ZM760.7 1393.3L781.1 1412.0A262.0 256.9 0 0 1 775.7 1417.4L755.9 1398.1A234.1 229.5 0 0 0 760.7 1393.3ZM755.1 1398.9L774.8 1418.3A262.0 256.9 0 0 1 769.3 1423.5L750.2 1403.5A234.1 229.5 0 0 0 755.1 1398.9ZM724.5 1424.0L740.6 1446.4A262.0 256.9 0 0 1 734.3 1450.7L718.9 1427.8A234.1 229.5 0 0 0 724.5 1424.0ZM629.2 1462.5L633.9 1489.5A262.0 256.9 0 0 1 626.3 1490.6L622.4 1463.5A234.1 229.5 0 0 0 629.2 1462.5ZM840.9 1314.9L867.6 1323.2A291.4 285.7 0 0 1 864.8 1331.3L838.4 1322.2A263.5 258.3 0 0 0 840.9 1314.9ZM823.7 1355.5L848.4 1368.2A291.4 285.7 0 0 1 844.3 1375.7L819.9 1362.3A263.5 258.3 0 0 0 823.7 1355.5ZM819.4 1363.3L843.7 1376.8A291.4 285.7 0 0 1 839.3 1384.1L815.4 1369.9A263.5 258.3 0 0 0 819.4 1363.3ZM814.8 1370.9L838.7 1385.2A291.4 285.7 0 0 1 834.0 1392.4L810.6 1377.4A263.5 258.3 0 0 0 814.8 1370.9ZM810.0 1378.3L833.3 1393.4A291.4 285.7 0 0 1 828.4 1400.4L805.6 1384.7A263.5 258.3 0 0 0 810.0 1378.3Z"/>
<path d="M700.1 1238.0L689.9 1237.9A99.9 98.0 0 0 1 689.8 1241.2L700.0 1241.7M699.8 1245.4L689.4 1244.5A99.8 97.8 0 0 1 689.1 1247.9L699.4 1249.1M689.2 1246.2L680.9 1245.4A91.4 89.6 0 0 1 680.3 1249.9L698.9 1252.7M689.9 1239.5L669.7 1238.9A79.8 78.2 0 0 1 669.1 1246.2L680.6 1247.6M697.5 1260.0L687.1 1257.7A99.6 97.6 0 0 1 686.3 1260.9L696.6 1263.6M698.2 1256.4L676.7 1252.4A88.3 86.5 0 0 1 675.7 1256.7L686.7 1259.3M695.6 1267.1L683.2 1263.5A97.2 95.3 0 0 1 682.2 1266.6L694.4 1270.6M691.8 1277.5L680.7 1273.0A98.2 96.3 0 0 1 679.4 1276.1L690.3 1280.9M693.2 1274.1L673.8 1267.0A89.5 87.8 0 0 1 672.1 1271.2L680.1 1274.6M682.7 1265.0L664.8 1259.5A78.4 76.9 0 0 1 662.7 1265.0L673.0 1269.1M676.2 1254.5L657.7 1250.6A69.3 67.9 0 0 1 655.2 1259.2L663.8 1262.3M688.7 1284.2L675.3 1277.7A95.2 93.4 0 0 1 673.8 1280.6L686.9 1287.5M656.6 1254.9L652.7 1253.8A65.2 63.9 0 0 1 647.9 1265.6L674.6 1279.2M669.5 1242.5L641.2 1240.3A51.3 50.3 0 0 1 637.7 1254.8L650.6 1259.8M683.1 1293.9L674.1 1288.3A99.5 97.5 0 0 1 672.2 1291.1L681.1 1297.0M678.9 1300.0L670.4 1293.9A99.6 97.7 0 0 1 668.3 1296.5L676.6 1302.9M673.2 1289.7L661.1 1281.9A85.0 83.4 0 0 1 657.7 1286.6L669.4 1295.2M685.1 1290.7L658.0 1275.2A78.8 77.3 0 0 1 654.4 1280.8L659.5 1284.3M640.0 1247.7L633.7 1246.2A44.8 44.0 0 0 1 627.7 1260.0L656.3 1278.0M674.3 1305.8L664.4 1297.7A97.3 95.4 0 0 1 662.2 1300.1L671.8 1308.6M669.2 1311.3L660.1 1302.6A97.4 95.5 0 0 1 657.7 1304.9L666.6 1313.9M663.8 1316.4L656.9 1308.9A99.9 97.9 0 0 1 654.4 1311.1L661.0 1318.8M658.9 1303.7L649.8 1294.8A84.6 82.9 0 0 1 645.6 1298.7L655.6 1310.0M663.3 1298.9L648.1 1285.8A77.0 75.5 0 0 1 642.6 1291.4L647.7 1296.8M652.0 1325.5L645.2 1315.7A98.0 96.1 0 0 1 642.4 1317.5L648.8 1327.5M655.1 1323.4L642.6 1306.6A89.0 87.3 0 0 1 638.8 1309.2L643.8 1316.6M658.1 1321.1L641.5 1300.5A83.3 81.7 0 0 1 637.5 1303.4L640.7 1307.9M645.4 1288.7L635.1 1278.9A62.7 61.5 0 0 1 627.2 1285.6L639.5 1301.9M631.3 1253.4L620.1 1248.7A32.7 32.0 0 0 1 611.5 1260.3L631.3 1282.4M616.5 1255.0L606.5 1247.9" fill="none" stroke="#d63a62" stroke-width="1.25" stroke-linejoin="miter"/>
<path d="M645.6 1329.4L638.8 1318.0A96.6 94.8 0 0 1 635.9 1319.6L642.3 1331.2M637.4 1318.8L633.3 1311.8A88.4 86.7 0 0 1 629.3 1313.8L639.0 1332.9M635.6 1334.5L631.3 1325.3A99.8 97.9 0 0 1 628.2 1326.6L632.2 1336.0M629.8 1326.0L625.6 1316.6A89.4 87.6 0 0 1 621.4 1318.2L628.7 1337.3M625.1 1338.6L621.1 1326.9A97.6 95.7 0 0 1 617.9 1327.9L621.5 1339.7M623.5 1317.4L619.2 1307.0A77.9 76.4 0 0 1 613.6 1309.0L619.5 1327.4M614.3 1341.6L611.9 1331.3A99.4 97.5 0 0 1 608.6 1332.0L610.6 1342.3M617.9 1340.7L612.4 1320.2A88.6 86.9 0 0 1 608.0 1321.3L610.2 1331.6M616.4 1308.1L613.1 1299.1A68.2 66.9 0 0 1 605.6 1301.3L610.2 1320.8M603.1 1343.4L601.6 1330.9A97.3 95.4 0 0 1 598.3 1331.2L599.4 1343.8M595.6 1344.1L595.0 1331.4A97.3 95.3 0 0 1 591.7 1331.5L591.9 1344.2M593.3 1331.5L593.1 1323.8A89.4 87.7 0 0 1 588.5 1323.9L588.1 1344.2M590.8 1323.9L590.7 1319.3A84.8 83.1 0 0 1 585.7 1319.2L584.4 1344.1M599.9 1331.1L597.8 1310.3A75.9 74.4 0 0 1 588.4 1310.6L588.2 1319.3M606.9 1342.9L601.0 1305.8A71.9 70.4 0 0 1 592.9 1306.6L593.1 1310.6M609.4 1300.3L605.7 1288.0A55.1 54.0 0 0 1 595.3 1290.0L597.0 1306.3M631.3 1312.8L612.9 1278.7A49.0 48.1 0 0 1 599.4 1283.4L600.5 1289.2M573.1 1342.9L574.7 1333.0A99.9 97.9 0 0 1 571.4 1332.4L569.4 1342.3M576.9 1343.4L579.4 1322.7A88.9 87.2 0 0 1 574.9 1322.1L573.0 1332.7M562.1 1340.7L565.1 1329.4A98.2 96.3 0 0 1 561.9 1328.5L558.5 1339.7M565.7 1341.6L570.0 1323.2A91.0 89.2 0 0 1 565.4 1322.1L563.5 1328.9M554.9 1338.6L559.1 1326.2A96.8 94.9 0 0 1 556.0 1325.1L551.3 1337.3M567.7 1322.7L570.8 1310.7A78.3 76.8 0 0 1 563.8 1308.6L557.6 1325.6M577.1 1322.5L579.6 1305.9A71.8 70.4 0 0 1 569.2 1303.6L567.3 1309.7M580.6 1343.8L584.2 1302.4A67.7 66.4 0 0 1 575.2 1301.0L574.3 1304.9M606.3 1281.5L602.6 1271.3A37.9 37.2 0 0 1 584.2 1273.0L579.7 1301.8M593.5 1273.2L591.9 1256.1" fill="none" stroke="#a59b2e" stroke-width="1.25" stroke-linejoin="miter"/>
<path d="M547.8 1336.0L552.1 1326.0A99.1 97.2 0 0 1 549.0 1324.6L544.4 1334.5M541.0 1332.9L547.5 1320.1A95.5 93.7 0 0 1 544.6 1318.6L537.7 1331.2M546.0 1319.4L548.4 1314.9A90.4 88.7 0 0 1 544.3 1312.7L534.4 1329.4M531.2 1327.5L537.8 1317.2A97.7 95.8 0 0 1 535.0 1315.4L528.0 1325.5M546.3 1313.9L550.9 1305.7A81.0 79.4 0 0 1 545.6 1302.6L536.4 1316.3M550.5 1325.3L561.5 1300.5A71.5 70.1 0 0 1 553.1 1296.2L548.2 1304.2M521.9 1321.1L529.8 1311.3A97.4 95.5 0 0 1 527.2 1309.2L519.0 1318.8M524.9 1323.4L536.7 1307.5A90.2 88.4 0 0 1 533.1 1304.8L528.5 1310.3M557.2 1298.5L560.4 1292.6A64.7 63.4 0 0 1 550.5 1286.4L534.9 1306.2M516.2 1316.4L523.4 1308.6A99.4 97.5 0 0 1 520.9 1306.3L513.4 1313.9M510.8 1311.3L521.0 1301.6A96.0 94.1 0 0 1 518.8 1299.2L508.2 1308.6M505.7 1305.8L514.1 1298.9A99.3 97.3 0 0 1 511.9 1296.3L503.4 1302.9M519.9 1300.4L526.8 1294.0A86.4 84.7 0 0 1 523.0 1289.7L513.0 1297.6M522.1 1307.4L537.4 1291.5A77.1 75.6 0 0 1 531.9 1285.9L524.9 1291.9M501.1 1300.0L510.3 1293.4A98.8 96.8 0 0 1 508.3 1290.7L498.9 1297.0M534.5 1288.7L542.5 1281.2A66.0 64.7 0 0 1 536.1 1273.5L509.3 1292.0M494.9 1290.7L505.1 1284.9A98.3 96.4 0 0 1 503.5 1282.0L493.1 1287.5M496.9 1293.9L513.6 1283.5A90.3 88.6 0 0 1 511.3 1279.6L504.3 1283.4M539.2 1277.5L542.4 1274.8A61.8 60.5 0 0 1 537.0 1267.2L512.4 1281.6M491.3 1284.2L502.8 1278.6A97.3 95.4 0 0 1 501.4 1275.7L489.7 1280.9M539.5 1271.1L542.9 1268.8A57.7 56.5 0 0 1 537.9 1260.5L502.1 1277.2M488.2 1277.5L501.5 1272.1A95.8 93.9 0 0 1 500.3 1269.1L486.8 1274.1M484.4 1267.1L494.3 1264.2A99.9 97.9 0 0 1 493.4 1261.0L483.4 1263.6M485.6 1270.6L505.4 1264.1A89.2 87.5 0 0 1 504.1 1259.8L493.8 1262.6M504.7 1262.0L509.3 1260.6A84.5 82.8 0 0 1 507.6 1254.4L482.5 1260.0M508.4 1257.5L513.0 1256.3A79.6 78.1 0 0 1 511.8 1250.8L481.8 1256.4M500.9 1270.6L523.3 1262.0A71.7 70.3 0 0 1 520.1 1251.8L512.3 1253.6M521.5 1257.0L526.9 1255.3A66.0 64.7 0 0 1 524.7 1246.1L481.1 1252.7M480.2 1245.4L490.7 1244.5A99.7 97.7 0 0 1 490.4 1241.2L480.0 1241.7M490.5 1242.9L500.5 1242.2A89.8 88.0 0 0 1 500.3 1237.7L479.9 1238.0M480.6 1249.1L504.9 1246.2A85.7 84.0 0 0 1 504.4 1239.8L500.3 1240.0M479.9 1234.4L490.2 1234.5A99.9 97.9 0 0 1 490.3 1231.2L480.0 1230.7M490.2 1232.9L500.7 1233.2A89.3 87.6 0 0 1 501.0 1228.7L480.2 1227.0M480.6 1223.3L491.3 1224.6A99.5 97.5 0 0 1 491.7 1221.3L481.1 1219.7M481.8 1216.0L492.8 1218.1A98.9 97.0 0 0 1 493.5 1214.8L482.5 1212.4M491.5 1222.9L507.4 1225.1A83.4 81.7 0 0 1 508.4 1219.6L493.1 1216.5M500.8 1231.0L518.9 1232.0A71.3 69.9 0 0 1 519.8 1224.3L507.8 1222.3M504.6 1243.0L532.0 1240.8A58.2 57.1 0 0 1 532.2 1229.6L519.2 1228.2M525.7 1250.8L545.2 1246.3A46.0 45.1 0 0 1 544.0 1235.4L531.8 1235.2M540.2 1264.8L562.7 1251.8A31.6 31.0 0 0 1 558.6 1239.4L544.3 1240.9M555.3 1289.7L575.8 1258.1A26.5 26.0 0 0 1 564.8 1244.3L560.0 1245.9M569.1 1252.2L573.9 1248.5" fill="none" stroke="#2f9f40" stroke-width="1.25" stroke-linejoin="miter"/>
<path d="M484.4 1205.3L498.1 1209.3A95.9 94.0 0 0 1 499.1 1206.2L485.6 1201.8M483.4 1208.8L501.2 1213.4A91.8 90.0 0 0 1 502.5 1209.0L498.6 1207.8M486.8 1198.3L500.9 1203.5A95.1 93.3 0 0 1 502.1 1200.5L488.2 1194.9M501.8 1211.2L514.5 1214.8A78.6 77.0 0 0 1 516.9 1207.9L501.5 1202.0M515.6 1211.3L570.7 1229.7" fill="none" stroke="#3fa9b8" stroke-width="1.25" stroke-linejoin="miter"/>
<path d="M491.3 1188.2L503.6 1194.1A96.4 94.5 0 0 1 505.1 1191.3L493.1 1184.9M489.7 1191.5L509.3 1200.2A88.6 86.9 0 0 1 511.3 1196.2L504.4 1192.7M494.9 1181.7L505.6 1187.8A97.8 95.9 0 0 1 507.3 1185.0L496.9 1178.5M510.3 1198.2L517.0 1201.4A81.2 79.6 0 0 1 520.6 1194.8L506.5 1186.4M501.1 1172.4L510.2 1179.0A98.9 96.9 0 0 1 512.2 1176.3L503.4 1169.5M498.9 1175.4L516.4 1187.1A89.1 87.3 0 0 1 519.0 1183.4L511.2 1177.6M517.7 1185.2L521.0 1187.6A85.0 83.3 0 0 1 525.0 1182.5L505.7 1166.6M523.0 1185.0L527.0 1188.1A79.8 78.2 0 0 1 530.8 1183.8L508.2 1163.8M528.9 1185.9L532.0 1188.5A75.7 74.2 0 0 1 535.6 1184.6L510.8 1161.1M513.4 1158.5L522.1 1167.4A97.6 95.7 0 0 1 524.6 1165.1L516.2 1156.0M523.4 1166.2L528.8 1171.9A89.7 87.9 0 0 1 532.2 1168.9L519.0 1153.6M530.5 1170.4L535.2 1175.6A82.6 80.9 0 0 1 539.0 1172.5L521.9 1151.3M524.9 1149.0L532.7 1159.5A97.0 95.1 0 0 1 535.4 1157.6L528.0 1146.9M537.1 1174.1L543.3 1181.3A72.9 71.5 0 0 1 547.9 1177.8L534.1 1158.5M533.7 1186.5L548.2 1199.3A56.2 55.1 0 0 1 555.7 1192.5L545.6 1179.5M534.4 1143.0L539.5 1151.5A100.1 98.1 0 0 1 542.5 1149.9L537.7 1141.2M531.2 1144.9L541.6 1161.1A90.7 88.9 0 0 1 545.6 1158.7L541.0 1150.7M544.4 1137.9L549.5 1148.9A97.8 95.9 0 0 1 552.6 1147.6L547.8 1136.4M541.0 1139.5L550.7 1158.5A88.4 86.7 0 0 1 554.8 1156.7L551.0 1148.3M543.6 1159.9L550.8 1171.8A76.5 75.0 0 0 1 557.7 1168.2L552.7 1157.6M551.3 1135.1L555.2 1145.1A99.2 97.3 0 0 1 558.4 1144.0L554.9 1133.8M554.2 1169.9L558.6 1178.0A67.1 65.8 0 0 1 567.5 1174.2L556.8 1144.5M562.1 1131.7L564.9 1142.1A99.2 97.3 0 0 1 568.2 1141.3L565.7 1130.8M558.5 1132.7L563.9 1150.4A91.3 89.5 0 0 1 568.4 1149.2L566.5 1141.7M566.1 1149.8L567.5 1154.7A86.1 84.4 0 0 1 573.9 1153.3L569.4 1130.1M573.1 1129.5L574.8 1140.1A99.2 97.2 0 0 1 578.2 1139.7L576.9 1129.0M570.7 1154.0L573.7 1166.8A72.7 71.3 0 0 1 580.1 1165.6L576.5 1139.9M584.4 1128.3L585.0 1141.3A96.9 95.0 0 0 1 588.3 1141.2L588.1 1128.2M580.6 1128.6L582.3 1148.3A90.0 88.3 0 0 1 586.9 1148.0L586.7 1141.3M576.9 1166.1L578.1 1172.7A65.8 64.5 0 0 1 586.1 1171.8L584.6 1148.1M563.0 1176.0L570.6 1192.9A48.2 47.3 0 0 1 584.2 1189.3L582.1 1172.2M551.8 1195.7L565.7 1210.5A35.8 35.1 0 0 1 580.6 1202.4L577.3 1190.6M518.7 1198.1L562.2 1221.3A31.7 31.1 0 0 1 574.6 1209.0L572.6 1205.5M567.5 1214.3L575.5 1222.1" fill="none" stroke="#a45ae8" stroke-width="1.25" stroke-linejoin="miter"/>
<path d="M606.5 1247.9A20.4 20.0 0 1 1 575.5 1222.1" fill="none" stroke="#111" stroke-width="1.5"/>
<polyline points="589.8,954.6 611.6,954.6 611.6,1003.0 589.8,1003.0" fill="none" stroke="#666" stroke-width="1.0"/>
<polyline points="611.6,977.1 635.6,977.1 635.6,1064.2 623.4,1064.2" fill="none" stroke="#666" stroke-width="1.0"/>
<polyline points="589.8,1013.1 596.3,1013.1 596.3,1062.2 589.8,1062.2" fill="none" stroke="#666" stroke-width="1.0"/>
<polyline points="596.3,1035.7 623.4,1035.7 623.4,1094.5 604.2,1094.5" fill="none" stroke="#666" stroke-width="1.0"/>
<polyline points="589.8,1070.6 604.2,1070.6 604.2,1119.3 589.8,1119.3" fill="none" stroke="#666" stroke-width="1.0"/>
<text x="649.2" y="969.6" font-family='"Liberation Sans", sans-serif' font-size="17.9" fill="#111" textLength="100.2" lengthAdjust="spacingAndGlyphs">BLG_Pre_1</text>
<text x="649.2" y="998.6" font-family='"Liberation Sans", sans-serif' font-size="17.9" fill="#111" textLength="101.5" lengthAdjust="spacingAndGlyphs">BLG_Pre_2</text>
<text x="649.2" y="1027.7" font-family='"Liberation Sans", sans-serif' font-size="17.9" fill="#111" textLength="98.5" lengthAdjust="spacingAndGlyphs">ALA_Pre_1</text>
<text x="649.2" y="1056.8" font-family='"Liberation Sans", sans-serif' font-size="17.9" fill="#111" textLength="100.0" lengthAdjust="spacingAndGlyphs">ALA_Pre_2</text>
<text x="649.2" y="1085.8" font-family='"Liberation Sans", sans-serif' font-size="17.9" fill="#111" textLength="102.5" lengthAdjust="spacingAndGlyphs">CSN_Pre_1</text>
<text x="649.2" y="1114.8" font-family='"Liberation Sans", sans-serif' font-size="17.9" fill="#111" textLength="104.0" lengthAdjust="spacingAndGlyphs">CSN_Pre_2</text>
<defs><linearGradient id="cbC" x1="0" y1="0" x2="0" y2="1"><stop offset="0" stop-color="rgb(66,16,200)"/><stop offset="0.06" stop-color="rgb(66,16,200)"/><stop offset="0.27" stop-color="rgb(150,110,220)"/><stop offset="0.5" stop-color="rgb(255,255,255)"/><stop offset="0.73" stop-color="rgb(110,160,100)"/><stop offset="0.94" stop-color="rgb(34,100,23)"/><stop offset="1" stop-color="rgb(34,100,23)"/></linearGradient></defs>
<rect x="777.4" y="1024.4" width="20.3" height="98.0" fill="url(#cbC)"/>
<line x1="777.4" y1="1028.1" x2="781.4" y2="1028.1" stroke="#fff" stroke-width="0.8" opacity="0.85"/>
<line x1="793.7" y1="1028.1" x2="797.7" y2="1028.1" stroke="#fff" stroke-width="0.8" opacity="0.85"/>
<text x="801.4" y="1033.4" font-family='"Liberation Sans", sans-serif' font-size="14.2" fill="#111">2</text>
<line x1="777.4" y1="1050.2" x2="781.4" y2="1050.2" stroke="#fff" stroke-width="0.8" opacity="0.85"/>
<line x1="793.7" y1="1050.2" x2="797.7" y2="1050.2" stroke="#fff" stroke-width="0.8" opacity="0.85"/>
<text x="801.4" y="1055.5" font-family='"Liberation Sans", sans-serif' font-size="14.2" fill="#111">1</text>
<text x="801.4" y="1080.0" font-family='"Liberation Sans", sans-serif' font-size="14.2" fill="#111">0</text>
<line x1="777.4" y1="1095.9" x2="781.4" y2="1095.9" stroke="#fff" stroke-width="0.8" opacity="0.85"/>
<line x1="793.7" y1="1095.9" x2="797.7" y2="1095.9" stroke="#fff" stroke-width="0.8" opacity="0.85"/>
<text x="801.4" y="1101.2" font-family='"Liberation Sans", sans-serif' font-size="14.2" fill="#111">−1</text>
<line x1="777.4" y1="1119.0" x2="781.4" y2="1119.0" stroke="#fff" stroke-width="0.8" opacity="0.85"/>
<line x1="793.7" y1="1119.0" x2="797.7" y2="1119.0" stroke="#fff" stroke-width="0.8" opacity="0.85"/>
<text x="801.4" y="1124.3" font-family='"Liberation Sans", sans-serif' font-size="14.2" fill="#111">−2</text>
<g font-family='"Liberation Sans", sans-serif' font-size="4.9" fill="#1c1c1c">
<text transform="translate(883.4,1241.1) rotate(1.0)" y="1.3" textLength="92" lengthAdjust="spacingAndGlyphs">N.mycdownstream.regulatedgene1protein</text>
<text transform="translate(883.1,1250.9) rotate(2.9)" y="1.3" textLength="37" lengthAdjust="spacingAndGlyphs">ApolipoproteinA.I</text>
<text transform="translate(882.4,1260.7) rotate(4.8)" y="1.3" textLength="72" lengthAdjust="spacingAndGlyphs">Leucinerichalpha.2.glycoprotein1</text>
<text transform="translate(881.4,1270.5) rotate(6.7)" y="1.3" textLength="24" lengthAdjust="spacingAndGlyphs">SerpinA3.5</text>
<text transform="translate(880.0,1280.2) rotate(8.6)" y="1.3" textLength="53" lengthAdjust="spacingAndGlyphs">Uncharacterizedprotein.1</text>
<text transform="translate(878.3,1289.9) rotate(10.6)" y="1.3" textLength="72" lengthAdjust="spacingAndGlyphs">SERPINdomain.containingprotein</text>
<text transform="translate(876.3,1299.5) rotate(12.5)" y="1.3" textLength="56" lengthAdjust="spacingAndGlyphs">Galectin.3.bindingprotein</text>
<text transform="translate(873.9,1309.1) rotate(14.4)" y="1.3" textLength="28" lengthAdjust="spacingAndGlyphs">SerpinA3.7.2</text>
<text transform="translate(871.2,1318.5) rotate(16.3)" y="1.3" textLength="36" lengthAdjust="spacingAndGlyphs">Stromalantigen2</text>
<text transform="translate(868.1,1327.9) rotate(18.2)" y="1.3" textLength="66" lengthAdjust="spacingAndGlyphs">EFhandcalcium.bindingprotein</text>
<text transform="translate(864.8,1337.2) rotate(20.2)" y="1.3" textLength="35" lengthAdjust="spacingAndGlyphs">CD5moleculelike</text>
<text transform="translate(861.1,1346.3) rotate(22.1)" y="1.3" textLength="22" lengthAdjust="spacingAndGlyphs">Clusterin.2</text>
<text transform="translate(857.1,1355.3) rotate(24.0)" y="1.3" textLength="53" lengthAdjust="spacingAndGlyphs">Uncharacterizedprotein.4</text>
<text transform="translate(852.8,1364.2) rotate(26.0)" y="1.3" textLength="17" lengthAdjust="spacingAndGlyphs">Mucin.15</text>
<text transform="translate(848.2,1372.9) rotate(27.9)" y="1.3" textLength="93" lengthAdjust="spacingAndGlyphs">Transforminggrowthfactorbetareceptor3</text>
<text transform="translate(843.3,1381.5) rotate(29.8)" y="1.3" textLength="33" lengthAdjust="spacingAndGlyphs">ProcathepsinL</text>
<text transform="translate(838.1,1389.9) rotate(31.8)" y="1.3" textLength="24" lengthAdjust="spacingAndGlyphs">Gc.globulin</text>
<text transform="translate(832.6,1398.1) rotate(33.7)" y="1.3" textLength="27" lengthAdjust="spacingAndGlyphs">ProteinOS.9</text>
<text transform="translate(826.8,1406.1) rotate(35.7)" y="1.3" textLength="22" lengthAdjust="spacingAndGlyphs">Clusterin.1</text>
<text transform="translate(820.8,1413.9) rotate(37.6)" y="1.3" textLength="54" lengthAdjust="spacingAndGlyphs">Uncharacterizedprotein.2</text>
<text transform="translate(814.4,1421.5) rotate(39.6)" y="1.3" textLength="70" lengthAdjust="spacingAndGlyphs">Signalpeptidecomplexsubunit3</text>
<text transform="translate(807.9,1429.0) rotate(41.5)" y="1.3" textLength="62" lengthAdjust="spacingAndGlyphs">VitaminK.dependentproteinS</text>
<text transform="translate(801.0,1436.1) rotate(43.5)" y="1.3" textLength="69" lengthAdjust="spacingAndGlyphs">RAB1A.memberRASoncofamily</text>
<text transform="translate(793.9,1443.1) rotate(45.4)" y="1.3" textLength="24" lengthAdjust="spacingAndGlyphs">Calbindin</text>
<text transform="translate(786.6,1449.8) rotate(47.4)" y="1.3" textLength="65" lengthAdjust="spacingAndGlyphs">NucleotideexchangefactorSIL1</text>
<text transform="translate(779.1,1456.2) rotate(49.3)" y="1.3" textLength="98" lengthAdjust="spacingAndGlyphs">Adipocyteplasmamembrane.associatedprotein</text>
<text transform="translate(771.3,1462.4) rotate(51.3)" y="1.3" textLength="64" lengthAdjust="spacingAndGlyphs">Ca2.bindingproteinregucalcin</text>
<text transform="translate(763.3,1468.4) rotate(53.3)" y="1.3" textLength="18" lengthAdjust="spacingAndGlyphs">Biglycan</text>
<text transform="translate(755.1,1474.0) rotate(55.2)" y="1.3" textLength="70" lengthAdjust="spacingAndGlyphs">Ig.likedomain.containingprotein.1</text>
<text transform="translate(746.7,1479.4) rotate(57.2)" y="1.3" textLength="23" lengthAdjust="spacingAndGlyphs">CathepsinB</text>
<text transform="translate(738.2,1484.5) rotate(59.2)" y="1.3" textLength="30" lengthAdjust="spacingAndGlyphs">Peroxiredoxin</text>
<text transform="translate(729.4,1489.3) rotate(61.2)" y="1.3" textLength="56" lengthAdjust="spacingAndGlyphs">PolymericIgreceptor</text>
<text transform="translate(720.5,1493.9) rotate(63.1)" y="1.3" textLength="52" lengthAdjust="spacingAndGlyphs">Uncharacterizedprotein.3</text>
<text transform="translate(711.5,1498.1) rotate(65.1)" y="1.3" textLength="30" lengthAdjust="spacingAndGlyphs">Serotransferrin</text>
<text transform="translate(702.3,1502.0) rotate(67.1)" y="1.3" textLength="24" lengthAdjust="spacingAndGlyphs">Hemopexin</text>
<text transform="translate(693.0,1505.6) rotate(69.1)" y="1.3" textLength="96" lengthAdjust="spacingAndGlyphs">Alpha.2.HS.glycoproteinprecursorvariant</text>
<text transform="translate(683.5,1508.9) rotate(71.1)" y="1.3" textLength="38" lengthAdjust="spacingAndGlyphs">Nucleobindin.2</text>
<text transform="translate(674.0,1511.9) rotate(73.1)" y="1.3" textLength="99" lengthAdjust="spacingAndGlyphs">Glycosylation.dependentcelladhesionmolecule1</text>
<text transform="translate(664.3,1514.5) rotate(75.0)" y="1.3" textLength="25" lengthAdjust="spacingAndGlyphs">Dystroglycan</text>
<text transform="translate(654.6,1516.8) rotate(77.0)" y="1.3" textLength="49" lengthAdjust="spacingAndGlyphs">Ribonucleasepancreatic</text>
<text transform="translate(644.8,1518.8) rotate(79.0)" y="1.3" textLength="36" lengthAdjust="spacingAndGlyphs">Cartilageprotein</text>
<text transform="translate(634.9,1520.5) rotate(81.0)" y="1.3" textLength="26" lengthAdjust="spacingAndGlyphs">CD9antigen</text>
<text transform="translate(625.0,1521.8) rotate(83.0)" y="1.3" textLength="36" lengthAdjust="spacingAndGlyphs">ProteinS100.A8</text>
<text transform="translate(615.0,1522.9) rotate(85.0)" y="1.3" textLength="86" lengthAdjust="spacingAndGlyphs">Beta.2.microglobulinpolypeptide1</text>
<text transform="translate(605.0,1523.5) rotate(87.0)" y="1.3" textLength="117" lengthAdjust="spacingAndGlyphs">Leucine.richrepeat.containingGprotein.coupledreceptor6</text>
<text transform="translate(595.0,1523.9) rotate(89.0)" y="1.3" textLength="26" lengthAdjust="spacingAndGlyphs">Osteopontin</text>
<text transform="translate(585.0,1523.9) rotate(271.0)" y="1.3" text-anchor="end" textLength="28" lengthAdjust="spacingAndGlyphs">Kappa.casein</text>
<text transform="translate(575.0,1523.5) rotate(273.0)" y="1.3" text-anchor="end" textLength="49" lengthAdjust="spacingAndGlyphs">PeptidaseM20domain</text>
<text transform="translate(565.0,1522.9) rotate(275.0)" y="1.3" text-anchor="end" textLength="107" lengthAdjust="spacingAndGlyphs">SRCRdomain.containingglycoproteinreceptor1</text>
<text transform="translate(555.0,1521.8) rotate(277.0)" y="1.3" text-anchor="end" textLength="48" lengthAdjust="spacingAndGlyphs">Sulfhydryloxidase1</text>
<text transform="translate(545.1,1520.5) rotate(279.0)" y="1.3" text-anchor="end" textLength="50" lengthAdjust="spacingAndGlyphs">ProteinLMBR1.2homolog</text>
<text transform="translate(535.2,1518.8) rotate(281.0)" y="1.3" text-anchor="end" textLength="21" lengthAdjust="spacingAndGlyphs">Cystatin.6</text>
<text transform="translate(525.4,1516.8) rotate(283.0)" y="1.3" text-anchor="end" textLength="30" lengthAdjust="spacingAndGlyphs">Nucleobindin</text>
<text transform="translate(515.7,1514.5) rotate(285.0)" y="1.3" text-anchor="end" textLength="30" lengthAdjust="spacingAndGlyphs">Nucleobindin.1</text>
<text transform="translate(506.0,1511.9) rotate(286.9)" y="1.3" text-anchor="end" textLength="74" lengthAdjust="spacingAndGlyphs">Parathyroidhormone.relatedprotein</text>
<text transform="translate(496.5,1508.9) rotate(288.9)" y="1.3" text-anchor="end" textLength="53" lengthAdjust="spacingAndGlyphs">Zinc.alpha.2.glycoprotein</text>
<text transform="translate(487.0,1505.6) rotate(290.9)" y="1.3" text-anchor="end" textLength="32" lengthAdjust="spacingAndGlyphs">Alpha.S2.casein</text>
<text transform="translate(477.7,1502.0) rotate(292.9)" y="1.3" text-anchor="end" textLength="27" lengthAdjust="spacingAndGlyphs">ProteinAMBP.2</text>
<text transform="translate(468.5,1498.1) rotate(294.9)" y="1.3" text-anchor="end" textLength="57" lengthAdjust="spacingAndGlyphs">EGFcontainingprotein1G5A</text>
<text transform="translate(459.5,1493.9) rotate(296.9)" y="1.3" text-anchor="end" textLength="80" lengthAdjust="spacingAndGlyphs">Chargedmultivesicularbodyprotein2B</text>
<text transform="translate(450.6,1489.3) rotate(298.8)" y="1.3" text-anchor="end" textLength="57" lengthAdjust="spacingAndGlyphs">Heatshock70kDaprotein1A</text>
<text transform="translate(441.8,1484.5) rotate(300.8)" y="1.3" text-anchor="end" textLength="55" lengthAdjust="spacingAndGlyphs">Uncharacterizedprotein.6</text>
<text transform="translate(433.3,1479.4) rotate(302.8)" y="1.3" text-anchor="end" textLength="72" lengthAdjust="spacingAndGlyphs">Fructose.bisphosphatealdolase.2</text>
<text transform="translate(424.9,1474.0) rotate(304.8)" y="1.3" text-anchor="end" textLength="23" lengthAdjust="spacingAndGlyphs">AnnexinA1</text>
<text transform="translate(416.7,1468.4) rotate(306.7)" y="1.3" text-anchor="end" textLength="121" lengthAdjust="spacingAndGlyphs">Solutecarrierfamily29.Nucleosidetransporters..member1</text>
<text transform="translate(408.7,1462.4) rotate(308.7)" y="1.3" text-anchor="end" textLength="103" lengthAdjust="spacingAndGlyphs">DnaJheatshockproteinfamily.Hsp40.memberB6</text>
<text transform="translate(400.9,1456.2) rotate(310.7)" y="1.3" text-anchor="end" textLength="30" lengthAdjust="spacingAndGlyphs">Angiogenin.1</text>
<text transform="translate(393.4,1449.8) rotate(312.6)" y="1.3" text-anchor="end" textLength="143" lengthAdjust="spacingAndGlyphs">Guaninenucleotide.bindingproteinG.I..G.S..G.O.subunitgamma.12</text>
<text transform="translate(386.1,1443.1) rotate(314.6)" y="1.3" text-anchor="end" textLength="18" lengthAdjust="spacingAndGlyphs">Cofilin.1</text>
<text transform="translate(379.0,1436.1) rotate(316.5)" y="1.3" text-anchor="end" textLength="21" lengthAdjust="spacingAndGlyphs">Keratin80</text>
<text transform="translate(372.1,1429.0) rotate(318.5)" y="1.3" text-anchor="end" textLength="60" lengthAdjust="spacingAndGlyphs">Keratin.typeIIcytoskeletal73</text>
<text transform="translate(365.6,1421.5) rotate(320.4)" y="1.3" text-anchor="end" textLength="21" lengthAdjust="spacingAndGlyphs">Keratin18</text>
<text transform="translate(359.2,1413.9) rotate(322.4)" y="1.3" text-anchor="end" textLength="28" lengthAdjust="spacingAndGlyphs">Cytokeratin.1</text>
<text transform="translate(353.2,1406.1) rotate(324.3)" y="1.3" text-anchor="end" textLength="68" lengthAdjust="spacingAndGlyphs">ComplementC3c.alphachain</text>
<text transform="translate(347.4,1398.1) rotate(326.3)" y="1.3" text-anchor="end" textLength="57" lengthAdjust="spacingAndGlyphs">Keratin.typeIcytoskeletal14</text>
<text transform="translate(341.9,1389.9) rotate(328.2)" y="1.3" text-anchor="end" textLength="130" lengthAdjust="spacingAndGlyphs">Epidermalgrowthfactorreceptorkinasesubstrate8.likeprotein</text>
<text transform="translate(336.7,1381.5) rotate(330.2)" y="1.3" text-anchor="end" textLength="57" lengthAdjust="spacingAndGlyphs">Keratin.typeIIcytoskeletal75</text>
<text transform="translate(331.8,1372.9) rotate(332.1)" y="1.3" text-anchor="end" textLength="48" lengthAdjust="spacingAndGlyphs">HemoglobinsubunitAlpha</text>
<text transform="translate(327.2,1364.2) rotate(334.0)" y="1.3" text-anchor="end" textLength="17" lengthAdjust="spacingAndGlyphs">Keratin3</text>
<text transform="translate(322.9,1355.3) rotate(336.0)" y="1.3" text-anchor="end" textLength="54" lengthAdjust="spacingAndGlyphs">Keratin.typeIIcytoskeletal5</text>
<text transform="translate(318.9,1346.3) rotate(337.9)" y="1.3" text-anchor="end" textLength="120" lengthAdjust="spacingAndGlyphs">FAM20Agolgiassociatedsecretorypathwaypseudokinase</text>
<text transform="translate(315.2,1337.2) rotate(339.8)" y="1.3" text-anchor="end" textLength="22" lengthAdjust="spacingAndGlyphs">HistoneH1</text>
<text transform="translate(311.9,1327.9) rotate(341.8)" y="1.3" text-anchor="end" textLength="39" lengthAdjust="spacingAndGlyphs">Beta.lactoglobulin</text>
<text transform="translate(308.8,1318.5) rotate(343.7)" y="1.3" text-anchor="end" textLength="49" lengthAdjust="spacingAndGlyphs">Cannabinoidreceptor2</text>
<text transform="translate(306.1,1309.1) rotate(345.6)" y="1.3" text-anchor="end" textLength="28" lengthAdjust="spacingAndGlyphs">HistoneH3.3</text>
<text transform="translate(303.7,1299.5) rotate(347.5)" y="1.3" text-anchor="end" textLength="64" lengthAdjust="spacingAndGlyphs">SolutecarrierfamilyTmember4</text>
<text transform="translate(301.7,1289.9) rotate(349.4)" y="1.3" text-anchor="end" textLength="51" lengthAdjust="spacingAndGlyphs">Glycoproteinsubunitalpha3</text>
<text transform="translate(300.0,1280.2) rotate(351.4)" y="1.3" text-anchor="end" textLength="83" lengthAdjust="spacingAndGlyphs">Cellularcommunicationnetworkfactor1</text>
<text transform="translate(298.6,1270.5) rotate(353.3)" y="1.3" text-anchor="end" textLength="43" lengthAdjust="spacingAndGlyphs">HistoneH2Atype2.C</text>
<text transform="translate(297.6,1260.7) rotate(355.2)" y="1.3" text-anchor="end" textLength="29" lengthAdjust="spacingAndGlyphs">Cathelicidin.7</text>
<text transform="translate(296.9,1250.9) rotate(357.1)" y="1.3" text-anchor="end" textLength="40" lengthAdjust="spacingAndGlyphs">Alpha.S1.casein.2</text>
<text transform="translate(296.6,1241.1) rotate(359.0)" y="1.3" text-anchor="end" textLength="18.5" lengthAdjust="spacingAndGlyphs">Granulin</text>
<text transform="translate(296.6,1231.3) rotate(1.0)" y="1.3" text-anchor="end" textLength="47" lengthAdjust="spacingAndGlyphs">Galactosemutarotase</text>
<text transform="translate(296.9,1221.5) rotate(2.9)" y="1.3" text-anchor="end" textLength="40" lengthAdjust="spacingAndGlyphs">Alpha.S1.casein.1</text>
<text transform="translate(297.6,1211.7) rotate(4.8)" y="1.3" text-anchor="end" textLength="40" lengthAdjust="spacingAndGlyphs">Alpha.S1.casein.3</text>
<text transform="translate(298.6,1201.9) rotate(6.7)" y="1.3" text-anchor="end" textLength="72" lengthAdjust="spacingAndGlyphs">H1.4linkerhistone.clustermember</text>
<text transform="translate(300.0,1192.2) rotate(8.6)" y="1.3" text-anchor="end" textLength="25" lengthAdjust="spacingAndGlyphs">Beta.casein</text>
<text transform="translate(301.7,1182.5) rotate(10.6)" y="1.3" text-anchor="end" textLength="22" lengthAdjust="spacingAndGlyphs">HistoneH4</text>
<text transform="translate(303.7,1172.9) rotate(12.5)" y="1.3" text-anchor="end" textLength="58" lengthAdjust="spacingAndGlyphs">Heatshock70kDaprotein1.3</text>
<text transform="translate(306.1,1163.3) rotate(14.4)" y="1.3" text-anchor="end" textLength="100" lengthAdjust="spacingAndGlyphs">Na...H..exchangeregulatorycofactorNHE.RF1</text>
<text transform="translate(308.8,1153.9) rotate(16.3)" y="1.3" text-anchor="end" textLength="46" lengthAdjust="spacingAndGlyphs">Vesicle.fusingATPase</text>
<text transform="translate(311.9,1144.5) rotate(18.2)" y="1.3" text-anchor="end" textLength="65" lengthAdjust="spacingAndGlyphs">Plasmaserineproteaseinhibitor</text>
<text transform="translate(315.2,1135.2) rotate(20.2)" y="1.3" text-anchor="end" textLength="51" lengthAdjust="spacingAndGlyphs">Lactotransferringamma.1</text>
<text transform="translate(318.9,1126.1) rotate(22.1)" y="1.3" text-anchor="end" textLength="70" lengthAdjust="spacingAndGlyphs">Cytosolicnon.specificdipeptidase</text>
<text transform="translate(322.9,1117.1) rotate(24.0)" y="1.3" text-anchor="end" textLength="24" lengthAdjust="spacingAndGlyphs">Heparanase</text>
<text transform="translate(327.2,1108.2) rotate(26.0)" y="1.3" text-anchor="end" textLength="70" lengthAdjust="spacingAndGlyphs">Ig.likedomain.containingprotein.2</text>
<text transform="translate(331.8,1099.5) rotate(27.9)" y="1.3" text-anchor="end" textLength="74" lengthAdjust="spacingAndGlyphs">Peptidyl.prolylcis.transisomeraseB</text>
<text transform="translate(336.7,1090.9) rotate(29.8)" y="1.3" text-anchor="end" textLength="64" lengthAdjust="spacingAndGlyphs">Multivesicularbodysubunit12A</text>
<text transform="translate(341.9,1082.5) rotate(31.8)" y="1.3" text-anchor="end" textLength="25" lengthAdjust="spacingAndGlyphs">Kininogen.1</text>
<text transform="translate(347.4,1074.3) rotate(33.7)" y="1.3" text-anchor="end" textLength="17" lengthAdjust="spacingAndGlyphs">Annexin</text>
<text transform="translate(353.2,1066.3) rotate(35.7)" y="1.3" text-anchor="end" textLength="29" lengthAdjust="spacingAndGlyphs">ProteinAMBP</text>
<text transform="translate(359.2,1058.5) rotate(37.6)" y="1.3" text-anchor="end" textLength="45" lengthAdjust="spacingAndGlyphs">ComplementfactorB</text>
<text transform="translate(365.6,1050.9) rotate(39.6)" y="1.3" text-anchor="end" textLength="55" lengthAdjust="spacingAndGlyphs">Uncharacterizedprotein.5</text>
<text transform="translate(372.1,1043.4) rotate(41.5)" y="1.3" text-anchor="end" textLength="134" lengthAdjust="spacingAndGlyphs">Hexose.6.phosphatedehydrogenase.glucose1.dehydrogenase</text>
<text transform="translate(379.0,1036.3) rotate(43.5)" y="1.3" text-anchor="end" textLength="24" lengthAdjust="spacingAndGlyphs">Syntenin.1</text>
<text transform="translate(386.1,1029.3) rotate(45.4)" y="1.3" text-anchor="end" textLength="77" lengthAdjust="spacingAndGlyphs">Butyrophilinsubfamily1memberA1.1</text>
<text transform="translate(393.4,1022.6) rotate(47.4)" y="1.3" text-anchor="end" textLength="77" lengthAdjust="spacingAndGlyphs">Butyrophilinsubfamily1memberA1.2</text>
<text transform="translate(400.9,1016.2) rotate(49.3)" y="1.3" text-anchor="end" textLength="36" lengthAdjust="spacingAndGlyphs">Tubulinbetachain</text>
<text transform="translate(408.7,1010.0) rotate(51.3)" y="1.3" text-anchor="end" textLength="77" lengthAdjust="spacingAndGlyphs">Calcium.dependentsecretion.bindingprotein1</text>
<text transform="translate(416.7,1004.0) rotate(53.3)" y="1.3" text-anchor="end" textLength="28" lengthAdjust="spacingAndGlyphs">SerpinA3.7.1</text>
<text transform="translate(424.9,998.4) rotate(55.2)" y="1.3" text-anchor="end" textLength="60" lengthAdjust="spacingAndGlyphs">Immunoglobulinlambda.likepolypeptide</text>
<text transform="translate(433.3,993.0) rotate(57.2)" y="1.3" text-anchor="end" textLength="69" lengthAdjust="spacingAndGlyphs">Pyruvatecarboxylasemitochondrial</text>
<text transform="translate(441.8,987.9) rotate(59.2)" y="1.3" text-anchor="end" textLength="17" lengthAdjust="spacingAndGlyphs">Fetuin.B</text>
<text transform="translate(450.6,983.1) rotate(61.2)" y="1.3" text-anchor="end" textLength="104" lengthAdjust="spacingAndGlyphs">Guaninenucleotide.bindingproteinsubunitbeta.1</text>
<text transform="translate(459.5,978.5) rotate(63.1)" y="1.3" text-anchor="end" textLength="42" lengthAdjust="spacingAndGlyphs">Beta.glucuronidase</text>
<text transform="translate(468.5,974.3) rotate(65.1)" y="1.3" text-anchor="end" textLength="56" lengthAdjust="spacingAndGlyphs">Heparin.bindingprotein</text>
<text transform="translate(477.7,970.4) rotate(67.1)" y="1.3" text-anchor="end" textLength="25" lengthAdjust="spacingAndGlyphs">Kininogen.2</text>
<text transform="translate(487.0,966.8) rotate(69.1)" y="1.3" text-anchor="end" textLength="100" lengthAdjust="spacingAndGlyphs">Lysozyme_FAM_domain.containingprotein.1</text>
<text transform="translate(496.5,963.5) rotate(71.1)" y="1.3" text-anchor="end" textLength="20" lengthAdjust="spacingAndGlyphs">Syndecan</text>
<text transform="translate(506.0,960.5) rotate(73.1)" y="1.3" text-anchor="end" textLength="77" lengthAdjust="spacingAndGlyphs">Tryptophan.tRNAligase.cytoplasmic</text>
<text transform="translate(515.7,957.9) rotate(75.0)" y="1.3" text-anchor="end" textLength="70" lengthAdjust="spacingAndGlyphs">Fructose.bisphosphatealdolase.1</text>
<text transform="translate(525.4,955.6) rotate(77.0)" y="1.3" text-anchor="end" textLength="74" lengthAdjust="spacingAndGlyphs">Factin.cappingproteinsubunitalpha</text>
<text transform="translate(535.2,953.6) rotate(79.0)" y="1.3" text-anchor="end" textLength="58" lengthAdjust="spacingAndGlyphs">ComplementC4.fragment</text>
<text transform="translate(545.1,951.9) rotate(81.0)" y="1.3" text-anchor="end" textLength="41" lengthAdjust="spacingAndGlyphs">ComplementfactorI</text>
<text transform="translate(555.0,950.6) rotate(83.0)" y="1.3" text-anchor="end" textLength="70" lengthAdjust="spacingAndGlyphs">UDP.glucose6.dehydrogenase</text>
<text transform="translate(565.0,949.5) rotate(85.0)" y="1.3" text-anchor="end" textLength="59" lengthAdjust="spacingAndGlyphs">Fc.fragmentofIgGbindingprotein</text>
<text transform="translate(575.0,948.9) rotate(87.0)" y="1.3" text-anchor="end" textLength="68" lengthAdjust="spacingAndGlyphs">N.alpha.acetyltransferase15auxiliary</text>
<text transform="translate(585.0,948.5) rotate(89.0)" y="1.3" text-anchor="end" textLength="57" lengthAdjust="spacingAndGlyphs">ComplementcomponentC9</text>
</g>
<text x="21.0" y="881.0" font-family='"Liberation Serif", serif' font-size="71" fill="#000">C</text>
</g>
<g id="panelD">
<line x1="1187.6" y1="842.9" x2="2356.0" y2="842.9" stroke="#cfcfcf" stroke-width="0.9" stroke-dasharray="1.2 2.2"/>
<circle cx="2358.2" cy="833.5" r="0.8" fill="#222"/><circle cx="2358.2" cy="878.2" r="0.8" fill="#444"/>
<line x1="1187.6" y1="842.9" x2="1187.6" y2="1635.0" stroke="#cfcfcf" stroke-width="0.9" stroke-dasharray="1.2 2.2"/>
<line x1="1441.3" y1="853.0" x2="1441.3" y2="1517.8" stroke="#e9e9e9" stroke-width="1.6"/>
<line x1="1578.6" y1="853.0" x2="1578.6" y2="1517.8" stroke="#e9e9e9" stroke-width="1.6"/>
<line x1="1716.0" y1="853.0" x2="1716.0" y2="1517.8" stroke="#e9e9e9" stroke-width="1.6"/>
<line x1="1853.3" y1="853.0" x2="1853.3" y2="1517.8" stroke="#e9e9e9" stroke-width="1.6"/>
<line x1="1990.7" y1="853.0" x2="1990.7" y2="1517.8" stroke="#e9e9e9" stroke-width="1.6"/>
<line x1="2128.1" y1="853.0" x2="2128.1" y2="1517.8" stroke="#e9e9e9" stroke-width="1.6"/>
<line x1="1359.6" y1="907.9" x2="2210.0" y2="907.9" stroke="#e9e9e9" stroke-width="1.6"/>
<line x1="1359.6" y1="1000.4" x2="2210.0" y2="1000.4" stroke="#e9e9e9" stroke-width="1.6"/>
<line x1="1359.6" y1="1092.9" x2="2210.0" y2="1092.9" stroke="#e9e9e9" stroke-width="1.6"/>
<line x1="1359.6" y1="1185.4" x2="2210.0" y2="1185.4" stroke="#e9e9e9" stroke-width="1.6"/>
<line x1="1359.6" y1="1277.9" x2="2210.0" y2="1277.9" stroke="#e9e9e9" stroke-width="1.6"/>
<line x1="1359.6" y1="1370.4" x2="2210.0" y2="1370.4" stroke="#e9e9e9" stroke-width="1.6"/>
<line x1="1359.6" y1="1462.9" x2="2210.0" y2="1462.9" stroke="#e9e9e9" stroke-width="1.6"/>
<circle cx="1441.3" cy="907.9" r="8.50" fill="rgb(167, 79, 191)"/>
<circle cx="1578.6" cy="907.9" r="8.15" fill="rgb(158, 82, 200)"/>
<circle cx="1716.0" cy="907.9" r="8.50" fill="rgb(167, 79, 191)"/>
<circle cx="1853.3" cy="907.9" r="7.65" fill="rgb(146, 86, 212)"/>
<circle cx="1990.7" cy="907.9" r="5.15" fill="rgb(78, 105, 243)"/>
<circle cx="2128.1" cy="907.9" r="5.00" fill="rgb(76, 105, 244)"/>
<circle cx="1441.3" cy="1000.4" r="10.90" fill="rgb(226, 53, 90)"/>
<circle cx="1578.6" cy="1000.4" r="10.90" fill="rgb(226, 53, 90)"/>
<circle cx="1716.0" cy="1000.4" r="9.60" fill="rgb(196, 67, 147)"/>
<circle cx="1853.3" cy="1000.4" r="10.10" fill="rgb(208, 61, 125)"/>
<circle cx="1990.7" cy="1000.4" r="8.30" fill="rgb(162, 80, 196)"/>
<circle cx="2128.1" cy="1000.4" r="8.00" fill="rgb(154, 83, 204)"/>
<circle cx="1441.3" cy="1092.9" r="3.50" fill="rgb(67, 106, 246)"/>
<circle cx="1578.6" cy="1092.9" r="3.30" fill="rgb(67, 106, 246)"/>
<circle cx="1716.0" cy="1092.9" r="5.50" fill="rgb(81, 104, 243)"/>
<circle cx="1853.3" cy="1092.9" r="5.00" fill="rgb(76, 105, 244)"/>
<circle cx="1990.7" cy="1092.9" r="3.50" fill="rgb(67, 106, 246)"/>
<circle cx="2128.1" cy="1092.9" r="3.30" fill="rgb(67, 106, 246)"/>
<circle cx="1441.3" cy="1185.4" r="7.50" fill="rgb(142, 87, 216)"/>
<circle cx="1578.6" cy="1185.4" r="7.50" fill="rgb(142, 87, 216)"/>
<circle cx="1716.0" cy="1185.4" r="8.50" fill="rgb(167, 79, 191)"/>
<circle cx="1853.3" cy="1185.4" r="8.80" fill="rgb(174, 76, 179)"/>
<circle cx="1990.7" cy="1185.4" r="6.80" fill="rgb(118, 94, 228)"/>
<circle cx="2128.1" cy="1185.4" r="6.60" fill="rgb(111, 96, 231)"/>
<circle cx="1441.3" cy="1277.9" r="5.30" fill="rgb(79, 105, 243)"/>
<circle cx="1578.6" cy="1277.9" r="5.10" fill="rgb(77, 105, 244)"/>
<circle cx="1716.0" cy="1277.9" r="3.40" fill="rgb(67, 106, 246)"/>
<circle cx="1853.3" cy="1277.9" r="3.30" fill="rgb(67, 106, 246)"/>
<circle cx="1990.7" cy="1277.9" r="3.10" fill="rgb(66, 106, 246)"/>
<circle cx="2128.1" cy="1277.9" r="2.90" fill="rgb(66, 106, 246)"/>
<circle cx="1441.3" cy="1370.4" r="7.10" fill="rgb(130, 90, 223)"/>
<circle cx="1578.6" cy="1370.4" r="7.00" fill="rgb(126, 92, 225)"/>
<circle cx="1716.0" cy="1370.4" r="8.10" fill="rgb(156, 82, 202)"/>
<circle cx="1853.3" cy="1370.4" r="7.80" fill="rgb(149, 84, 209)"/>
<circle cx="1990.7" cy="1370.4" r="12.60" fill="rgb(253, 39, 29)"/>
<circle cx="2128.1" cy="1370.4" r="12.60" fill="rgb(253, 39, 29)"/>
<circle cx="1441.3" cy="1462.9" r="4.20" fill="rgb(70, 106, 245)"/>
<circle cx="1578.6" cy="1462.9" r="4.00" fill="rgb(69, 106, 245)"/>
<circle cx="1716.0" cy="1462.9" r="5.00" fill="rgb(76, 105, 244)"/>
<circle cx="1853.3" cy="1462.9" r="4.50" fill="rgb(72, 105, 245)"/>
<circle cx="1990.7" cy="1462.9" r="3.70" fill="rgb(68, 106, 246)"/>
<circle cx="2128.1" cy="1462.9" r="3.70" fill="rgb(68, 106, 246)"/>
<rect x="1359.6" y="853.0" width="850.4" height="664.8" fill="none" stroke="#595959" stroke-width="1.8"/>
<line x1="1354.0" y1="907.9" x2="1359.6" y2="907.9" stroke="#333" stroke-width="1.6"/>
<text x="1240.7" y="913.9" font-family='"Liberation Sans", sans-serif' font-size="16.4" fill="#4d4d4d" textLength="109.3" lengthAdjust="spacingAndGlyphs" stroke="#4d4d4d" stroke-width="0.3">Lactotransferrin</text>
<rect x="1234.4" y="897.3" width="121.8" height="21.9" fill="none" stroke="#cfcfcf" stroke-width="0.9" stroke-dasharray="1.2 2.2"/>
<line x1="1354.0" y1="1000.4" x2="1359.6" y2="1000.4" stroke="#333" stroke-width="1.6"/>
<text x="1249.5" y="1006.4" font-family='"Liberation Sans", sans-serif' font-size="16.4" fill="#4d4d4d" textLength="100.5" lengthAdjust="spacingAndGlyphs" stroke="#4d4d4d" stroke-width="0.3">Kappa−casein</text>
<rect x="1243.2" y="989.8" width="113.0" height="21.9" fill="none" stroke="#cfcfcf" stroke-width="0.9" stroke-dasharray="1.2 2.2"/>
<line x1="1354.0" y1="1092.9" x2="1359.6" y2="1092.9" stroke="#333" stroke-width="1.6"/>
<text x="1220.5" y="1098.9" font-family='"Liberation Sans", sans-serif' font-size="16.4" fill="#4d4d4d" textLength="129.5" lengthAdjust="spacingAndGlyphs" stroke="#4d4d4d" stroke-width="0.3">Beta−lactoglobulin</text>
<rect x="1214.2" y="1082.3" width="142.0" height="21.9" fill="none" stroke="#cfcfcf" stroke-width="0.9" stroke-dasharray="1.2 2.2"/>
<line x1="1354.0" y1="1185.4" x2="1359.6" y2="1185.4" stroke="#333" stroke-width="1.6"/>
<text x="1262.5" y="1191.4" font-family='"Liberation Sans", sans-serif' font-size="16.4" fill="#4d4d4d" textLength="87.5" lengthAdjust="spacingAndGlyphs" stroke="#4d4d4d" stroke-width="0.3">Beta−casein</text>
<rect x="1256.2" y="1174.8" width="100.0" height="21.9" fill="none" stroke="#cfcfcf" stroke-width="0.9" stroke-dasharray="1.2 2.2"/>
<line x1="1354.0" y1="1277.9" x2="1359.6" y2="1277.9" stroke="#333" stroke-width="1.6"/>
<text x="1220.5" y="1283.9" font-family='"Liberation Sans", sans-serif' font-size="16.4" fill="#4d4d4d" textLength="129.5" lengthAdjust="spacingAndGlyphs" stroke="#4d4d4d" stroke-width="0.3">Alpha−lactalbumin</text>
<rect x="1214.2" y="1267.3" width="142.0" height="21.9" fill="none" stroke="#cfcfcf" stroke-width="0.9" stroke-dasharray="1.2 2.2"/>
<line x1="1354.0" y1="1370.4" x2="1359.6" y2="1370.4" stroke="#333" stroke-width="1.6"/>
<text x="1225.0" y="1376.4" font-family='"Liberation Sans", sans-serif' font-size="16.4" fill="#4d4d4d" textLength="125.0" lengthAdjust="spacingAndGlyphs" stroke="#4d4d4d" stroke-width="0.3">Alpha−S2−casein</text>
<rect x="1218.7" y="1359.8" width="137.5" height="21.9" fill="none" stroke="#cfcfcf" stroke-width="0.9" stroke-dasharray="1.2 2.2"/>
<line x1="1354.0" y1="1462.9" x2="1359.6" y2="1462.9" stroke="#333" stroke-width="1.6"/>
<text x="1225.0" y="1468.9" font-family='"Liberation Sans", sans-serif' font-size="16.4" fill="#4d4d4d" textLength="125.0" lengthAdjust="spacingAndGlyphs" stroke="#4d4d4d" stroke-width="0.3">Alpha−S1−casein</text>
<rect x="1218.7" y="1452.3" width="137.5" height="21.9" fill="none" stroke="#cfcfcf" stroke-width="0.9" stroke-dasharray="1.2 2.2"/>
<line x1="1441.3" y1="1517.8" x2="1441.3" y2="1523.1" stroke="#333" stroke-width="1.6"/>
<g transform="translate(1448.9,1536.0) rotate(-45)"><text x="0" y="0" font-family='"Liberation Sans", sans-serif' font-size="16.4" text-anchor="end" fill="#4d4d4d" stroke="#4d4d4d" stroke-width="0.25" textLength="83.5" lengthAdjust="spacingAndGlyphs">ALA_Pre_1</text><rect x="-92" y="-16.5" width="98" height="22" fill="none" stroke="#cfcfcf" stroke-width="0.9" stroke-dasharray="1.2 2.2"/></g>
<line x1="1578.6" y1="1517.8" x2="1578.6" y2="1523.1" stroke="#333" stroke-width="1.6"/>
<g transform="translate(1586.2,1536.0) rotate(-45)"><text x="0" y="0" font-family='"Liberation Sans", sans-serif' font-size="16.4" text-anchor="end" fill="#4d4d4d" stroke="#4d4d4d" stroke-width="0.25" textLength="83.5" lengthAdjust="spacingAndGlyphs">ALA_Pre_2</text><rect x="-92" y="-16.5" width="98" height="22" fill="none" stroke="#cfcfcf" stroke-width="0.9" stroke-dasharray="1.2 2.2"/></g>
<line x1="1716.0" y1="1517.8" x2="1716.0" y2="1523.1" stroke="#333" stroke-width="1.6"/>
<g transform="translate(1723.6,1536.0) rotate(-45)"><text x="0" y="0" font-family='"Liberation Sans", sans-serif' font-size="16.4" text-anchor="end" fill="#4d4d4d" stroke="#4d4d4d" stroke-width="0.25" textLength="83.5" lengthAdjust="spacingAndGlyphs">BLG_Pre_1</text><rect x="-92" y="-16.5" width="98" height="22" fill="none" stroke="#cfcfcf" stroke-width="0.9" stroke-dasharray="1.2 2.2"/></g>
<line x1="1853.3" y1="1517.8" x2="1853.3" y2="1523.1" stroke="#333" stroke-width="1.6"/>
<g transform="translate(1860.9,1536.0) rotate(-45)"><text x="0" y="0" font-family='"Liberation Sans", sans-serif' font-size="16.4" text-anchor="end" fill="#4d4d4d" stroke="#4d4d4d" stroke-width="0.25" textLength="83.5" lengthAdjust="spacingAndGlyphs">BLG_Pre_2</text><rect x="-92" y="-16.5" width="98" height="22" fill="none" stroke="#cfcfcf" stroke-width="0.9" stroke-dasharray="1.2 2.2"/></g>
<line x1="1990.7" y1="1517.8" x2="1990.7" y2="1523.1" stroke="#333" stroke-width="1.6"/>
<g transform="translate(1998.3,1536.0) rotate(-45)"><text x="0" y="0" font-family='"Liberation Sans", sans-serif' font-size="16.4" text-anchor="end" fill="#4d4d4d" stroke="#4d4d4d" stroke-width="0.25" textLength="83.5" lengthAdjust="spacingAndGlyphs">CSN_Pre_1</text><rect x="-92" y="-16.5" width="98" height="22" fill="none" stroke="#cfcfcf" stroke-width="0.9" stroke-dasharray="1.2 2.2"/></g>
<line x1="2128.1" y1="1517.8" x2="2128.1" y2="1523.1" stroke="#333" stroke-width="1.6"/>
<g transform="translate(2135.7,1536.0) rotate(-45)"><text x="0" y="0" font-family='"Liberation Sans", sans-serif' font-size="16.4" text-anchor="end" fill="#4d4d4d" stroke="#4d4d4d" stroke-width="0.25" textLength="83.5" lengthAdjust="spacingAndGlyphs">CSN_Pre_2</text><rect x="-92" y="-16.5" width="98" height="22" fill="none" stroke="#cfcfcf" stroke-width="0.9" stroke-dasharray="1.2 2.2"/></g>
<defs><linearGradient id="cb" x1="0" y1="1" x2="0" y2="0">
<stop offset="0.000" stop-color="rgb(66, 106, 246)"/>
<stop offset="0.090" stop-color="rgb(84, 104, 242)"/>
<stop offset="0.209" stop-color="rgb(138, 88, 220)"/>
<stop offset="0.328" stop-color="rgb(166, 79, 192)"/>
<stop offset="0.493" stop-color="rgb(200, 65, 140)"/>
<stop offset="0.642" stop-color="rgb(224, 54, 95)"/>
<stop offset="0.821" stop-color="rgb(240, 46, 60)"/>
<stop offset="1.000" stop-color="rgb(255, 38, 24)"/>
</linearGradient></defs>
<rect x="2239.2" y="1038.6" width="30.8" height="159.2" fill="url(#cb)"/>
<line x1="2239.2" y1="1055.2" x2="2245.4" y2="1055.2" stroke="#fff" stroke-width="0.9" opacity="0.8"/>
<line x1="2263.8" y1="1055.2" x2="2270.0" y2="1055.2" stroke="#fff" stroke-width="0.9" opacity="0.8"/>
<text x="2280.2" y="1060.8" font-family='"Liberation Sans", sans-serif' font-size="15.6" fill="#111">60</text>
<line x1="2239.2" y1="1102.7" x2="2245.4" y2="1102.7" stroke="#fff" stroke-width="0.9" opacity="0.8"/>
<line x1="2263.8" y1="1102.7" x2="2270.0" y2="1102.7" stroke="#fff" stroke-width="0.9" opacity="0.8"/>
<text x="2280.2" y="1108.3" font-family='"Liberation Sans", sans-serif' font-size="15.6" fill="#111">40</text>
<line x1="2239.2" y1="1150.2" x2="2245.4" y2="1150.2" stroke="#fff" stroke-width="0.9" opacity="0.8"/>
<line x1="2263.8" y1="1150.2" x2="2270.0" y2="1150.2" stroke="#fff" stroke-width="0.9" opacity="0.8"/>
<text x="2280.2" y="1155.8" font-family='"Liberation Sans", sans-serif' font-size="15.6" fill="#111">20</text>
<rect x="2274" y="1044.3" width="29.8" height="116.9" fill="none" stroke="#cfcfcf" stroke-width="0.9" stroke-dasharray="1.2 2.2"/>
<text x="2240.4" y="1253.7" font-family='"Liberation Sans", sans-serif' font-size="18" fill="#111" textLength="96.8" lengthAdjust="spacingAndGlyphs">Percentage</text>
<rect x="2235.2" y="1234.3" width="108.2" height="25.7" fill="none" stroke="#cfcfcf" stroke-width="0.9" stroke-dasharray="1.2 2.2"/>
<circle cx="2254.6" cy="1282.3" r="8.2" fill="#000"/>
<text x="2280.2" y="1287.9" font-family='"Liberation Sans", sans-serif' font-size="15.6" fill="#111">20</text>
<circle cx="2254.6" cy="1313.9" r="10.45" fill="#000"/>
<text x="2280.2" y="1319.5" font-family='"Liberation Sans", sans-serif' font-size="15.6" fill="#111">40</text>
<circle cx="2254.6" cy="1345.8" r="12.2" fill="#000"/>
<text x="2280.2" y="1351.4" font-family='"Liberation Sans", sans-serif' font-size="15.6" fill="#111">60</text>
<rect x="2274" y="1271.6" width="29.8" height="84.9" fill="none" stroke="#cfcfcf" stroke-width="0.9" stroke-dasharray="1.2 2.2"/>
<text x="1186.5" y="879.3" font-family='"Liberation Serif", serif' font-size="69" fill="#000">D</text>
</g>
<defs><clipPath id="cutb"><rect x="0" y="1640" width="2370" height="7.2"/></clipPath></defs>
<g clip-path="url(#cutb)" font-family='"Liberation Serif", serif' font-size="70" fill="#000">
<text x="21.6" y="1691.2">G</text><text x="1188.5" y="1690.8">H</text>
</g>
</svg></body></html>
